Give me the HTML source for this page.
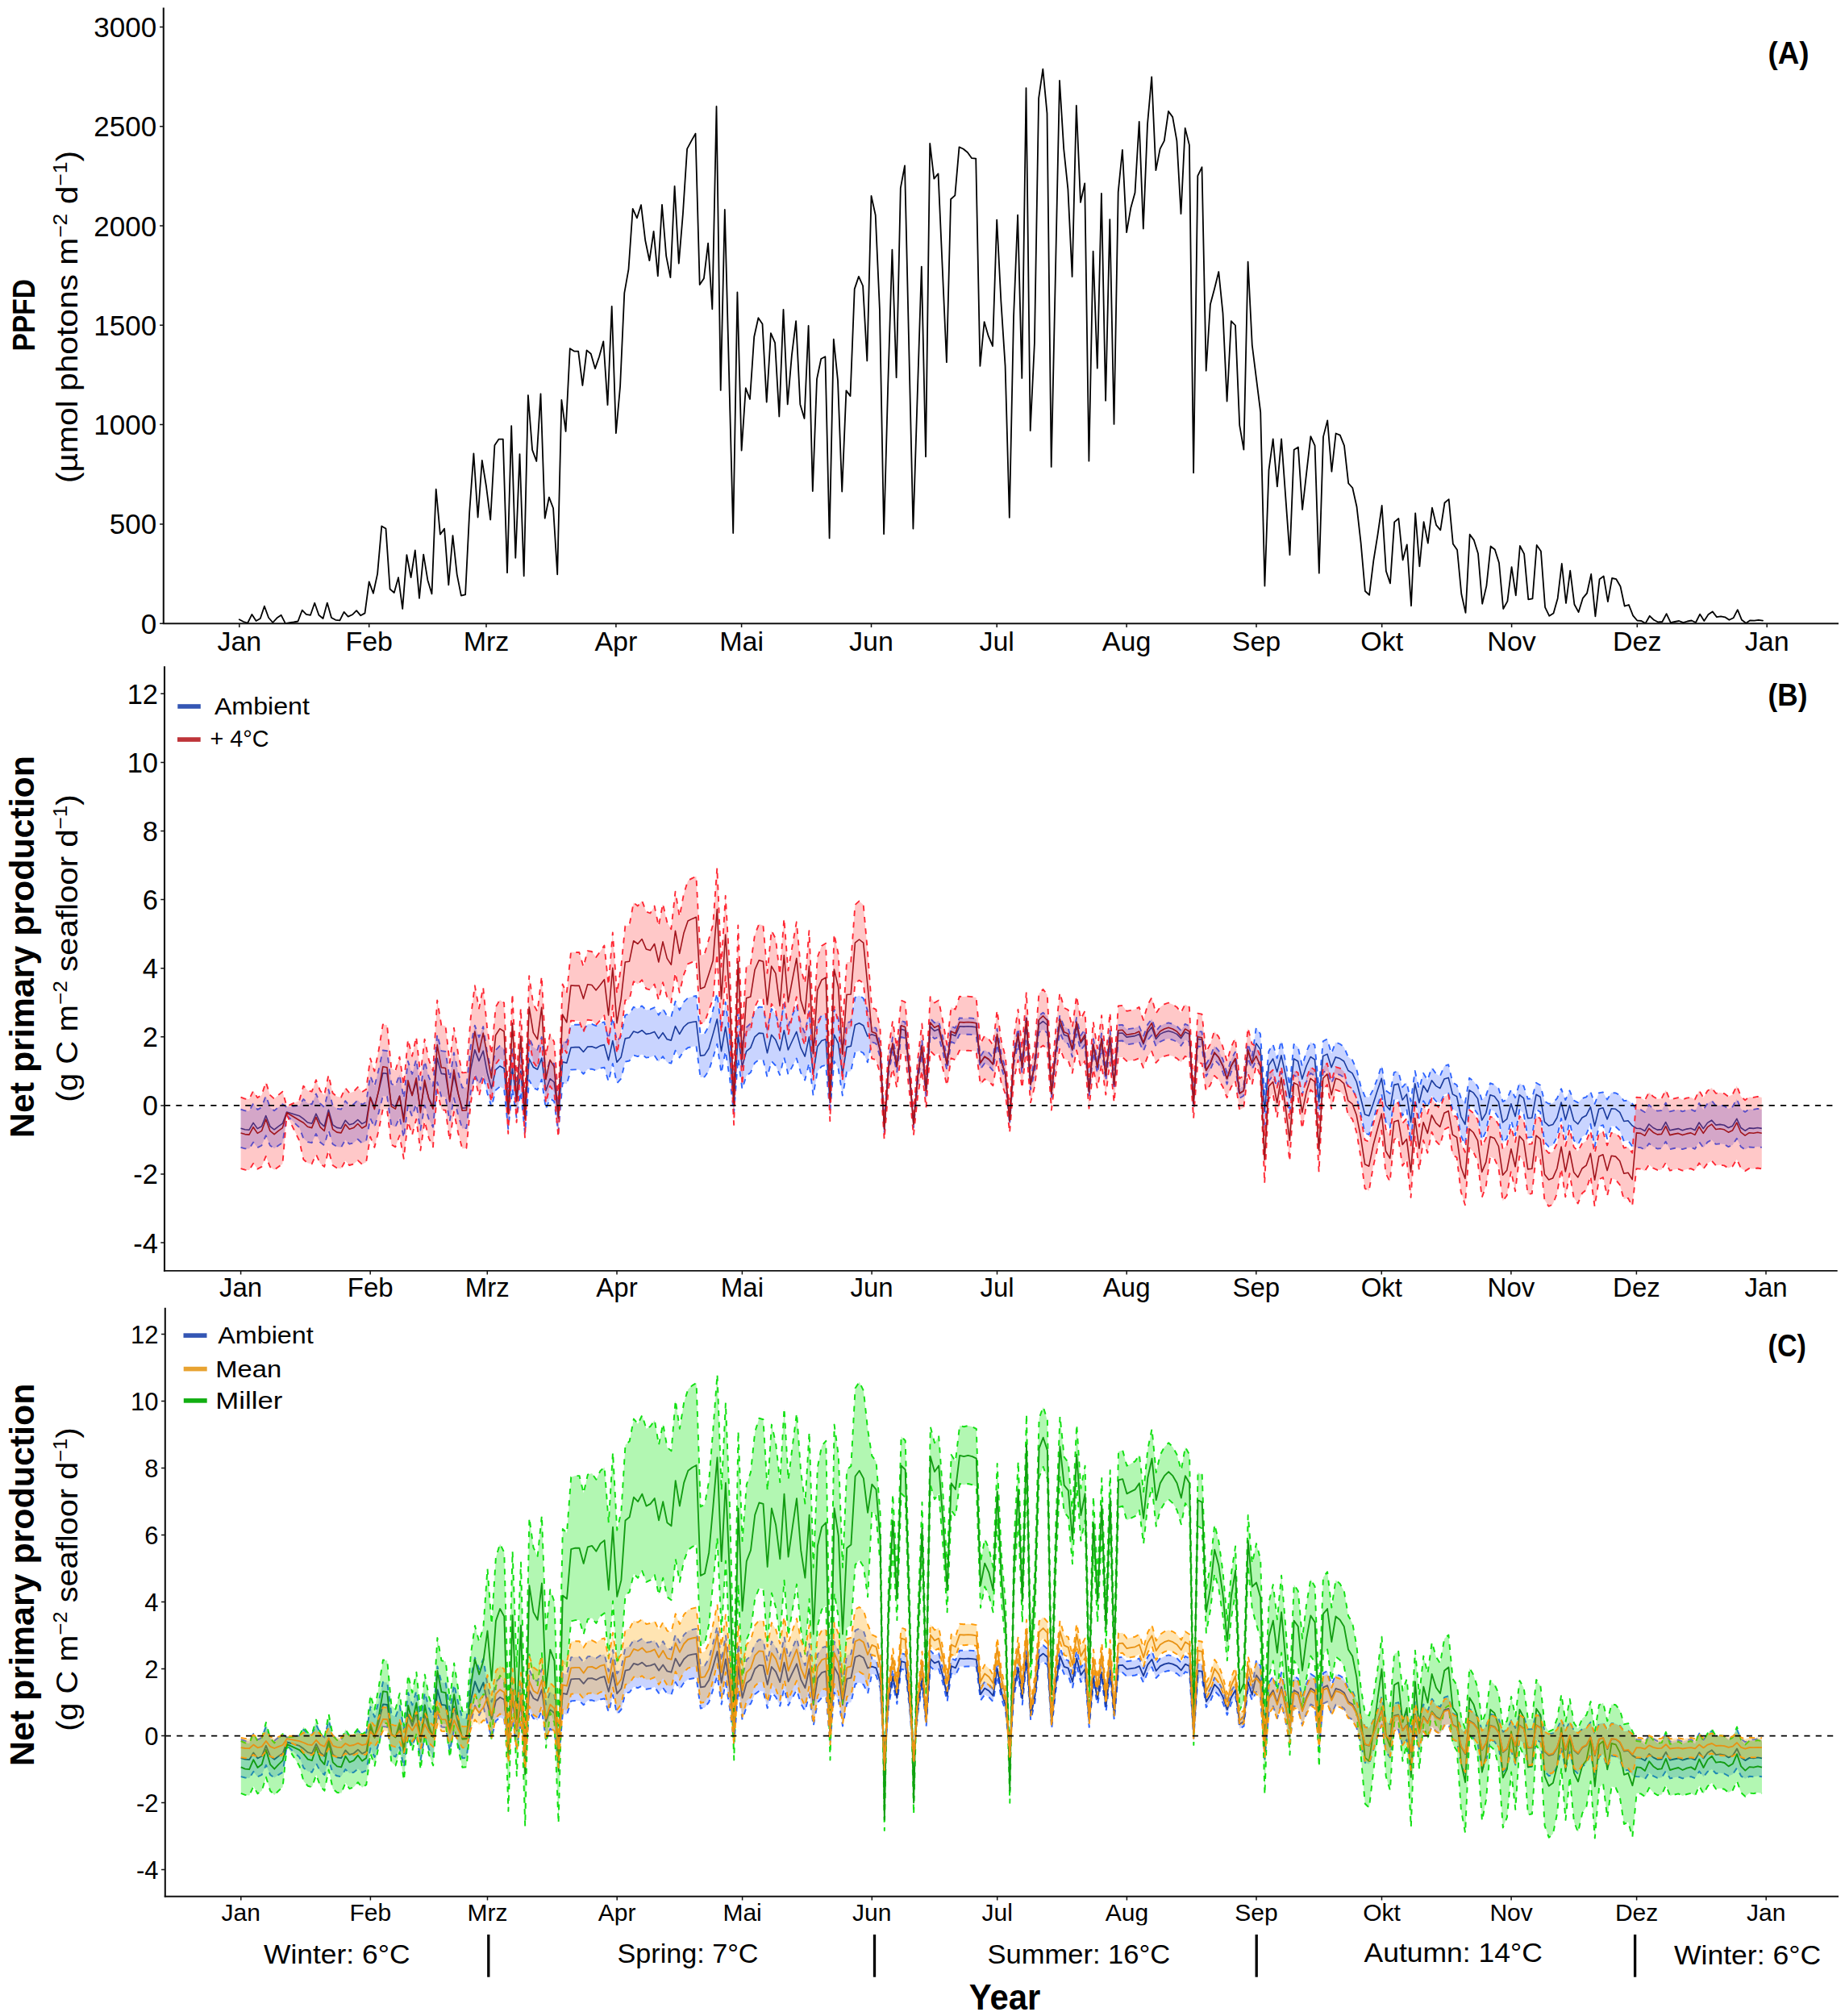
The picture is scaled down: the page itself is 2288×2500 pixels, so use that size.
<!DOCTYPE html>
<html lang="en"><head><meta charset="utf-8"><title>PPFD and net primary production over the year</title>
<style>html,body{margin:0;padding:0;background:#fff}body{width:2288px;height:2500px;overflow:hidden}svg{display:block}</style>
</head><body>
<svg width="2288" height="2500" viewBox="0 0 2288 2500">
<rect width="2288" height="2500" fill="#fff"/>
<polyline points="296.8,768.3 302,771 307.2,772.5 312.4,761.9 317.6,770 322.8,767 327.9,751.7 333.1,766 338.3,772 343.5,766.3 348.7,762.8 353.9,773.2 359.1,772.2 364.3,771.5 369.5,770.5 374.7,756.7 379.8,761.9 385,762.8 390.2,747.8 395.4,762.8 400.6,767 405.8,747.6 411,766 416.2,768.8 421.4,769.3 426.6,758.9 431.7,764.6 436.9,762.3 442.1,757.2 447.3,763.3 452.5,760.4 457.7,721.4 462.9,735.7 468.1,711.6 473.3,652.4 478.5,655.6 483.6,730.5 488.8,735 494,716.2 499.2,755 504.4,688.1 509.6,716 514.8,682.5 520,741.9 525.2,687.6 530.4,719.4 535.5,736.5 540.7,606.7 545.9,662.7 551.1,655.6 556.3,725.4 561.5,664.2 566.7,712.3 571.9,738.7 577.1,737.4 582.2,635.1 587.4,562.4 592.6,641.5 597.8,571 603,603 608.2,644.5 613.4,552.2 618.6,544.6 623.8,544.6 629,710.1 634.2,528.1 639.3,691.8 644.5,563.1 649.7,714.3 654.9,490.1 660.1,557.9 665.3,572 670.5,488.4 675.7,642.7 680.9,616.6 686.1,630.2 691.2,712.3 696.4,496 701.6,535 706.8,432.2 712,435.6 717.2,435.6 722.4,478 727.6,434.4 732.8,438.8 738,457.1 743.1,442.3 748.3,423.3 753.5,502.2 758.7,379.9 763.9,537.2 769.1,479 774.3,363.4 779.5,333.8 784.7,258.8 789.9,270.4 795,254.1 800.2,298 805.4,323.2 810.6,286.9 815.8,342.4 821,253.9 826.2,317.7 831.4,344.1 836.6,230.9 841.8,326.6 846.9,265.2 852.1,184.6 857.3,174.9 862.5,165.6 867.7,353 872.9,345.3 878.1,301.7 883.3,383.3 888.5,132 893.7,483.9 898.8,260 904,460 909.2,661 914.4,362.4 919.6,558.7 924.8,481.2 930,495 935.2,417.8 940.4,394.2 945.5,401.8 950.7,498.7 955.9,413.2 961.1,425.2 966.3,516.5 971.5,383.8 976.7,501.4 981.9,440.3 987.1,398.1 992.3,501.4 997.5,519 1002.6,404 1007.8,609 1013,470.1 1018.2,445 1023.4,442.3 1028.6,667.4 1033.8,420.6 1039,471.9 1044.2,609.5 1049.4,484.4 1054.5,491.1 1059.7,358.4 1064.9,342.9 1070.1,354.5 1075.3,447.4 1080.5,243 1085.7,266.7 1090.9,383.6 1096.1,662.2 1101.2,477.3 1106.4,309.6 1111.6,468.2 1116.8,233.1 1122,205.5 1127.2,430.4 1132.4,655.6 1137.6,493.3 1142.8,330.6 1148,566.3 1153.2,177.9 1158.3,221.6 1163.5,215.4 1168.7,332.3 1173.9,449.2 1179.1,247 1184.3,242.3 1189.5,182.3 1194.7,184.8 1199.9,189 1205.1,196.2 1210.2,196.6 1215.4,453.9 1220.6,399.1 1225.8,416.9 1231,429.2 1236.2,272.6 1241.4,374.2 1246.6,453.9 1251.8,641.8 1257,393.4 1262.1,266.7 1267.3,468.9 1272.5,109.1 1277.7,534 1282.9,425.5 1288.1,121.9 1293.3,85.7 1298.5,140.7 1303.7,578.9 1308.9,339.2 1314,100 1319.2,184.6 1324.4,234.6 1329.6,343.1 1334.8,130.8 1340,250.9 1345.2,227.5 1350.4,571.7 1355.6,311.6 1360.8,456.6 1365.9,239.8 1371.1,496.8 1376.3,272.1 1381.5,525.9 1386.7,238.1 1391.9,185.8 1397.1,288.1 1402.3,257.8 1407.5,239.1 1412.7,150.8 1417.8,283.5 1423,154 1428.2,95.3 1433.4,211.2 1438.6,184.6 1443.8,174.7 1449,138 1454.2,145.1 1459.4,174.7 1464.5,265.2 1469.7,158.9 1474.9,179.9 1480.1,586.3 1485.3,218.1 1490.5,207.3 1495.7,459.8 1500.9,377.4 1506.1,357.9 1511.3,337 1516.5,388.3 1521.6,497.7 1526.8,398.1 1532,403.5 1537.2,527.3 1542.4,557.7 1547.6,324.6 1552.8,428 1558,469.6 1563.2,511.1 1568.4,726.6 1573.5,582.8 1578.7,544.4 1583.9,603.3 1589.1,544.4 1594.3,616.6 1599.5,688.1 1604.7,557.7 1609.9,554.5 1615.1,631.9 1620.2,586.3 1625.4,541.1 1630.6,552.7 1635.8,710.6 1641,541.6 1646.2,521.4 1651.4,584.8 1656.6,537.5 1661.8,539.7 1667,552.7 1672.2,599.3 1677.3,605 1682.5,628.2 1687.7,673.8 1692.9,733 1698.1,737.9 1703.3,695.3 1708.5,663.2 1713.7,627 1718.9,708.3 1724,723.4 1729.2,647.4 1734.4,643 1739.6,694.5 1744.8,675.3 1750,751.3 1755.2,636.3 1760.4,702.4 1765.6,647.2 1770.8,673.6 1776,629.7 1781.1,651.1 1786.3,657.3 1791.5,623.5 1796.7,619.1 1801.9,674.6 1807.1,682 1812.3,736.5 1817.5,759.9 1822.7,662.7 1827.9,669.9 1833,686.4 1838.2,748.8 1843.4,726.6 1848.6,677.5 1853.8,681.5 1859,698 1864.2,755 1869.4,745.6 1874.6,703.2 1879.8,738.4 1884.9,677 1890.1,686.9 1895.3,743.4 1900.5,742.4 1905.7,676 1910.9,683.4 1916.1,753.2 1921.3,763.8 1926.5,760.6 1931.7,741.9 1936.8,699 1942,748 1947.2,707.6 1952.4,749.5 1957.6,759.1 1962.8,741.9 1968,735.7 1973.2,712 1978.4,764.3 1983.6,718.2 1988.7,714.5 1993.9,746.1 1999.1,717 2004.3,718.2 2009.5,727.3 2014.7,751.7 2019.9,750 2025.1,763.3 2030.3,769.5 2035.5,770 2040.6,773 2045.8,763.8 2051,768.8 2056.2,771.5 2061.4,771 2066.6,761.1 2071.8,772.2 2077,771 2082.2,770 2087.4,772.2 2092.5,770.5 2097.7,769.5 2102.9,772 2108.1,761.6 2113.3,770 2118.5,762.1 2123.7,758.4 2128.9,765.1 2134.1,764.3 2139.2,765.3 2144.4,768.8 2149.6,766.3 2154.8,756.2 2160,768.8 2165.2,772.7 2170.4,769.3 2175.6,769.7 2180.8,768.8 2186,769.7" fill="none" stroke="#000" stroke-width="1.8" stroke-linejoin="round" stroke-linecap="round"/>
<path d="M202.8 9.5V774.1" fill="none" stroke="#111" stroke-width="2.1"/>
<path d="M201.8 773.2H2280" fill="none" stroke="#111" stroke-width="1.85"/>
<path d="M202.8 773.2h-4.7M202.8 649.9h-4.7M202.8 526.6h-4.7M202.8 403.3h-4.7M202.8 280h-4.7M202.8 156.7h-4.7M202.8 33.4h-4.7M296.8 773.2v4.7M457.7 773.2v4.7M603 773.2v4.7M763.9 773.2v4.7M919.6 773.2v4.7M1080.5 773.2v4.7M1236.2 773.2v4.7M1397.1 773.2v4.7M1558 773.2v4.7M1713.7 773.2v4.7M1874.6 773.2v4.7M2030.3 773.2v4.7M2191.2 773.2v4.7" stroke="#111" stroke-width="1.5" fill="none"/>
<g style="font-family:&quot;Liberation Sans&quot;,Arial,Helvetica,sans-serif;font-size:35px" text-anchor="end">
<text x="194.2" y="785.7">0</text>
<text x="194.2" y="662.4">500</text>
<text x="194.2" y="539.1">1000</text>
<text x="194.2" y="415.8">1500</text>
<text x="194.2" y="292.5">2000</text>
<text x="194.2" y="169.2">2500</text>
<text x="194.2" y="45.9">3000</text>
</g>
<g style="font-family:&quot;Liberation Sans&quot;,Arial,Helvetica,sans-serif;font-size:34px" text-anchor="middle">
<text x="296.8" y="806.5">Jan</text>
<text x="457.7" y="806.5">Feb</text>
<text x="603" y="806.5">Mrz</text>
<text x="763.9" y="806.5">Apr</text>
<text x="919.6" y="806.5">Mai</text>
<text x="1080.5" y="806.5">Jun</text>
<text x="1236.2" y="806.5">Jul</text>
<text x="1397.1" y="806.5">Aug</text>
<text x="1558" y="806.5">Sep</text>
<text x="1713.7" y="806.5">Okt</text>
<text x="1874.6" y="806.5">Nov</text>
<text x="2030.3" y="806.5">Dez</text>
<text x="2191.2" y="806.5">Jan</text>
</g>
<polygon points="298.6,1375.7 303.8,1377.4 309,1377.8 314.1,1368.4 319.3,1376.1 324.5,1373.1 329.7,1358.9 334.9,1373.1 340.1,1377.4 345.2,1373.1 350.4,1369.3 355.6,1373 371.1,1370.9 376.3,1363 381.5,1368 386.7,1369.3 391.9,1356.4 397.1,1368.4 402.2,1373.1 407.4,1351.2 412.6,1371 417.8,1374.8 423,1375.7 428.2,1365.1 433.3,1371 438.5,1369.3 443.7,1364.2 448.9,1369.7 454.1,1366.7 459.2,1334.1 464.4,1347.2 469.6,1326.4 474.8,1302.5 480,1303.2 485.2,1343.7 490.3,1346.8 495.5,1332.6 500.7,1362.2 505.9,1316 511.1,1331.9 516.2,1313.6 521.4,1351.2 526.6,1315.7 531.8,1335.6 537,1346.8 542.2,1282.6 547.3,1303.2 552.5,1303.8 557.7,1338.7 562.9,1305.5 568.1,1329.3 573.2,1348.8 578.4,1348.4 583.6,1297.6 588.8,1271.6 594,1286.2 599.2,1273 604.3,1306.5 609.5,1327.9 614.7,1302.2 619.9,1296.9 625.1,1300.3 630.2,1361.3 635.4,1299.8 640.6,1344.6 645.8,1304.1 651,1368.4 656.2,1286.9 661.3,1298.4 666.5,1301.7 671.7,1286 676.9,1331.3 682.1,1314.6 687.2,1319.3 692.4,1367 697.6,1291.2 702.8,1292.7 708,1271.2 713.2,1270.7 718.3,1270.7 723.5,1277.4 728.7,1270.3 733.9,1269.8 739.1,1272.2 744.3,1268.8 749.4,1267.4 754.6,1288.8 759.8,1261.7 765,1291.7 770.2,1284.6 775.3,1258.8 780.5,1257.4 785.7,1248.8 790.9,1250.7 796.1,1247.4 801.3,1252.6 806.4,1251.7 811.6,1249.3 816.8,1258.8 822,1250.7 827.2,1259.8 832.3,1261.2 837.5,1241.7 842.7,1252.6 847.9,1242.6 853.1,1237.4 858.3,1235.9 863.4,1235 868.6,1282.7 873.8,1281.7 879,1272.6 884.2,1252.6 889.3,1231.7 894.5,1276.5 899.7,1242.6 904.9,1283.6 910.1,1349.6 915.3,1253.6 920.4,1295.9 925.6,1274.2 930.8,1269.3 936,1253.9 941.2,1248.6 946.4,1249.1 951.5,1276.6 956.7,1251 961.9,1258.2 967.1,1273.2 972.3,1244.7 977.4,1272.2 982.6,1259.2 987.8,1246.6 993,1269.3 998.2,1281.4 1003.4,1253.9 1008.5,1306 1013.7,1267.4 1018.9,1259.2 1024.1,1257.3 1029.3,1349.6 1034.4,1251 1039.6,1263.1 1044.8,1306 1050,1268.4 1055.2,1266.9 1060.4,1237 1065.5,1234.6 1070.7,1238 1075.9,1252.9 1081.1,1272.9 1086.3,1274.8 1091.4,1293.2 1096.6,1396.2 1101.8,1316.7 1107,1286.3 1112.2,1314.9 1117.4,1266 1122.5,1267.5 1127.7,1320.7 1132.9,1389.9 1138.1,1327.8 1143.3,1289.1 1148.4,1346.6 1153.6,1262.7 1158.8,1268.3 1164,1266 1169.2,1286.3 1174.4,1311.9 1179.5,1272.5 1184.7,1274.8 1189.9,1262.3 1195.1,1262.7 1200.3,1262.3 1205.5,1262.7 1210.6,1263.4 1215.8,1310.1 1221,1302 1226.2,1305.4 1231.4,1311.9 1236.5,1275.6 1241.7,1307.5 1246.9,1325.2 1252.1,1385.5 1257.3,1302.8 1262.5,1274.8 1267.6,1315.8 1272.8,1258.2 1278,1338.1 1283.2,1312.7 1288.4,1259.7 1293.5,1255.7 1298.7,1260.4 1303.9,1350.2 1309.1,1296.5 1314.3,1259 1319.5,1273.2 1324.6,1275.2 1329.8,1293.2 1335,1261.9 1340.2,1284.3 1345.4,1276.3 1350.5,1347.5 1355.7,1287.1 1360.9,1315.8 1366.1,1280.7 1371.3,1326.1 1376.5,1277.9 1381.6,1338.1 1386.8,1271.3 1392,1270.9 1397.2,1276.3 1402.4,1275.6 1407.5,1274.8 1412.7,1272.5 1417.9,1285.5 1423.1,1270.6 1428.3,1263.4 1433.5,1278.7 1438.6,1272.5 1443.8,1269.8 1449,1268.3 1454.2,1269.8 1459.4,1272.5 1464.6,1277.9 1469.7,1269.8 1474.9,1272.5 1480.1,1363.1 1485.3,1278.7 1490.5,1279.5 1495.6,1319.8 1500.8,1311 1506,1296.9 1511.2,1302.8 1516.4,1313.6 1521.6,1330.5 1526.7,1314 1531.9,1304.5 1537.1,1349.7 1542.3,1346.2 1547.5,1293.6 1552.6,1310.6 1557.8,1274.3 1563,1282.3 1568.2,1357.3 1573.4,1303.7 1578.6,1295 1583.7,1312.4 1588.9,1290.4 1594.1,1316.1 1599.3,1346.6 1604.5,1295 1609.6,1298.2 1614.8,1322.1 1620,1304.6 1625.2,1292.2 1630.4,1295.9 1635.6,1349.9 1640.7,1291.3 1645.9,1288.5 1651.1,1306.4 1656.3,1292.7 1661.5,1294.5 1666.6,1298.2 1671.8,1310.6 1677,1314.3 1682.2,1325.7 1687.4,1346.6 1692.6,1359.7 1697.7,1360.8 1702.9,1351.2 1708.1,1337.7 1713.3,1321.2 1718.5,1352.3 1723.7,1356.1 1728.8,1329.9 1734,1328.5 1739.2,1348.2 1744.4,1342.3 1749.6,1365.9 1754.7,1328 1759.9,1350.4 1765.1,1330.8 1770.3,1339.5 1775.5,1323.9 1780.7,1331.3 1785.8,1334.5 1791,1322.1 1796.2,1320.2 1801.4,1342.3 1806.6,1345.5 1811.7,1361.3 1816.9,1367.6 1822.1,1336.8 1827.3,1340.5 1832.5,1347.2 1837.7,1364.3 1842.8,1358.6 1848,1343.2 1853.2,1345.2 1858.4,1349.8 1863.6,1366.1 1868.7,1363.3 1873.9,1351.2 1879.1,1361.2 1884.3,1343.2 1889.5,1346.8 1894.7,1362.7 1899.8,1362.4 1905,1342.7 1910.2,1345.8 1915.4,1365.6 1920.6,1368.8 1925.7,1367.8 1930.9,1362.2 1936.1,1350.1 1941.3,1364.1 1946.5,1352.4 1951.7,1364.5 1956.8,1367.4 1962,1362.2 1967.2,1360.4 1972.4,1353.7 1977.6,1368.9 1982.8,1355.4 1987.9,1354.4 1993.1,1363.5 1998.3,1355.1 2003.5,1355.4 2008.7,1358 2013.8,1365.2 2019,1364.6 2024.2,1368.6 2029.4,1375.6 2034.6,1376.1 2039.8,1379.2 2044.9,1370 2050.1,1374.9 2055.3,1377.6 2060.5,1377.1 2065.7,1367.5 2070.8,1378.4 2076,1377.1 2081.2,1376.1 2086.4,1378.4 2091.6,1376.6 2096.8,1375.6 2101.9,1378.1 2107.1,1367.9 2112.3,1376.1 2117.5,1368.4 2122.7,1364.9 2127.8,1371.2 2133,1370.5 2138.2,1371.5 2143.4,1374.9 2148.6,1372.4 2153.8,1362.9 2158.9,1374.9 2164.1,1378.9 2169.3,1375.4 2174.5,1375.9 2179.7,1374.9 2184.8,1375.9 2184.8,1422.9 2179.7,1422.1 2174.5,1422.9 2169.3,1422.5 2164.1,1425.6 2158.9,1422.1 2153.8,1411.7 2148.6,1420 2143.4,1422.1 2138.2,1419.1 2133,1418.3 2127.8,1418.9 2122.7,1413.4 2117.5,1416.4 2112.3,1423.2 2107.1,1416 2101.9,1424.9 2096.8,1422.7 2091.6,1423.6 2086.4,1425.1 2081.2,1423.2 2076,1424 2070.8,1425.1 2065.7,1415.6 2060.5,1424 2055.3,1424.5 2050.1,1422.1 2044.9,1417.9 2039.8,1425.8 2034.6,1423.2 2029.4,1422.7 2024.2,1421.8 2019,1414.3 2013.8,1415.3 2008.7,1401.9 2003.5,1397 1998.3,1396.4 1993.1,1412.1 1987.9,1395.1 1982.8,1397 1977.6,1422.3 1972.4,1393.8 1967.2,1406.5 1962,1409.8 1956.8,1419.4 1951.7,1414 1946.5,1391.4 1941.3,1413.2 1936.1,1387 1930.9,1409.8 1925.7,1420.2 1920.6,1422 1915.4,1416.1 1910.2,1379.1 1905,1375.7 1899.8,1410.1 1894.7,1410.6 1889.5,1380.8 1884.3,1376.1 1879.1,1407.9 1873.9,1389.1 1868.7,1411.9 1863.6,1417.1 1858.4,1386.5 1853.2,1378.1 1848,1376.1 1842.8,1403 1837.7,1413.7 1832.5,1381.5 1827.3,1373.7 1822.1,1370.4 1816.9,1419.8 1811.7,1408.1 1806.6,1378.5 1801.4,1375.3 1796.2,1355.7 1791,1357.3 1785.8,1368.3 1780.7,1365.5 1775.5,1359 1770.3,1372.8 1765.1,1365.1 1759.9,1387.7 1754.7,1362.6 1749.6,1416.8 1744.4,1375.3 1739.2,1383.6 1734,1363 1728.8,1364.3 1723.7,1398.4 1718.5,1391.2 1713.3,1356.5 1708.1,1371.2 1702.9,1389.2 1697.7,1407.1 1692.6,1405 1687.4,1380.5 1682.2,1360.6 1677,1350.4 1671.8,1347.1 1666.6,1336.1 1661.5,1332.8 1656.3,1331.2 1651.1,1343.4 1645.9,1327.5 1640.7,1329.9 1635.6,1386.6 1630.4,1334 1625.2,1330.8 1620,1341.8 1614.8,1357.3 1609.6,1336.1 1604.5,1333.2 1599.3,1380.5 1594.1,1352 1588.9,1329.1 1583.7,1348.7 1578.6,1333.2 1573.4,1341 1568.2,1400.5 1563,1322 1557.8,1314.8 1552.6,1326.4 1547.5,1311.1 1542.3,1358.7 1537.1,1362 1531.9,1321 1526.7,1329.6 1521.6,1344.5 1516.4,1329.2 1511.2,1319.4 1506,1314.1 1500.8,1326.8 1495.6,1334.8 1490.5,1298.2 1485.3,1297.5 1480.1,1374.1 1474.9,1291.9 1469.7,1289.5 1464.6,1296.8 1459.4,1291.9 1454.2,1289.5 1449,1288.1 1443.8,1289.5 1438.6,1291.9 1433.5,1297.5 1428.3,1283.7 1423.1,1290.1 1417.9,1303.7 1412.7,1291.9 1407.5,1294 1402.4,1294.7 1397.2,1295.4 1392,1290.5 1386.8,1290.8 1381.6,1351.4 1376.5,1296.8 1371.3,1340.5 1366.1,1299.3 1360.9,1331.2 1355.7,1305.1 1350.5,1359.9 1345.4,1295.4 1340.2,1302.6 1335,1282.3 1329.8,1310.7 1324.6,1294.3 1319.5,1292.6 1314.3,1279.6 1309.1,1313.7 1303.9,1362.4 1298.7,1281 1293.5,1276.7 1288.4,1280.3 1283.2,1328.4 1278,1351.4 1272.8,1279 1267.6,1331.2 1262.5,1294 1257.3,1319.4 1252.1,1394.4 1246.9,1339.7 1241.7,1323.7 1236.5,1294.7 1231.4,1327.6 1226.2,1321.7 1221,1318.6 1215.8,1326 1210.6,1283.7 1205.5,1283 1200.3,1282.6 1195.1,1283 1189.9,1282.6 1184.7,1294 1179.5,1291.9 1174.4,1327.6 1169.2,1304.4 1164,1286 1158.8,1288.1 1153.6,1283 1148.4,1359.1 1143.3,1307 1138.1,1342.1 1132.9,1398.4 1127.7,1335.6 1122.5,1287.4 1117.4,1286 1112.2,1330.4 1107,1304.4 1101.8,1332 1096.6,1404.1 1091.4,1310.7 1086.3,1294 1081.1,1292.2 1075.9,1317.4 1070.7,1305.8 1065.5,1303.2 1060.4,1305 1055.2,1328.2 1050,1329.4 1044.8,1358.6 1039.6,1325.3 1034.4,1315.9 1029.3,1380.3 1024.1,1320.8 1018.9,1322.3 1013.7,1328.6 1008.5,1358.6 1003.4,1318.1 998.2,1339.5 993,1330.1 987.8,1312.5 982.6,1322.3 977.4,1332.4 972.3,1311 967.1,1333.1 961.9,1321.5 956.7,1315.9 951.5,1335.7 946.4,1314.4 941.2,1314 936,1318.1 930.8,1330.1 925.6,1333.9 920.4,1350.7 915.3,1312.4 910.1,1380.3 904.9,1336.8 899.7,1303.5 894.5,1331 889.3,1294.6 884.2,1311.6 879,1327.9 873.8,1335.3 868.6,1336 863.4,1297.3 858.3,1298.1 853.1,1299.2 847.9,1303.5 842.7,1311.6 837.5,1302.7 832.3,1318.6 827.2,1317.4 822,1310.1 816.8,1316.7 811.6,1308.9 806.4,1310.9 801.3,1311.6 796.1,1307.4 790.9,1310.1 785.7,1308.5 780.5,1315.5 775.3,1316.7 770.2,1337.6 765,1343.4 759.8,1319 754.6,1341.1 749.4,1323.6 744.3,1324.8 739.1,1327.5 733.9,1325.6 728.7,1326 723.5,1331.8 718.3,1326.4 713.2,1326.4 708,1326.7 702.8,1344.2 697.6,1343 692.4,1404.6 687.2,1365.8 682.1,1362 676.9,1375.5 671.7,1338.7 666.5,1351.5 661.3,1348.8 656.2,1339.5 651,1405.7 645.8,1353.5 640.6,1386.4 635.4,1350 630.2,1399.9 625.1,1350.4 619.9,1347.6 614.7,1351.9 609.5,1372.8 604.3,1355.4 599.2,1333.5 594,1345 588.8,1332.3 583.6,1354.9 578.4,1399.1 573.2,1399.4 568.1,1382.5 562.9,1361.7 557.7,1390.6 552.5,1360.3 547.3,1359.7 542.2,1341.9 537,1397.7 531.8,1388 526.6,1370.6 521.4,1401.5 516.2,1368.8 511.1,1384.7 505.9,1370.9 500.7,1411 495.5,1385.4 490.3,1397.7 485.2,1395 480,1359.7 474.8,1359.2 469.6,1379.9 464.4,1398 459.2,1386.7 454.1,1415 448.9,1417.6 443.7,1412.8 438.5,1417.2 433.3,1418.7 428.2,1413.5 423,1422.8 417.8,1422 412.6,1418.7 407.4,1401.5 402.2,1420.5 397.1,1416.5 391.9,1406 386.7,1417.2 381.5,1416.1 376.3,1411.7 371.1,1398.1 355.6,1383.2 350.4,1417.2 345.2,1420.5 340.1,1424.3 334.9,1420.5 329.7,1408.2 324.5,1420.5 319.3,1423.1 314.1,1416.5 309,1424.6 303.8,1424.3 298.6,1422.8" fill="rgba(65,105,255,0.285)" stroke="none"/>
<polyline points="298.6,1375.7 303.8,1377.4 309,1377.8 314.1,1368.4 319.3,1376.1 324.5,1373.1 329.7,1358.9 334.9,1373.1 340.1,1377.4 345.2,1373.1 350.4,1369.3 355.6,1373 371.1,1370.9 376.3,1363 381.5,1368 386.7,1369.3 391.9,1356.4 397.1,1368.4 402.2,1373.1 407.4,1351.2 412.6,1371 417.8,1374.8 423,1375.7 428.2,1365.1 433.3,1371 438.5,1369.3 443.7,1364.2 448.9,1369.7 454.1,1366.7 459.2,1334.1 464.4,1347.2 469.6,1326.4 474.8,1302.5 480,1303.2 485.2,1343.7 490.3,1346.8 495.5,1332.6 500.7,1362.2 505.9,1316 511.1,1331.9 516.2,1313.6 521.4,1351.2 526.6,1315.7 531.8,1335.6 537,1346.8 542.2,1282.6 547.3,1303.2 552.5,1303.8 557.7,1338.7 562.9,1305.5 568.1,1329.3 573.2,1348.8 578.4,1348.4 583.6,1297.6 588.8,1271.6 594,1286.2 599.2,1273 604.3,1306.5 609.5,1327.9 614.7,1302.2 619.9,1296.9 625.1,1300.3 630.2,1361.3 635.4,1299.8 640.6,1344.6 645.8,1304.1 651,1368.4 656.2,1286.9 661.3,1298.4 666.5,1301.7 671.7,1286 676.9,1331.3 682.1,1314.6 687.2,1319.3 692.4,1367 697.6,1291.2 702.8,1292.7 708,1271.2 713.2,1270.7 718.3,1270.7 723.5,1277.4 728.7,1270.3 733.9,1269.8 739.1,1272.2 744.3,1268.8 749.4,1267.4 754.6,1288.8 759.8,1261.7 765,1291.7 770.2,1284.6 775.3,1258.8 780.5,1257.4 785.7,1248.8 790.9,1250.7 796.1,1247.4 801.3,1252.6 806.4,1251.7 811.6,1249.3 816.8,1258.8 822,1250.7 827.2,1259.8 832.3,1261.2 837.5,1241.7 842.7,1252.6 847.9,1242.6 853.1,1237.4 858.3,1235.9 863.4,1235 868.6,1282.7 873.8,1281.7 879,1272.6 884.2,1252.6 889.3,1231.7 894.5,1276.5 899.7,1242.6 904.9,1283.6 910.1,1349.6 915.3,1253.6 920.4,1295.9 925.6,1274.2 930.8,1269.3 936,1253.9 941.2,1248.6 946.4,1249.1 951.5,1276.6 956.7,1251 961.9,1258.2 967.1,1273.2 972.3,1244.7 977.4,1272.2 982.6,1259.2 987.8,1246.6 993,1269.3 998.2,1281.4 1003.4,1253.9 1008.5,1306 1013.7,1267.4 1018.9,1259.2 1024.1,1257.3 1029.3,1349.6 1034.4,1251 1039.6,1263.1 1044.8,1306 1050,1268.4 1055.2,1266.9 1060.4,1237 1065.5,1234.6 1070.7,1238 1075.9,1252.9 1081.1,1272.9 1086.3,1274.8 1091.4,1293.2 1096.6,1396.2 1101.8,1316.7 1107,1286.3 1112.2,1314.9 1117.4,1266 1122.5,1267.5 1127.7,1320.7 1132.9,1389.9 1138.1,1327.8 1143.3,1289.1 1148.4,1346.6 1153.6,1262.7 1158.8,1268.3 1164,1266 1169.2,1286.3 1174.4,1311.9 1179.5,1272.5 1184.7,1274.8 1189.9,1262.3 1195.1,1262.7 1200.3,1262.3 1205.5,1262.7 1210.6,1263.4 1215.8,1310.1 1221,1302 1226.2,1305.4 1231.4,1311.9 1236.5,1275.6 1241.7,1307.5 1246.9,1325.2 1252.1,1385.5 1257.3,1302.8 1262.5,1274.8 1267.6,1315.8 1272.8,1258.2 1278,1338.1 1283.2,1312.7 1288.4,1259.7 1293.5,1255.7 1298.7,1260.4 1303.9,1350.2 1309.1,1296.5 1314.3,1259 1319.5,1273.2 1324.6,1275.2 1329.8,1293.2 1335,1261.9 1340.2,1284.3 1345.4,1276.3 1350.5,1347.5 1355.7,1287.1 1360.9,1315.8 1366.1,1280.7 1371.3,1326.1 1376.5,1277.9 1381.6,1338.1 1386.8,1271.3 1392,1270.9 1397.2,1276.3 1402.4,1275.6 1407.5,1274.8 1412.7,1272.5 1417.9,1285.5 1423.1,1270.6 1428.3,1263.4 1433.5,1278.7 1438.6,1272.5 1443.8,1269.8 1449,1268.3 1454.2,1269.8 1459.4,1272.5 1464.6,1277.9 1469.7,1269.8 1474.9,1272.5 1480.1,1363.1 1485.3,1278.7 1490.5,1279.5 1495.6,1319.8 1500.8,1311 1506,1296.9 1511.2,1302.8 1516.4,1313.6 1521.6,1330.5 1526.7,1314 1531.9,1304.5 1537.1,1349.7 1542.3,1346.2 1547.5,1293.6 1552.6,1310.6 1557.8,1274.3 1563,1282.3 1568.2,1357.3 1573.4,1303.7 1578.6,1295 1583.7,1312.4 1588.9,1290.4 1594.1,1316.1 1599.3,1346.6 1604.5,1295 1609.6,1298.2 1614.8,1322.1 1620,1304.6 1625.2,1292.2 1630.4,1295.9 1635.6,1349.9 1640.7,1291.3 1645.9,1288.5 1651.1,1306.4 1656.3,1292.7 1661.5,1294.5 1666.6,1298.2 1671.8,1310.6 1677,1314.3 1682.2,1325.7 1687.4,1346.6 1692.6,1359.7 1697.7,1360.8 1702.9,1351.2 1708.1,1337.7 1713.3,1321.2 1718.5,1352.3 1723.7,1356.1 1728.8,1329.9 1734,1328.5 1739.2,1348.2 1744.4,1342.3 1749.6,1365.9 1754.7,1328 1759.9,1350.4 1765.1,1330.8 1770.3,1339.5 1775.5,1323.9 1780.7,1331.3 1785.8,1334.5 1791,1322.1 1796.2,1320.2 1801.4,1342.3 1806.6,1345.5 1811.7,1361.3 1816.9,1367.6 1822.1,1336.8 1827.3,1340.5 1832.5,1347.2 1837.7,1364.3 1842.8,1358.6 1848,1343.2 1853.2,1345.2 1858.4,1349.8 1863.6,1366.1 1868.7,1363.3 1873.9,1351.2 1879.1,1361.2 1884.3,1343.2 1889.5,1346.8 1894.7,1362.7 1899.8,1362.4 1905,1342.7 1910.2,1345.8 1915.4,1365.6 1920.6,1368.8 1925.7,1367.8 1930.9,1362.2 1936.1,1350.1 1941.3,1364.1 1946.5,1352.4 1951.7,1364.5 1956.8,1367.4 1962,1362.2 1967.2,1360.4 1972.4,1353.7 1977.6,1368.9 1982.8,1355.4 1987.9,1354.4 1993.1,1363.5 1998.3,1355.1 2003.5,1355.4 2008.7,1358 2013.8,1365.2 2019,1364.6 2024.2,1368.6 2029.4,1375.6 2034.6,1376.1 2039.8,1379.2 2044.9,1370 2050.1,1374.9 2055.3,1377.6 2060.5,1377.1 2065.7,1367.5 2070.8,1378.4 2076,1377.1 2081.2,1376.1 2086.4,1378.4 2091.6,1376.6 2096.8,1375.6 2101.9,1378.1 2107.1,1367.9 2112.3,1376.1 2117.5,1368.4 2122.7,1364.9 2127.8,1371.2 2133,1370.5 2138.2,1371.5 2143.4,1374.9 2148.6,1372.4 2153.8,1362.9 2158.9,1374.9 2164.1,1378.9 2169.3,1375.4 2174.5,1375.9 2179.7,1374.9 2184.8,1375.9" fill="none" stroke="#2d64ff" stroke-width="1.85" stroke-dasharray="7 7.3" stroke-linejoin="round"/>
<polyline points="298.6,1422.8 303.8,1424.3 309,1424.6 314.1,1416.5 319.3,1423.1 324.5,1420.5 329.7,1408.2 334.9,1420.5 340.1,1424.3 345.2,1420.5 350.4,1417.2 355.6,1383.2 371.1,1398.1 376.3,1411.7 381.5,1416.1 386.7,1417.2 391.9,1406 397.1,1416.5 402.2,1420.5 407.4,1401.5 412.6,1418.7 417.8,1422 423,1422.8 428.2,1413.5 433.3,1418.7 438.5,1417.2 443.7,1412.8 448.9,1417.6 454.1,1415 459.2,1386.7 464.4,1398 469.6,1379.9 474.8,1359.2 480,1359.7 485.2,1395 490.3,1397.7 495.5,1385.4 500.7,1411 505.9,1370.9 511.1,1384.7 516.2,1368.8 521.4,1401.5 526.6,1370.6 531.8,1388 537,1397.7 542.2,1341.9 547.3,1359.7 552.5,1360.3 557.7,1390.6 562.9,1361.7 568.1,1382.5 573.2,1399.4 578.4,1399.1 583.6,1354.9 588.8,1332.3 594,1345 599.2,1333.5 604.3,1355.4 609.5,1372.8 614.7,1351.9 619.9,1347.6 625.1,1350.4 630.2,1399.9 635.4,1350 640.6,1386.4 645.8,1353.5 651,1405.7 656.2,1339.5 661.3,1348.8 666.5,1351.5 671.7,1338.7 676.9,1375.5 682.1,1362 687.2,1365.8 692.4,1404.6 697.6,1343 702.8,1344.2 708,1326.7 713.2,1326.4 718.3,1326.4 723.5,1331.8 728.7,1326 733.9,1325.6 739.1,1327.5 744.3,1324.8 749.4,1323.6 754.6,1341.1 759.8,1319 765,1343.4 770.2,1337.6 775.3,1316.7 780.5,1315.5 785.7,1308.5 790.9,1310.1 796.1,1307.4 801.3,1311.6 806.4,1310.9 811.6,1308.9 816.8,1316.7 822,1310.1 827.2,1317.4 832.3,1318.6 837.5,1302.7 842.7,1311.6 847.9,1303.5 853.1,1299.2 858.3,1298.1 863.4,1297.3 868.6,1336 873.8,1335.3 879,1327.9 884.2,1311.6 889.3,1294.6 894.5,1331 899.7,1303.5 904.9,1336.8 910.1,1380.3 915.3,1312.4 920.4,1350.7 925.6,1333.9 930.8,1330.1 936,1318.1 941.2,1314 946.4,1314.4 951.5,1335.7 956.7,1315.9 961.9,1321.5 967.1,1333.1 972.3,1311 977.4,1332.4 982.6,1322.3 987.8,1312.5 993,1330.1 998.2,1339.5 1003.4,1318.1 1008.5,1358.6 1013.7,1328.6 1018.9,1322.3 1024.1,1320.8 1029.3,1380.3 1034.4,1315.9 1039.6,1325.3 1044.8,1358.6 1050,1329.4 1055.2,1328.2 1060.4,1305 1065.5,1303.2 1070.7,1305.8 1075.9,1317.4 1081.1,1292.2 1086.3,1294 1091.4,1310.7 1096.6,1404.1 1101.8,1332 1107,1304.4 1112.2,1330.4 1117.4,1286 1122.5,1287.4 1127.7,1335.6 1132.9,1398.4 1138.1,1342.1 1143.3,1307 1148.4,1359.1 1153.6,1283 1158.8,1288.1 1164,1286 1169.2,1304.4 1174.4,1327.6 1179.5,1291.9 1184.7,1294 1189.9,1282.6 1195.1,1283 1200.3,1282.6 1205.5,1283 1210.6,1283.7 1215.8,1326 1221,1318.6 1226.2,1321.7 1231.4,1327.6 1236.5,1294.7 1241.7,1323.7 1246.9,1339.7 1252.1,1394.4 1257.3,1319.4 1262.5,1294 1267.6,1331.2 1272.8,1279 1278,1351.4 1283.2,1328.4 1288.4,1280.3 1293.5,1276.7 1298.7,1281 1303.9,1362.4 1309.1,1313.7 1314.3,1279.6 1319.5,1292.6 1324.6,1294.3 1329.8,1310.7 1335,1282.3 1340.2,1302.6 1345.4,1295.4 1350.5,1359.9 1355.7,1305.1 1360.9,1331.2 1366.1,1299.3 1371.3,1340.5 1376.5,1296.8 1381.6,1351.4 1386.8,1290.8 1392,1290.5 1397.2,1295.4 1402.4,1294.7 1407.5,1294 1412.7,1291.9 1417.9,1303.7 1423.1,1290.1 1428.3,1283.7 1433.5,1297.5 1438.6,1291.9 1443.8,1289.5 1449,1288.1 1454.2,1289.5 1459.4,1291.9 1464.6,1296.8 1469.7,1289.5 1474.9,1291.9 1480.1,1374.1 1485.3,1297.5 1490.5,1298.2 1495.6,1334.8 1500.8,1326.8 1506,1314.1 1511.2,1319.4 1516.4,1329.2 1521.6,1344.5 1526.7,1329.6 1531.9,1321 1537.1,1362 1542.3,1358.7 1547.5,1311.1 1552.6,1326.4 1557.8,1314.8 1563,1322 1568.2,1400.5 1573.4,1341 1578.6,1333.2 1583.7,1348.7 1588.9,1329.1 1594.1,1352 1599.3,1380.5 1604.5,1333.2 1609.6,1336.1 1614.8,1357.3 1620,1341.8 1625.2,1330.8 1630.4,1334 1635.6,1386.6 1640.7,1329.9 1645.9,1327.5 1651.1,1343.4 1656.3,1331.2 1661.5,1332.8 1666.6,1336.1 1671.8,1347.1 1677,1350.4 1682.2,1360.6 1687.4,1380.5 1692.6,1405 1697.7,1407.1 1702.9,1389.2 1708.1,1371.2 1713.3,1356.5 1718.5,1391.2 1723.7,1398.4 1728.8,1364.3 1734,1363 1739.2,1383.6 1744.4,1375.3 1749.6,1416.8 1754.7,1362.6 1759.9,1387.7 1765.1,1365.1 1770.3,1372.8 1775.5,1359 1780.7,1365.5 1785.8,1368.3 1791,1357.3 1796.2,1355.7 1801.4,1375.3 1806.6,1378.5 1811.7,1408.1 1816.9,1419.8 1822.1,1370.4 1827.3,1373.7 1832.5,1381.5 1837.7,1413.7 1842.8,1403 1848,1376.1 1853.2,1378.1 1858.4,1386.5 1863.6,1417.1 1868.7,1411.9 1873.9,1389.1 1879.1,1407.9 1884.3,1376.1 1889.5,1380.8 1894.7,1410.6 1899.8,1410.1 1905,1375.7 1910.2,1379.1 1915.4,1416.1 1920.6,1422 1925.7,1420.2 1930.9,1409.8 1936.1,1387 1941.3,1413.2 1946.5,1391.4 1951.7,1414 1956.8,1419.4 1962,1409.8 1967.2,1406.5 1972.4,1393.8 1977.6,1422.3 1982.8,1397 1987.9,1395.1 1993.1,1412.1 1998.3,1396.4 2003.5,1397 2008.7,1401.9 2013.8,1415.3 2019,1414.3 2024.2,1421.8 2029.4,1422.7 2034.6,1423.2 2039.8,1425.8 2044.9,1417.9 2050.1,1422.1 2055.3,1424.5 2060.5,1424 2065.7,1415.6 2070.8,1425.1 2076,1424 2081.2,1423.2 2086.4,1425.1 2091.6,1423.6 2096.8,1422.7 2101.9,1424.9 2107.1,1416 2112.3,1423.2 2117.5,1416.4 2122.7,1413.4 2127.8,1418.9 2133,1418.3 2138.2,1419.1 2143.4,1422.1 2148.6,1420 2153.8,1411.7 2158.9,1422.1 2164.1,1425.6 2169.3,1422.5 2174.5,1422.9 2179.7,1422.1 2184.8,1422.9" fill="none" stroke="#2d64ff" stroke-width="1.85" stroke-dasharray="7 7.3" stroke-linejoin="round"/>
<polyline points="298.6,1399.2 303.8,1400.8 309,1401.2 314.1,1392.4 319.3,1399.6 324.5,1396.8 329.7,1383.5 334.9,1396.8 340.1,1400.8 345.2,1396.8 350.4,1393.2 355.6,1379 371.1,1383.7 376.3,1387.4 381.5,1392 386.7,1393.2 391.9,1381.2 397.1,1392.4 402.2,1396.8 407.4,1376.3 412.6,1394.8 417.8,1398.4 423,1399.2 428.2,1389.3 433.3,1394.8 438.5,1393.2 443.7,1388.5 448.9,1393.6 454.1,1390.9 459.2,1360.4 464.4,1372.6 469.6,1353.1 474.8,1330.8 480,1331.4 485.2,1369.3 490.3,1372.3 495.5,1359 500.7,1386.6 505.9,1343.5 511.1,1358.3 516.2,1341.2 521.4,1376.3 526.6,1343.2 531.8,1361.8 537,1372.3 542.2,1312.3 547.3,1331.4 552.5,1332.1 557.7,1364.7 562.9,1333.6 568.1,1355.9 573.2,1374.1 578.4,1373.7 583.6,1326.3 588.8,1301.9 594,1315.6 599.2,1303.2 604.3,1330.5 609.5,1349.6 614.7,1326.6 619.9,1322 625.1,1324.9 630.2,1379.4 635.4,1324.5 640.6,1364.5 645.8,1328.4 651,1385.8 656.2,1313 661.3,1323.2 666.5,1326.2 671.7,1312.2 676.9,1352.6 682.1,1337.7 687.2,1342 692.4,1384.5 697.6,1316.9 702.8,1318.1 708,1299 713.2,1298.6 718.3,1298.6 723.5,1304.5 728.7,1298.1 733.9,1297.7 739.1,1299.8 744.3,1296.9 749.4,1295.6 754.6,1314.7 759.8,1290.5 765,1317.3 770.2,1310.9 775.3,1287.9 780.5,1286.7 785.7,1279 790.9,1280.7 796.1,1277.7 801.3,1282.4 806.4,1281.5 811.6,1279.4 816.8,1287.9 822,1280.7 827.2,1288.8 832.3,1290.1 837.5,1272.6 842.7,1282.4 847.9,1273.5 853.1,1268.8 858.3,1267.5 863.4,1266.7 868.6,1309.2 873.8,1308.4 879,1300.3 884.2,1282.4 889.3,1263.7 894.5,1303.7 899.7,1273.5 904.9,1310.1 910.1,1367.5 915.3,1283.2 920.4,1322.8 925.6,1303.7 930.8,1299.4 936,1285.8 941.2,1281.1 946.4,1281.5 951.5,1305.8 956.7,1283.2 961.9,1289.6 967.1,1302.8 972.3,1277.7 977.4,1302 982.6,1290.5 987.8,1279.4 993,1299.4 998.2,1310.1 1003.4,1285.8 1008.5,1331.8 1013.7,1297.7 1018.9,1290.5 1024.1,1288.8 1029.3,1367.5 1034.4,1283.2 1039.6,1293.9 1044.8,1331.8 1050,1298.6 1055.2,1297.3 1060.4,1270.9 1065.5,1268.8 1070.7,1271.8 1075.9,1284.9 1081.1,1282.8 1086.3,1284.6 1091.4,1302.2 1096.6,1400.3 1101.8,1324.5 1107,1295.6 1112.2,1322.9 1117.4,1276.3 1122.5,1277.7 1127.7,1328.4 1132.9,1394.3 1138.1,1335.2 1143.3,1298.3 1148.4,1353 1153.6,1273.1 1158.8,1278.4 1164,1276.3 1169.2,1295.6 1174.4,1319.9 1179.5,1282.4 1184.7,1284.6 1189.9,1272.7 1195.1,1273.1 1200.3,1272.7 1205.5,1273.1 1210.6,1273.8 1215.8,1318.3 1221,1310.5 1226.2,1313.8 1231.4,1319.9 1236.5,1285.4 1241.7,1315.8 1246.9,1332.6 1252.1,1390 1257.3,1311.3 1262.5,1284.6 1267.6,1323.7 1272.8,1268.9 1278,1344.9 1283.2,1320.8 1288.4,1270.3 1293.5,1266.5 1298.7,1271 1303.9,1356.4 1309.1,1305.3 1314.3,1269.6 1319.5,1283.2 1324.6,1285 1329.8,1302.2 1335,1272.4 1340.2,1293.6 1345.4,1286.1 1350.5,1353.9 1355.7,1296.3 1360.9,1323.7 1366.1,1290.2 1371.3,1333.5 1376.5,1287.6 1381.6,1344.9 1386.8,1281.3 1392,1281 1397.2,1286.1 1402.4,1285.4 1407.5,1284.6 1412.7,1282.4 1417.9,1294.8 1423.1,1280.6 1428.3,1273.8 1433.5,1288.4 1438.6,1282.4 1443.8,1279.9 1449,1278.4 1454.2,1279.9 1459.4,1282.4 1464.6,1287.6 1469.7,1279.9 1474.9,1282.4 1480.1,1368.8 1485.3,1288.4 1490.5,1289.1 1495.6,1327.5 1500.8,1319.1 1506,1305.7 1511.2,1311.3 1516.4,1321.6 1521.6,1337.7 1526.7,1322 1531.9,1313 1537.1,1356 1542.3,1352.6 1547.5,1302.6 1552.6,1318.7 1557.8,1293.9 1563,1301.4 1568.2,1378.2 1573.4,1321.1 1578.6,1313 1583.7,1329.2 1588.9,1308.8 1594.1,1332.6 1599.3,1361.5 1604.5,1313 1609.6,1316 1614.8,1338.1 1620,1322 1625.2,1310.5 1630.4,1313.9 1635.6,1366.6 1640.7,1309.6 1645.9,1307.1 1651.1,1323.7 1656.3,1310.9 1661.5,1312.6 1666.6,1316 1671.8,1327.5 1677,1330.9 1682.2,1341.5 1687.4,1361.5 1692.6,1382 1697.7,1383.7 1702.9,1368.8 1708.1,1352.6 1713.3,1337.3 1718.5,1370.5 1723.7,1376.4 1728.8,1345.4 1734,1344.1 1739.2,1364.1 1744.4,1356.9 1749.6,1391.7 1754.7,1343.7 1759.9,1367.5 1765.1,1346.2 1770.3,1354.3 1775.5,1339.8 1780.7,1346.6 1785.8,1349.6 1791,1338.1 1796.2,1336.4 1801.4,1356.9 1806.6,1359.8 1811.7,1384.5 1816.9,1394.3 1822.1,1351.8 1827.3,1355.2 1832.5,1362.4 1837.7,1389.2 1842.8,1380.3 1848,1357.7 1853.2,1359.5 1858.4,1366.5 1863.6,1392 1868.7,1387.7 1873.9,1368.7 1879.1,1384.4 1884.3,1357.7 1889.5,1361.8 1894.7,1386.6 1899.8,1386.2 1905,1357.3 1910.2,1360.3 1915.4,1391.2 1920.6,1396.1 1925.7,1394.6 1930.9,1386 1936.1,1366.9 1941.3,1388.8 1946.5,1370.6 1951.7,1389.5 1956.8,1393.9 1962,1386 1967.2,1383.2 1972.4,1372.6 1977.6,1396.4 1982.8,1375.3 1987.9,1373.7 1993.1,1387.9 1998.3,1374.8 2003.5,1375.3 2008.7,1379.4 2013.8,1390.5 2019,1389.7 2024.2,1395.9 2029.4,1399.2 2034.6,1399.6 2039.8,1402.5 2044.9,1394 2050.1,1398.5 2055.3,1401.1 2060.5,1400.6 2065.7,1391.5 2070.8,1401.8 2076,1400.6 2081.2,1399.6 2086.4,1401.8 2091.6,1400.1 2096.8,1399.2 2101.9,1401.5 2107.1,1392 2112.3,1399.6 2117.5,1392.4 2122.7,1389.2 2127.8,1395.1 2133,1394.4 2138.2,1395.3 2143.4,1398.5 2148.6,1396.2 2153.8,1387.3 2158.9,1398.5 2164.1,1402.2 2169.3,1398.9 2174.5,1399.4 2179.7,1398.5 2184.8,1399.4" fill="none" stroke="#1a3a9c" stroke-width="1.6" stroke-linejoin="round"/>
<polygon points="298.6,1360.7 303.8,1362.6 309,1363 314.1,1352.7 319.3,1361.2 324.5,1357.9 329.7,1342 334.9,1357.9 340.1,1362.6 345.2,1357.9 350.4,1353.7 355.6,1371.8 371.1,1364.9 376.3,1346.6 381.5,1352.3 386.7,1353.7 391.9,1339.2 397.1,1352.7 402.2,1357.9 407.4,1333.1 412.6,1355.5 417.8,1359.8 423,1360.7 428.2,1349 433.3,1355.5 438.5,1353.7 443.7,1348.1 448.9,1354.1 454.1,1350.9 459.2,1312.5 464.4,1328.4 469.6,1302.6 474.8,1270.4 480,1271.3 485.2,1324.2 490.3,1327.9 495.5,1310.6 500.7,1345.7 505.9,1289.1 511.1,1309.7 516.2,1285.8 521.4,1333.1 526.6,1288.6 531.8,1314.4 537,1327.9 542.2,1240.4 547.3,1271.3 552.5,1272.2 557.7,1318.1 562.9,1274.6 568.1,1306.4 573.2,1330.3 578.4,1329.8 583.6,1263.3 588.8,1222.1 594,1250.7 599.2,1224.5 604.3,1276.6 609.5,1307.7 614.7,1248.8 619.9,1239.9 625.1,1243.6 630.2,1357.1 635.4,1232.3 640.6,1339.7 645.8,1250.2 651,1364.2 656.2,1210.2 661.3,1245 666.5,1254.5 671.7,1210.7 676.9,1309.6 682.1,1282.7 687.2,1292.1 692.4,1362.8 697.6,1220.5 702.8,1231.4 708,1180.5 713.2,1181 718.3,1181 723.5,1198.9 728.7,1179.1 733.9,1180 739.1,1187.1 744.3,1180 749.4,1172.5 754.6,1221.5 759.8,1156.5 765,1232.3 770.2,1198.9 775.3,1148.5 780.5,1147.5 785.7,1119.3 790.9,1123.5 796.1,1116.9 801.3,1130.6 806.4,1132.5 811.6,1123.5 816.8,1148.5 822,1120.7 827.2,1143.3 832.3,1152.2 837.5,1105.6 842.7,1136.7 847.9,1108.9 853.1,1092 858.3,1089.1 863.4,1086.8 868.6,1185.2 873.8,1182.9 879,1165 884.2,1146.6 889.3,1075.9 894.5,1198.9 899.7,1110.8 904.9,1200.8 910.1,1343.5 915.3,1147.5 920.4,1281.8 925.6,1197.9 930.8,1196.1 936,1159.3 941.2,1146.1 946.4,1147.5 951.5,1206.9 956.7,1154.1 961.9,1164 967.1,1208.8 972.3,1139.1 977.4,1203.6 982.6,1173 987.8,1143.3 993,1200.8 998.2,1219.6 1003.4,1154.1 1008.5,1274.2 1013.7,1187.1 1018.9,1173 1024.1,1169.7 1029.3,1337.4 1034.4,1158.4 1039.6,1182.9 1044.8,1275.2 1050,1193.2 1055.2,1192.8 1060.4,1122.1 1065.5,1117.4 1070.7,1122.1 1075.9,1180 1081.1,1249.3 1086.3,1251.8 1091.4,1274.3 1096.6,1388.6 1101.8,1301.3 1107,1266 1112.2,1299.3 1117.4,1240.5 1122.5,1242.5 1127.7,1305.7 1132.9,1381.7 1138.1,1313.6 1143.3,1269.4 1148.4,1334.1 1153.6,1236.1 1158.8,1243.5 1164,1240.5 1169.2,1266 1174.4,1295.9 1179.5,1248.9 1184.7,1251.8 1189.9,1235.6 1195.1,1236.1 1200.3,1235.6 1205.5,1236.1 1210.6,1237.1 1215.8,1293.9 1221,1284.6 1226.2,1288.6 1231.4,1295.9 1236.5,1252.8 1241.7,1291 1246.9,1310.6 1252.1,1376.8 1257.3,1285.6 1262.5,1251.8 1267.6,1300.3 1272.8,1230.2 1278,1324.8 1283.2,1296.9 1288.4,1232.2 1293.5,1226.8 1298.7,1233.2 1303.9,1338.1 1309.1,1278.3 1314.3,1231.2 1319.5,1249.8 1324.6,1252.3 1329.8,1274.3 1335,1235.1 1340.2,1263.6 1345.4,1253.8 1350.5,1335.1 1355.7,1267 1360.9,1300.3 1366.1,1259.1 1371.3,1311.6 1376.5,1255.7 1381.6,1324.8 1386.8,1247.4 1392,1246.9 1397.2,1253.8 1402.4,1252.8 1407.5,1251.8 1412.7,1248.9 1417.9,1265 1423.1,1246.4 1428.3,1237.1 1433.5,1256.7 1438.6,1248.9 1443.8,1245.4 1449,1243.5 1454.2,1245.4 1459.4,1248.9 1464.6,1255.7 1469.7,1245.4 1474.9,1248.9 1480.1,1352.3 1485.3,1256.7 1490.5,1257.7 1495.6,1304.7 1500.8,1294.9 1506,1278.8 1511.2,1285.6 1516.4,1297.9 1521.6,1316.5 1526.7,1298.4 1531.9,1287.6 1537.1,1337.6 1542.3,1333.7 1547.5,1274.8 1552.6,1294.4 1557.8,1297.7 1563,1310.1 1568.2,1408.9 1573.4,1331.5 1578.6,1326.8 1583.7,1348.9 1588.9,1322.5 1594.1,1352.8 1599.3,1388.6 1604.5,1327.9 1609.6,1330.1 1614.8,1359 1620,1337.6 1625.2,1323.2 1630.4,1326.8 1635.6,1398.8 1640.7,1323.2 1645.9,1318.5 1651.1,1340.5 1656.3,1323.2 1661.5,1324.6 1666.6,1328.6 1671.8,1346.7 1677,1349.9 1682.2,1361.9 1687.4,1384.7 1692.6,1413.6 1697.7,1415.8 1702.9,1393.7 1708.1,1377.1 1713.3,1360.4 1718.5,1399.9 1723.7,1407.5 1728.8,1368.8 1734,1367.3 1739.2,1393 1744.4,1387.2 1749.6,1421.9 1754.7,1365.1 1759.9,1397 1765.1,1369.5 1770.3,1381 1775.5,1361.9 1780.7,1370.2 1785.8,1374.2 1791,1359.7 1796.2,1357.5 1801.4,1382.5 1806.6,1385.4 1811.7,1416.5 1816.9,1428.8 1822.1,1376.3 1827.3,1380.3 1832.5,1388.6 1837.7,1421.9 1842.8,1411.4 1848,1384.7 1853.2,1386.3 1858.4,1394.8 1863.6,1425.2 1868.7,1420.1 1873.9,1397.5 1879.1,1416.3 1884.3,1384 1889.5,1389 1894.7,1418.9 1899.8,1418.4 1905,1383.5 1910.2,1387.3 1915.4,1424.3 1920.6,1430 1925.7,1428.3 1930.9,1418.1 1936.1,1395.3 1941.3,1421.4 1946.5,1399.8 1951.7,1422.3 1956.8,1427.5 1962,1418.1 1967.2,1414.8 1972.4,1402.2 1977.6,1430.3 1982.8,1405.4 1987.9,1403.5 1993.1,1420.4 1998.3,1404.8 2003.5,1405.4 2008.7,1410.3 2013.8,1423.5 2019,1422.5 2024.2,1429.7 2029.4,1360.7 2034.6,1361.2 2039.8,1364.5 2044.9,1354.5 2050.1,1359.8 2055.3,1362.8 2060.5,1362.3 2065.7,1351.7 2070.8,1363.7 2076,1362.3 2081.2,1361.2 2086.4,1363.7 2091.6,1361.7 2096.8,1360.7 2101.9,1363.4 2107.1,1352.2 2112.3,1361.2 2117.5,1352.7 2122.7,1348.9 2127.8,1355.8 2133,1355.1 2138.2,1356.1 2143.4,1359.8 2148.6,1357.2 2153.8,1346.6 2158.9,1359.8 2164.1,1364.2 2169.3,1360.4 2174.5,1360.9 2179.7,1359.8 2184.8,1360.9 2184.8,1449.4 2179.7,1448.5 2174.5,1449.4 2169.3,1448.9 2164.1,1452.1 2158.9,1448.5 2153.8,1437.7 2148.6,1446.3 2143.4,1448.5 2138.2,1445.4 2133,1444.6 2127.8,1445.2 2122.7,1439.5 2117.5,1442.7 2112.3,1449.6 2107.1,1442.2 2101.9,1451.4 2096.8,1449.2 2091.6,1450.1 2086.4,1451.6 2081.2,1449.6 2076,1450.5 2070.8,1451.6 2065.7,1441.8 2060.5,1450.5 2055.3,1450.9 2050.1,1448.5 2044.9,1444.2 2039.8,1452.3 2034.6,1449.6 2029.4,1449.2 2024.2,1495.6 2019,1485.8 2013.8,1487.1 2008.7,1469.3 2003.5,1462.7 1998.3,1461.8 1993.1,1482.9 1987.9,1460 1982.8,1462.7 1977.6,1496.3 1972.4,1458.3 1967.2,1475.4 1962,1479.8 1956.8,1492.5 1951.7,1485.4 1946.5,1455.1 1941.3,1484.3 1936.1,1449 1930.9,1479.8 1925.7,1493.6 1920.6,1495.9 1915.4,1488.1 1910.2,1438.1 1905,1433 1899.8,1480.2 1894.7,1480.9 1889.5,1440.5 1884.3,1433.7 1879.1,1477.3 1873.9,1452 1868.7,1482.5 1863.6,1489.4 1858.4,1448.3 1853.2,1436.7 1848,1434.6 1842.8,1470.8 1837.7,1485 1832.5,1440 1827.3,1428.7 1822.1,1423.3 1816.9,1494.3 1811.7,1477.6 1806.6,1435.6 1801.4,1431.6 1796.2,1397.9 1791,1400.8 1785.8,1420.4 1780.7,1415 1775.5,1403.7 1770.3,1429.7 1765.1,1414 1759.9,1451.2 1754.7,1408.2 1749.6,1485 1744.4,1438 1739.2,1445.8 1734,1411.1 1728.8,1413 1723.7,1465.4 1718.5,1455.1 1713.3,1401.8 1708.1,1424.3 1702.9,1446.8 1697.7,1476.7 1692.6,1473.7 1687.4,1434.6 1682.2,1403.7 1677,1387.6 1671.8,1383.2 1666.6,1358.7 1661.5,1353.3 1656.3,1351.4 1651.1,1374.9 1645.9,1345 1640.7,1351.4 1635.6,1453.7 1630.4,1356.3 1625.2,1351.4 1620,1371 1614.8,1399.8 1609.6,1360.7 1604.5,1357.8 1599.3,1440 1594.1,1391.5 1588.9,1350.4 1583.7,1386.1 1578.6,1356.3 1573.4,1362.6 1568.2,1467.4 1563,1333.9 1557.8,1321.5 1552.6,1345.2 1547.5,1331.1 1542.3,1373.5 1537.1,1376.4 1531.9,1340.3 1526.7,1348.1 1521.6,1361.2 1516.4,1347.7 1511.2,1338.9 1506,1333.9 1500.8,1345.6 1495.6,1352.7 1490.5,1318.7 1485.3,1318 1480.1,1387 1474.9,1312.3 1469.7,1309.8 1464.6,1317.3 1459.4,1312.3 1454.2,1309.8 1449,1308.4 1443.8,1309.8 1438.6,1312.3 1433.5,1318 1428.3,1303.8 1423.1,1310.5 1417.9,1324 1412.7,1312.3 1407.5,1314.4 1402.4,1315.1 1397.2,1315.8 1392,1310.9 1386.8,1311.2 1381.6,1367.2 1376.5,1317.3 1371.3,1357.6 1366.1,1319.7 1360.9,1349.5 1355.7,1325.4 1350.5,1374.6 1345.4,1315.8 1340.2,1322.9 1335,1302.4 1329.8,1330.7 1324.6,1314.8 1319.5,1313 1314.3,1299.6 1309.1,1333.5 1303.9,1376.7 1298.7,1301 1293.5,1296.4 1288.4,1300.3 1283.2,1347 1278,1367.2 1272.8,1298.9 1267.6,1349.5 1262.5,1314.4 1257.3,1338.9 1252.1,1404.7 1246.9,1356.9 1241.7,1342.7 1236.5,1315.1 1231.4,1346.3 1226.2,1341 1221,1338.1 1215.8,1344.9 1210.6,1303.8 1205.5,1303.1 1200.3,1302.7 1195.1,1303.1 1189.9,1302.7 1184.7,1314.4 1179.5,1312.3 1174.4,1346.3 1169.2,1324.7 1164,1306.3 1158.8,1308.4 1153.6,1303.1 1148.4,1373.9 1143.3,1327.2 1138.1,1359 1132.9,1408.2 1127.7,1353.4 1122.5,1307.7 1117.4,1306.3 1112.2,1348.8 1107,1324.7 1101.8,1350.2 1096.6,1413.2 1091.4,1330.7 1086.3,1314.4 1081.1,1312.7 1075.9,1265.3 1070.7,1219.3 1065.5,1215.6 1060.4,1219.3 1055.2,1275.4 1050,1275.8 1044.8,1340.8 1039.6,1267.5 1034.4,1248.1 1029.3,1390.1 1024.1,1257.1 1018.9,1259.7 1013.7,1270.9 1008.5,1340 1003.4,1244.8 998.2,1296.7 993,1281.7 987.8,1236.2 982.6,1259.7 977.4,1284 972.3,1232.8 967.1,1288.1 961.9,1252.6 956.7,1244.8 951.5,1286.6 946.4,1239.5 941.2,1238.4 936,1248.9 930.8,1278 925.6,1279.5 920.4,1346 915.3,1239.5 910.1,1394.9 904.9,1281.7 899.7,1210.4 894.5,1280.2 889.3,1182.7 884.2,1238.8 879,1253.3 873.8,1267.5 868.6,1269.4 863.4,1191.3 858.3,1193.2 853.1,1195.4 847.9,1208.9 842.7,1230.9 837.5,1206.3 832.3,1243.3 827.2,1236.2 822,1218.2 816.8,1240.3 811.6,1220.5 806.4,1227.6 801.3,1226.1 796.1,1215.2 790.9,1220.5 785.7,1217.1 780.5,1239.5 775.3,1240.3 770.2,1280.2 765,1306.8 759.8,1246.6 754.6,1298.2 749.4,1259.3 744.3,1265.3 739.1,1270.9 733.9,1265.3 728.7,1264.6 723.5,1280.2 718.3,1266 713.2,1266 708,1265.7 702.8,1306 697.6,1297.4 692.4,1410.3 687.2,1354.2 682.1,1346.7 676.9,1368 671.7,1289.6 666.5,1324.3 661.3,1316.9 656.2,1289.2 651,1411.4 645.8,1321 640.6,1391.9 635.4,1306.8 630.2,1405.8 625.1,1315.7 619.9,1312.7 614.7,1319.8 609.5,1366.5 604.3,1341.9 599.2,1337.8 594,1359.2 588.8,1335.8 583.6,1369.5 578.4,1423.9 573.2,1424.3 568.1,1404.8 562.9,1378.7 557.7,1414.3 552.5,1376.8 547.3,1376 542.2,1350.8 537,1422.4 531.8,1411.3 526.6,1390.2 521.4,1426.6 516.2,1387.9 511.1,1407.5 505.9,1390.6 500.7,1436.9 495.5,1408.2 490.3,1422.4 485.2,1419.3 480,1376 474.8,1375.3 469.6,1401.7 464.4,1422.8 459.2,1409.7 454.1,1441.2 448.9,1443.8 443.7,1438.9 438.5,1443.4 433.3,1445 428.2,1439.6 423,1449.2 417.8,1448.4 412.6,1445 407.4,1426.6 402.2,1446.9 397.1,1442.7 391.9,1431.6 386.7,1443.4 381.5,1442.3 376.3,1437.7 371.1,1414.3 355.6,1382.4 350.4,1443.4 345.2,1446.9 340.1,1450.7 334.9,1446.9 329.7,1433.9 324.5,1446.9 319.3,1449.6 314.1,1442.7 309,1451.1 303.8,1450.7 298.6,1449.2" fill="rgba(255,0,0,0.215)" stroke="none"/>
<polyline points="298.6,1360.7 303.8,1362.6 309,1363 314.1,1352.7 319.3,1361.2 324.5,1357.9 329.7,1342 334.9,1357.9 340.1,1362.6 345.2,1357.9 350.4,1353.7 355.6,1371.8 371.1,1364.9 376.3,1346.6 381.5,1352.3 386.7,1353.7 391.9,1339.2 397.1,1352.7 402.2,1357.9 407.4,1333.1 412.6,1355.5 417.8,1359.8 423,1360.7 428.2,1349 433.3,1355.5 438.5,1353.7 443.7,1348.1 448.9,1354.1 454.1,1350.9 459.2,1312.5 464.4,1328.4 469.6,1302.6 474.8,1270.4 480,1271.3 485.2,1324.2 490.3,1327.9 495.5,1310.6 500.7,1345.7 505.9,1289.1 511.1,1309.7 516.2,1285.8 521.4,1333.1 526.6,1288.6 531.8,1314.4 537,1327.9 542.2,1240.4 547.3,1271.3 552.5,1272.2 557.7,1318.1 562.9,1274.6 568.1,1306.4 573.2,1330.3 578.4,1329.8 583.6,1263.3 588.8,1222.1 594,1250.7 599.2,1224.5 604.3,1276.6 609.5,1307.7 614.7,1248.8 619.9,1239.9 625.1,1243.6 630.2,1357.1 635.4,1232.3 640.6,1339.7 645.8,1250.2 651,1364.2 656.2,1210.2 661.3,1245 666.5,1254.5 671.7,1210.7 676.9,1309.6 682.1,1282.7 687.2,1292.1 692.4,1362.8 697.6,1220.5 702.8,1231.4 708,1180.5 713.2,1181 718.3,1181 723.5,1198.9 728.7,1179.1 733.9,1180 739.1,1187.1 744.3,1180 749.4,1172.5 754.6,1221.5 759.8,1156.5 765,1232.3 770.2,1198.9 775.3,1148.5 780.5,1147.5 785.7,1119.3 790.9,1123.5 796.1,1116.9 801.3,1130.6 806.4,1132.5 811.6,1123.5 816.8,1148.5 822,1120.7 827.2,1143.3 832.3,1152.2 837.5,1105.6 842.7,1136.7 847.9,1108.9 853.1,1092 858.3,1089.1 863.4,1086.8 868.6,1185.2 873.8,1182.9 879,1165 884.2,1146.6 889.3,1075.9 894.5,1198.9 899.7,1110.8 904.9,1200.8 910.1,1343.5 915.3,1147.5 920.4,1281.8 925.6,1197.9 930.8,1196.1 936,1159.3 941.2,1146.1 946.4,1147.5 951.5,1206.9 956.7,1154.1 961.9,1164 967.1,1208.8 972.3,1139.1 977.4,1203.6 982.6,1173 987.8,1143.3 993,1200.8 998.2,1219.6 1003.4,1154.1 1008.5,1274.2 1013.7,1187.1 1018.9,1173 1024.1,1169.7 1029.3,1337.4 1034.4,1158.4 1039.6,1182.9 1044.8,1275.2 1050,1193.2 1055.2,1192.8 1060.4,1122.1 1065.5,1117.4 1070.7,1122.1 1075.9,1180 1081.1,1249.3 1086.3,1251.8 1091.4,1274.3 1096.6,1388.6 1101.8,1301.3 1107,1266 1112.2,1299.3 1117.4,1240.5 1122.5,1242.5 1127.7,1305.7 1132.9,1381.7 1138.1,1313.6 1143.3,1269.4 1148.4,1334.1 1153.6,1236.1 1158.8,1243.5 1164,1240.5 1169.2,1266 1174.4,1295.9 1179.5,1248.9 1184.7,1251.8 1189.9,1235.6 1195.1,1236.1 1200.3,1235.6 1205.5,1236.1 1210.6,1237.1 1215.8,1293.9 1221,1284.6 1226.2,1288.6 1231.4,1295.9 1236.5,1252.8 1241.7,1291 1246.9,1310.6 1252.1,1376.8 1257.3,1285.6 1262.5,1251.8 1267.6,1300.3 1272.8,1230.2 1278,1324.8 1283.2,1296.9 1288.4,1232.2 1293.5,1226.8 1298.7,1233.2 1303.9,1338.1 1309.1,1278.3 1314.3,1231.2 1319.5,1249.8 1324.6,1252.3 1329.8,1274.3 1335,1235.1 1340.2,1263.6 1345.4,1253.8 1350.5,1335.1 1355.7,1267 1360.9,1300.3 1366.1,1259.1 1371.3,1311.6 1376.5,1255.7 1381.6,1324.8 1386.8,1247.4 1392,1246.9 1397.2,1253.8 1402.4,1252.8 1407.5,1251.8 1412.7,1248.9 1417.9,1265 1423.1,1246.4 1428.3,1237.1 1433.5,1256.7 1438.6,1248.9 1443.8,1245.4 1449,1243.5 1454.2,1245.4 1459.4,1248.9 1464.6,1255.7 1469.7,1245.4 1474.9,1248.9 1480.1,1352.3 1485.3,1256.7 1490.5,1257.7 1495.6,1304.7 1500.8,1294.9 1506,1278.8 1511.2,1285.6 1516.4,1297.9 1521.6,1316.5 1526.7,1298.4 1531.9,1287.6 1537.1,1337.6 1542.3,1333.7 1547.5,1274.8 1552.6,1294.4 1557.8,1297.7 1563,1310.1 1568.2,1408.9 1573.4,1331.5 1578.6,1326.8 1583.7,1348.9 1588.9,1322.5 1594.1,1352.8 1599.3,1388.6 1604.5,1327.9 1609.6,1330.1 1614.8,1359 1620,1337.6 1625.2,1323.2 1630.4,1326.8 1635.6,1398.8 1640.7,1323.2 1645.9,1318.5 1651.1,1340.5 1656.3,1323.2 1661.5,1324.6 1666.6,1328.6 1671.8,1346.7 1677,1349.9 1682.2,1361.9 1687.4,1384.7 1692.6,1413.6 1697.7,1415.8 1702.9,1393.7 1708.1,1377.1 1713.3,1360.4 1718.5,1399.9 1723.7,1407.5 1728.8,1368.8 1734,1367.3 1739.2,1393 1744.4,1387.2 1749.6,1421.9 1754.7,1365.1 1759.9,1397 1765.1,1369.5 1770.3,1381 1775.5,1361.9 1780.7,1370.2 1785.8,1374.2 1791,1359.7 1796.2,1357.5 1801.4,1382.5 1806.6,1385.4 1811.7,1416.5 1816.9,1428.8 1822.1,1376.3 1827.3,1380.3 1832.5,1388.6 1837.7,1421.9 1842.8,1411.4 1848,1384.7 1853.2,1386.3 1858.4,1394.8 1863.6,1425.2 1868.7,1420.1 1873.9,1397.5 1879.1,1416.3 1884.3,1384 1889.5,1389 1894.7,1418.9 1899.8,1418.4 1905,1383.5 1910.2,1387.3 1915.4,1424.3 1920.6,1430 1925.7,1428.3 1930.9,1418.1 1936.1,1395.3 1941.3,1421.4 1946.5,1399.8 1951.7,1422.3 1956.8,1427.5 1962,1418.1 1967.2,1414.8 1972.4,1402.2 1977.6,1430.3 1982.8,1405.4 1987.9,1403.5 1993.1,1420.4 1998.3,1404.8 2003.5,1405.4 2008.7,1410.3 2013.8,1423.5 2019,1422.5 2024.2,1429.7 2029.4,1360.7 2034.6,1361.2 2039.8,1364.5 2044.9,1354.5 2050.1,1359.8 2055.3,1362.8 2060.5,1362.3 2065.7,1351.7 2070.8,1363.7 2076,1362.3 2081.2,1361.2 2086.4,1363.7 2091.6,1361.7 2096.8,1360.7 2101.9,1363.4 2107.1,1352.2 2112.3,1361.2 2117.5,1352.7 2122.7,1348.9 2127.8,1355.8 2133,1355.1 2138.2,1356.1 2143.4,1359.8 2148.6,1357.2 2153.8,1346.6 2158.9,1359.8 2164.1,1364.2 2169.3,1360.4 2174.5,1360.9 2179.7,1359.8 2184.8,1360.9" fill="none" stroke="#ff2632" stroke-width="1.85" stroke-dasharray="7 7.3" stroke-linejoin="round"/>
<polyline points="298.6,1449.2 303.8,1450.7 309,1451.1 314.1,1442.7 319.3,1449.6 324.5,1446.9 329.7,1433.9 334.9,1446.9 340.1,1450.7 345.2,1446.9 350.4,1443.4 355.6,1382.4 371.1,1414.3 376.3,1437.7 381.5,1442.3 386.7,1443.4 391.9,1431.6 397.1,1442.7 402.2,1446.9 407.4,1426.6 412.6,1445 417.8,1448.4 423,1449.2 428.2,1439.6 433.3,1445 438.5,1443.4 443.7,1438.9 448.9,1443.8 454.1,1441.2 459.2,1409.7 464.4,1422.8 469.6,1401.7 474.8,1375.3 480,1376 485.2,1419.3 490.3,1422.4 495.5,1408.2 500.7,1436.9 505.9,1390.6 511.1,1407.5 516.2,1387.9 521.4,1426.6 526.6,1390.2 531.8,1411.3 537,1422.4 542.2,1350.8 547.3,1376 552.5,1376.8 557.7,1414.3 562.9,1378.7 568.1,1404.8 573.2,1424.3 578.4,1423.9 583.6,1369.5 588.8,1335.8 594,1359.2 599.2,1337.8 604.3,1341.9 609.5,1366.5 614.7,1319.8 619.9,1312.7 625.1,1315.7 630.2,1405.8 635.4,1306.8 640.6,1391.9 645.8,1321 651,1411.4 656.2,1289.2 661.3,1316.9 666.5,1324.3 671.7,1289.6 676.9,1368 682.1,1346.7 687.2,1354.2 692.4,1410.3 697.6,1297.4 702.8,1306 708,1265.7 713.2,1266 718.3,1266 723.5,1280.2 728.7,1264.6 733.9,1265.3 739.1,1270.9 744.3,1265.3 749.4,1259.3 754.6,1298.2 759.8,1246.6 765,1306.8 770.2,1280.2 775.3,1240.3 780.5,1239.5 785.7,1217.1 790.9,1220.5 796.1,1215.2 801.3,1226.1 806.4,1227.6 811.6,1220.5 816.8,1240.3 822,1218.2 827.2,1236.2 832.3,1243.3 837.5,1206.3 842.7,1230.9 847.9,1208.9 853.1,1195.4 858.3,1193.2 863.4,1191.3 868.6,1269.4 873.8,1267.5 879,1253.3 884.2,1238.8 889.3,1182.7 894.5,1280.2 899.7,1210.4 904.9,1281.7 910.1,1394.9 915.3,1239.5 920.4,1346 925.6,1279.5 930.8,1278 936,1248.9 941.2,1238.4 946.4,1239.5 951.5,1286.6 956.7,1244.8 961.9,1252.6 967.1,1288.1 972.3,1232.8 977.4,1284 982.6,1259.7 987.8,1236.2 993,1281.7 998.2,1296.7 1003.4,1244.8 1008.5,1340 1013.7,1270.9 1018.9,1259.7 1024.1,1257.1 1029.3,1390.1 1034.4,1248.1 1039.6,1267.5 1044.8,1340.8 1050,1275.8 1055.2,1275.4 1060.4,1219.3 1065.5,1215.6 1070.7,1219.3 1075.9,1265.3 1081.1,1312.7 1086.3,1314.4 1091.4,1330.7 1096.6,1413.2 1101.8,1350.2 1107,1324.7 1112.2,1348.8 1117.4,1306.3 1122.5,1307.7 1127.7,1353.4 1132.9,1408.2 1138.1,1359 1143.3,1327.2 1148.4,1373.9 1153.6,1303.1 1158.8,1308.4 1164,1306.3 1169.2,1324.7 1174.4,1346.3 1179.5,1312.3 1184.7,1314.4 1189.9,1302.7 1195.1,1303.1 1200.3,1302.7 1205.5,1303.1 1210.6,1303.8 1215.8,1344.9 1221,1338.1 1226.2,1341 1231.4,1346.3 1236.5,1315.1 1241.7,1342.7 1246.9,1356.9 1252.1,1404.7 1257.3,1338.9 1262.5,1314.4 1267.6,1349.5 1272.8,1298.9 1278,1367.2 1283.2,1347 1288.4,1300.3 1293.5,1296.4 1298.7,1301 1303.9,1376.7 1309.1,1333.5 1314.3,1299.6 1319.5,1313 1324.6,1314.8 1329.8,1330.7 1335,1302.4 1340.2,1322.9 1345.4,1315.8 1350.5,1374.6 1355.7,1325.4 1360.9,1349.5 1366.1,1319.7 1371.3,1357.6 1376.5,1317.3 1381.6,1367.2 1386.8,1311.2 1392,1310.9 1397.2,1315.8 1402.4,1315.1 1407.5,1314.4 1412.7,1312.3 1417.9,1324 1423.1,1310.5 1428.3,1303.8 1433.5,1318 1438.6,1312.3 1443.8,1309.8 1449,1308.4 1454.2,1309.8 1459.4,1312.3 1464.6,1317.3 1469.7,1309.8 1474.9,1312.3 1480.1,1387 1485.3,1318 1490.5,1318.7 1495.6,1352.7 1500.8,1345.6 1506,1333.9 1511.2,1338.9 1516.4,1347.7 1521.6,1361.2 1526.7,1348.1 1531.9,1340.3 1537.1,1376.4 1542.3,1373.5 1547.5,1331.1 1552.6,1345.2 1557.8,1321.5 1563,1333.9 1568.2,1467.4 1573.4,1362.6 1578.6,1356.3 1583.7,1386.1 1588.9,1350.4 1594.1,1391.5 1599.3,1440 1604.5,1357.8 1609.6,1360.7 1614.8,1399.8 1620,1371 1625.2,1351.4 1630.4,1356.3 1635.6,1453.7 1640.7,1351.4 1645.9,1345 1651.1,1374.9 1656.3,1351.4 1661.5,1353.3 1666.6,1358.7 1671.8,1383.2 1677,1387.6 1682.2,1403.7 1687.4,1434.6 1692.6,1473.7 1697.7,1476.7 1702.9,1446.8 1708.1,1424.3 1713.3,1401.8 1718.5,1455.1 1723.7,1465.4 1728.8,1413 1734,1411.1 1739.2,1445.8 1744.4,1438 1749.6,1485 1754.7,1408.2 1759.9,1451.2 1765.1,1414 1770.3,1429.7 1775.5,1403.7 1780.7,1415 1785.8,1420.4 1791,1400.8 1796.2,1397.9 1801.4,1431.6 1806.6,1435.6 1811.7,1477.6 1816.9,1494.3 1822.1,1423.3 1827.3,1428.7 1832.5,1440 1837.7,1485 1842.8,1470.8 1848,1434.6 1853.2,1436.7 1858.4,1448.3 1863.6,1489.4 1868.7,1482.5 1873.9,1452 1879.1,1477.3 1884.3,1433.7 1889.5,1440.5 1894.7,1480.9 1899.8,1480.2 1905,1433 1910.2,1438.1 1915.4,1488.1 1920.6,1495.9 1925.7,1493.6 1930.9,1479.8 1936.1,1449 1941.3,1484.3 1946.5,1455.1 1951.7,1485.4 1956.8,1492.5 1962,1479.8 1967.2,1475.4 1972.4,1458.3 1977.6,1496.3 1982.8,1462.7 1987.9,1460 1993.1,1482.9 1998.3,1461.8 2003.5,1462.7 2008.7,1469.3 2013.8,1487.1 2019,1485.8 2024.2,1495.6 2029.4,1449.2 2034.6,1449.6 2039.8,1452.3 2044.9,1444.2 2050.1,1448.5 2055.3,1450.9 2060.5,1450.5 2065.7,1441.8 2070.8,1451.6 2076,1450.5 2081.2,1449.6 2086.4,1451.6 2091.6,1450.1 2096.8,1449.2 2101.9,1451.4 2107.1,1442.2 2112.3,1449.6 2117.5,1442.7 2122.7,1439.5 2127.8,1445.2 2133,1444.6 2138.2,1445.4 2143.4,1448.5 2148.6,1446.3 2153.8,1437.7 2158.9,1448.5 2164.1,1452.1 2169.3,1448.9 2174.5,1449.4 2179.7,1448.5 2184.8,1449.4" fill="none" stroke="#ff2632" stroke-width="1.85" stroke-dasharray="7 7.3" stroke-linejoin="round"/>
<polyline points="298.6,1404.9 303.8,1406.6 309,1407.1 314.1,1397.7 319.3,1405.4 324.5,1402.4 329.7,1387.9 334.9,1402.4 340.1,1406.6 345.2,1402.4 350.4,1398.6 355.6,1379.8 371.1,1389.2 376.3,1392.2 381.5,1397.3 386.7,1398.6 391.9,1385.4 397.1,1397.7 402.2,1402.4 407.4,1379.8 412.6,1400.3 417.8,1404.1 423,1404.9 428.2,1394.3 433.3,1400.3 438.5,1398.6 443.7,1393.5 448.9,1399 454.1,1396 459.2,1361.1 464.4,1375.6 469.6,1352.2 474.8,1322.8 480,1323.7 485.2,1371.8 490.3,1375.2 495.5,1359.4 500.7,1391.3 505.9,1339.8 511.1,1358.6 516.2,1336.9 521.4,1379.8 526.6,1339.4 531.8,1362.8 537,1375.2 542.2,1295.6 547.3,1323.7 552.5,1324.5 557.7,1366.2 562.9,1326.6 568.1,1355.6 573.2,1377.3 578.4,1376.9 583.6,1316.4 588.8,1279 594,1304.9 599.2,1281.1 604.3,1308.8 609.5,1336.9 614.7,1283.7 619.9,1275.6 625.1,1279 630.2,1381.5 635.4,1268.8 640.6,1365.8 645.8,1284.9 651,1387.9 656.2,1248.8 661.3,1280.3 666.5,1288.8 671.7,1249.2 676.9,1338.6 682.1,1314.3 687.2,1322.8 692.4,1386.6 697.6,1258.1 702.8,1267.9 708,1222 713.2,1222.4 718.3,1222.4 723.5,1238.6 728.7,1220.7 733.9,1221.5 739.1,1227.9 744.3,1221.5 749.4,1214.7 754.6,1259 759.8,1200.3 765,1268.8 770.2,1238.6 775.3,1193 780.5,1192.2 785.7,1166.7 790.9,1170.5 796.1,1164.5 801.3,1176.9 806.4,1178.6 811.6,1170.5 816.8,1193 822,1167.9 827.2,1188.4 832.3,1196.4 837.5,1154.3 842.7,1182.4 847.9,1157.3 853.1,1142 858.3,1139.4 863.4,1137.3 868.6,1226.2 873.8,1224.1 879,1207.9 884.2,1191.3 889.3,1127.5 894.5,1238.6 899.7,1159 904.9,1240.3 910.1,1369.2 915.3,1192.2 920.4,1313.5 925.6,1237.7 930.8,1236 936,1202.8 941.2,1190.9 946.4,1192.2 951.5,1245.8 956.7,1198.1 961.9,1207.1 967.1,1247.5 972.3,1184.5 977.4,1242.8 982.6,1215.2 987.8,1188.4 993,1240.3 998.2,1257.3 1003.4,1198.1 1008.5,1306.6 1013.7,1227.9 1018.9,1215.2 1024.1,1212.2 1029.3,1363.7 1034.4,1202 1039.6,1224.1 1044.8,1307.5 1050,1233.5 1055.2,1233 1060.4,1169.2 1065.5,1165 1070.7,1169.2 1075.9,1221.5 1081.1,1279.4 1086.3,1281.5 1091.4,1301.1 1096.6,1400.3 1101.8,1324.5 1107,1293.9 1112.2,1322.8 1117.4,1271.8 1122.5,1273.5 1127.7,1328.4 1132.9,1394.3 1138.1,1335.2 1143.3,1296.9 1148.4,1353 1153.6,1267.9 1158.8,1274.3 1164,1271.8 1169.2,1293.9 1174.4,1319.8 1179.5,1279 1184.7,1281.5 1189.9,1267.5 1195.1,1267.9 1200.3,1267.5 1205.5,1267.9 1210.6,1268.8 1215.8,1318.1 1221,1310.1 1226.2,1313.5 1231.4,1319.8 1236.5,1282.4 1241.7,1315.6 1246.9,1332.6 1252.1,1390 1257.3,1310.9 1262.5,1281.5 1267.6,1323.7 1272.8,1262.8 1278,1344.9 1283.2,1320.7 1288.4,1264.5 1293.5,1259.8 1298.7,1265.4 1303.9,1356.4 1309.1,1304.5 1314.3,1263.7 1319.5,1279.8 1324.6,1282 1329.8,1301.1 1335,1267.1 1340.2,1291.8 1345.4,1283.2 1350.5,1353.9 1355.7,1294.7 1360.9,1323.7 1366.1,1287.9 1371.3,1333.5 1376.5,1284.9 1381.6,1344.9 1386.8,1277.7 1392,1277.3 1397.2,1283.2 1402.4,1282.4 1407.5,1281.5 1412.7,1279 1417.9,1293 1423.1,1276.9 1428.3,1268.8 1433.5,1285.8 1438.6,1279 1443.8,1276 1449,1274.3 1454.2,1276 1459.4,1279 1464.6,1284.9 1469.7,1276 1474.9,1279 1480.1,1368.8 1485.3,1285.8 1490.5,1286.7 1495.6,1327.5 1500.8,1319 1506,1304.9 1511.2,1310.9 1516.4,1321.5 1521.6,1337.7 1526.7,1322 1531.9,1312.6 1537.1,1356 1542.3,1352.6 1547.5,1301.5 1552.6,1318.6 1557.8,1309.6 1563,1322 1568.2,1438.1 1573.4,1347.1 1578.6,1341.5 1583.7,1367.5 1588.9,1336.4 1594.1,1372.2 1599.3,1414.3 1604.5,1342.8 1609.6,1345.4 1614.8,1379.4 1620,1354.3 1625.2,1337.3 1630.4,1341.5 1635.6,1426.2 1640.7,1337.3 1645.9,1331.8 1651.1,1357.7 1656.3,1337.3 1661.5,1339 1666.6,1343.7 1671.8,1364.9 1677,1368.8 1682.2,1382.8 1687.4,1409.6 1692.6,1443.7 1697.7,1446.2 1702.9,1420.3 1708.1,1400.7 1713.3,1381.1 1718.5,1427.5 1723.7,1436.4 1728.8,1390.9 1734,1389.2 1739.2,1419.4 1744.4,1412.6 1749.6,1453.4 1754.7,1386.6 1759.9,1424.1 1765.1,1391.7 1770.3,1405.4 1775.5,1382.8 1780.7,1392.6 1785.8,1397.3 1791,1380.3 1796.2,1377.7 1801.4,1407.1 1806.6,1410.5 1811.7,1447.1 1816.9,1461.5 1822.1,1399.8 1827.3,1404.5 1832.5,1414.3 1837.7,1453.4 1842.8,1441.1 1848,1409.6 1853.2,1411.5 1858.4,1421.5 1863.6,1457.3 1868.7,1451.3 1873.9,1424.7 1879.1,1446.8 1884.3,1408.8 1889.5,1414.8 1894.7,1449.9 1899.8,1449.3 1905,1408.2 1910.2,1412.7 1915.4,1456.2 1920.6,1463 1925.7,1460.9 1930.9,1449 1936.1,1422.1 1941.3,1452.9 1946.5,1427.5 1951.7,1453.8 1956.8,1460 1962,1449 1967.2,1445.1 1972.4,1430.2 1977.6,1463.3 1982.8,1434.1 1987.9,1431.8 1993.1,1451.6 1998.3,1433.3 2003.5,1434.1 2008.7,1439.8 2013.8,1455.3 2019,1454.2 2024.2,1462.7 2029.4,1404.9 2034.6,1405.4 2039.8,1408.4 2044.9,1399.3 2050.1,1404.2 2055.3,1406.9 2060.5,1406.4 2065.7,1396.7 2070.8,1407.6 2076,1406.4 2081.2,1405.4 2086.4,1407.6 2091.6,1405.9 2096.8,1404.9 2101.9,1407.4 2107.1,1397.2 2112.3,1405.4 2117.5,1397.7 2122.7,1394.2 2127.8,1400.5 2133,1399.8 2138.2,1400.8 2143.4,1404.2 2148.6,1401.7 2153.8,1392.1 2158.9,1404.2 2164.1,1408.1 2169.3,1404.7 2174.5,1405.2 2179.7,1404.2 2184.8,1405.2" fill="none" stroke="#a0141c" stroke-width="1.6" stroke-linejoin="round"/>
<path d="M204 1370.9H2276.7" stroke="#000" stroke-width="1.75" stroke-dasharray="7.2 7.114" fill="none"/>
<path d="M204 826.3V1576.7" fill="none" stroke="#111" stroke-width="2.1"/>
<path d="M202.9 1575.8H2278.7" fill="none" stroke="#111" stroke-width="1.85"/>
<path d="M204 1541.1h-4.7M204 1456h-4.7M204 1370.9h-4.7M204 1285.8h-4.7M204 1200.7h-4.7M204 1115.6h-4.7M204 1030.5h-4.7M204 945.4h-4.7M204 860.3h-4.7M298.6 1575.8v4.7M459.2 1575.8v4.7M604.3 1575.8v4.7M765 1575.8v4.7M920.4 1575.8v4.7M1081.1 1575.8v4.7M1236.5 1575.8v4.7M1397.2 1575.8v4.7M1557.8 1575.8v4.7M1713.3 1575.8v4.7M1873.9 1575.8v4.7M2029.4 1575.8v4.7M2190 1575.8v4.7" stroke="#111" stroke-width="1.5" fill="none"/>
<g style="font-family:&quot;Liberation Sans&quot;,Arial,Helvetica,sans-serif;font-size:34.5px" text-anchor="end">
<text x="196" y="1553.5">-4</text>
<text x="196" y="1468.4">-2</text>
<text x="196" y="1383.3">0</text>
<text x="196" y="1298.2">2</text>
<text x="196" y="1213.1">4</text>
<text x="196" y="1128">6</text>
<text x="196" y="1042.9">8</text>
<text x="196" y="957.8">10</text>
<text x="196" y="872.7">12</text>
</g>
<g style="font-family:&quot;Liberation Sans&quot;,Arial,Helvetica,sans-serif;font-size:33px" text-anchor="middle">
<text x="298.6" y="1608">Jan</text>
<text x="459.2" y="1608">Feb</text>
<text x="604.3" y="1608">Mrz</text>
<text x="765" y="1608">Apr</text>
<text x="920.4" y="1608">Mai</text>
<text x="1081.1" y="1608">Jun</text>
<text x="1236.5" y="1608">Jul</text>
<text x="1397.2" y="1608">Aug</text>
<text x="1557.8" y="1608">Sep</text>
<text x="1713.3" y="1608">Okt</text>
<text x="1873.9" y="1608">Nov</text>
<text x="2029.4" y="1608">Dez</text>
<text x="2190" y="1608">Jan</text>
</g>
<polygon points="298.8,2157.1 304,2158.8 309.2,2159.2 314.3,2150.1 319.5,2157.6 324.7,2154.6 329.9,2140.8 335.1,2154.6 340.3,2158.8 345.4,2154.6 350.6,2150.9 355.8,2154.6 371.3,2152.5 376.5,2144.8 381.7,2149.7 386.9,2150.9 392.1,2138.4 397.3,2150.1 402.4,2154.6 407.6,2133.3 412.8,2152.6 418,2156.3 423.2,2157.1 428.4,2146.8 433.5,2152.6 438.7,2150.9 443.9,2146 449.1,2151.3 454.3,2148.4 459.4,2116.6 464.6,2129.4 469.8,2109.1 475,2085.8 480.2,2086.4 485.4,2126 490.5,2129 495.7,2115.2 500.9,2144 506.1,2099 511.3,2114.5 516.4,2096.6 521.6,2133.3 526.8,2098.6 532,2118.1 537.2,2129 542.4,2066.4 547.5,2086.4 552.7,2087.1 557.9,2121.1 563.1,2088.7 568.3,2111.9 573.4,2130.9 578.6,2130.6 583.8,2081.1 589,2055.6 594.2,2069.9 599.4,2057 604.5,2089.7 609.7,2110.6 614.9,2085.5 620.1,2080.4 625.3,2083.6 630.4,2143.1 635.6,2083.2 640.8,2126.9 646,2087.3 651.2,2150.1 656.4,2070.6 661.5,2081.8 666.7,2085 671.9,2069.7 677.1,2113.8 682.3,2097.6 687.5,2102.2 692.6,2148.7 697.8,2074.8 703,2076.2 708.2,2055.3 713.4,2054.8 718.5,2054.8 723.7,2061.3 728.9,2054.3 734.1,2053.9 739.3,2056.2 744.5,2052.9 749.6,2051.6 754.8,2072.5 760,2046 765.2,2075.3 770.4,2068.3 775.5,2043.2 780.7,2041.8 785.9,2033.4 791.1,2035.3 796.3,2032 801.5,2037.1 806.6,2036.2 811.8,2033.9 817,2043.2 822.2,2035.3 827.4,2044.1 832.5,2045.5 837.7,2026.5 842.9,2037.1 848.1,2027.4 853.3,2022.3 858.5,2020.9 863.6,2019.9 868.8,2066.4 874,2065.5 879.2,2056.7 884.4,2037.1 889.5,2016.7 894.7,2060.4 899.9,2027.4 905.1,2067.4 910.3,2131.8 915.5,2038.1 920.6,2079.4 925.8,2058.2 931,2053.4 936.2,2038.4 941.4,2033.2 946.5,2033.7 951.7,2060.5 956.9,2035.5 962.1,2042.6 967.3,2057.2 972.5,2029.4 977.6,2056.3 982.8,2043.6 988,2031.3 993.2,2053.4 998.4,2065.2 1003.6,2038.4 1008.7,2089.2 1013.9,2051.6 1019.1,2043.6 1024.3,2041.7 1029.5,2131.8 1034.6,2035.5 1039.8,2047.3 1045,2089.2 1050.2,2052.5 1055.4,2051.1 1060.6,2021.9 1065.7,2019.5 1070.9,2022.8 1076.1,2037.4 1081.3,2056.9 1086.5,2058.8 1091.6,2076.7 1096.8,2177.2 1102,2099.6 1107.2,2069.9 1112.4,2097.9 1117.6,2050.2 1122.7,2051.7 1127.9,2103.5 1133.1,2171.1 1138.3,2110.5 1143.5,2072.7 1148.6,2128.8 1153.8,2046.9 1159,2052.4 1164.2,2050.2 1169.4,2069.9 1174.6,2094.9 1179.7,2056.5 1184.9,2058.8 1190.1,2046.6 1195.3,2046.9 1200.5,2046.6 1205.7,2046.9 1210.8,2047.6 1216,2093.2 1221.2,2085.3 1226.4,2088.6 1231.6,2094.9 1236.7,2059.5 1241.9,2090.7 1247.1,2107.9 1252.3,2166.7 1257.5,2086.1 1262.7,2058.8 1267.8,2098.8 1273,2042.6 1278.2,2120.5 1283.4,2095.8 1288.6,2044.1 1293.7,2040.2 1298.9,2044.8 1304.1,2132.3 1309.3,2079.9 1314.5,2043.3 1319.7,2057.3 1324.8,2059.1 1330,2076.7 1335.2,2046.2 1340.4,2068 1345.6,2060.3 1350.7,2129.7 1355.9,2070.7 1361.1,2098.8 1366.3,2064.5 1371.5,2108.8 1376.7,2061.8 1381.8,2120.5 1387,2055.4 1392.2,2055 1397.4,2060.3 1402.6,2059.5 1407.7,2058.8 1412.9,2056.5 1418.1,2069.2 1423.3,2054.6 1428.5,2047.6 1433.7,2062.6 1438.8,2056.5 1444,2053.9 1449.2,2052.4 1454.4,2053.9 1459.6,2056.5 1464.8,2061.8 1469.9,2053.9 1475.1,2056.5 1480.3,2144.9 1485.5,2062.6 1490.7,2063.3 1495.8,2102.7 1501,2094.1 1506.2,2080.4 1511.4,2086.1 1516.6,2096.6 1521.8,2113.1 1526.9,2097.1 1532.1,2087.8 1537.3,2131.9 1542.5,2128.4 1547.7,2077.1 1552.8,2093.6 1558,2058.3 1563.2,2066.1 1568.4,2139.2 1573.6,2086.9 1578.8,2078.4 1583.9,2095.5 1589.1,2073.9 1594.3,2099 1599.5,2128.8 1604.7,2078.4 1609.8,2081.6 1615,2104.9 1620.2,2087.8 1625.4,2075.7 1630.6,2079.3 1635.8,2132 1640.9,2074.8 1646.1,2072.2 1651.3,2089.6 1656.5,2076.2 1661.7,2078 1666.8,2081.6 1672,2093.7 1677.2,2097.3 1682.4,2108.5 1687.6,2128.8 1692.8,2141.6 1697.9,2142.6 1703.1,2133.3 1708.3,2120.1 1713.5,2104 1718.7,2134.4 1723.9,2138.1 1729,2112.5 1734.2,2111.1 1739.4,2130.4 1744.6,2124.6 1749.8,2147.7 1754.9,2110.7 1760.1,2132.5 1765.3,2113.4 1770.5,2121.9 1775.7,2106.7 1780.9,2113.8 1786,2117 1791.2,2104.9 1796.4,2103.1 1801.6,2124.6 1806.8,2127.7 1811.9,2143.2 1817.1,2149.3 1822.3,2119.2 1827.5,2122.8 1832.7,2129.3 1837.9,2146.1 1843,2140.5 1848.2,2125.5 1853.4,2127.4 1858.6,2131.9 1863.8,2147.8 1868.9,2145.1 1874.1,2133.3 1879.3,2143.1 1884.5,2125.5 1889.7,2129 1894.9,2144.5 1900,2144.2 1905.2,2125 1910.4,2128.1 1915.6,2147.3 1920.8,2150.4 1925.9,2149.5 1931.1,2144.1 1936.3,2132.2 1941.5,2145.8 1946.7,2134.5 1951.9,2146.3 1957,2149 1962.2,2144.1 1967.4,2142.3 1972.6,2135.7 1977.8,2150.6 1983,2137.4 1988.1,2136.4 1993.3,2145.3 1998.5,2137.1 2003.7,2137.4 2008.9,2139.9 2014,2146.9 2019.2,2146.4 2024.4,2150.3 2029.6,2157.1 2034.8,2157.6 2040,2160.6 2045.1,2151.7 2050.3,2156.4 2055.5,2159.1 2060.7,2158.6 2065.9,2149.2 2071,2159.8 2076.2,2158.6 2081.4,2157.6 2086.6,2159.8 2091.8,2158.1 2097,2157.1 2102.1,2159.6 2107.3,2149.6 2112.5,2157.6 2117.7,2150.1 2122.9,2146.7 2128,2152.8 2133.2,2152.1 2138.4,2153.1 2143.6,2156.4 2148.8,2154 2154,2144.7 2159.1,2156.4 2164.3,2160.3 2169.5,2156.9 2174.7,2157.4 2179.9,2156.4 2185,2157.4 2185,2203.3 2179.9,2202.4 2174.7,2203.3 2169.5,2202.8 2164.3,2205.8 2159.1,2202.4 2154,2192.3 2148.8,2200.3 2143.6,2202.4 2138.4,2199.5 2133.2,2198.7 2128,2199.3 2122.9,2194 2117.7,2196.9 2112.5,2203.5 2107.3,2196.5 2102.1,2205.2 2097,2203.1 2091.8,2203.9 2086.6,2205.4 2081.4,2203.5 2076.2,2204.3 2071,2205.4 2065.9,2196.1 2060.7,2204.3 2055.5,2204.8 2050.3,2202.4 2045.1,2198.3 2040,2206.1 2034.8,2203.5 2029.6,2203.1 2024.4,2202.1 2019.2,2194.8 2014,2195.8 2008.9,2182.7 2003.7,2178 1998.5,2177.3 1993.3,2192.7 1988.1,2176.1 1983,2178 1977.8,2202.6 1972.6,2174.8 1967.4,2187.2 1962.2,2190.5 1957,2199.8 1951.9,2194.6 1946.7,2172.5 1941.5,2193.8 1936.3,2168.2 1931.1,2190.5 1925.9,2200.6 1920.8,2202.4 1915.6,2196.6 1910.4,2160.5 1905.2,2157.2 1900,2190.7 1894.9,2191.3 1889.7,2162.2 1884.5,2157.6 1879.3,2188.6 1874.1,2170.3 1868.9,2192.4 1863.8,2197.5 1858.6,2167.7 1853.4,2159.5 1848.2,2157.6 1843,2183.8 1837.9,2194.2 1832.7,2162.9 1827.5,2155.2 1822.3,2152 1817.1,2200.2 1811.9,2188.8 1806.8,2159.9 1801.6,2156.8 1796.4,2137.7 1791.2,2139.3 1786,2150 1780.9,2147.2 1775.7,2140.8 1770.5,2154.4 1765.3,2146.8 1760.1,2168.9 1754.9,2144.4 1749.8,2197.2 1744.6,2156.8 1739.4,2164.9 1734.2,2144.8 1729,2146 1723.9,2179.3 1718.7,2172.3 1713.5,2138.5 1708.3,2152.8 1703.1,2170.3 1697.9,2187.8 1692.8,2185.8 1687.6,2161.9 1682.4,2142.4 1677.2,2132.5 1672,2129.3 1666.8,2118.5 1661.7,2115.3 1656.5,2113.8 1651.3,2125.7 1646.1,2110.2 1640.9,2112.6 1635.8,2167.9 1630.6,2116.5 1625.4,2113.4 1620.2,2124.1 1615,2139.3 1609.8,2118.5 1604.7,2115.7 1599.5,2161.9 1594.3,2134.1 1589.1,2111.8 1583.9,2130.9 1578.8,2115.7 1573.6,2123.3 1568.4,2181.4 1563.2,2104.8 1558,2097.8 1552.8,2109.1 1547.7,2094.1 1542.5,2140.6 1537.3,2143.8 1532.1,2103.8 1526.9,2112.2 1521.8,2126.8 1516.6,2111.8 1511.4,2102.3 1506.2,2097.1 1501,2109.5 1495.8,2117.3 1490.7,2081.6 1485.5,2080.9 1480.3,2155.6 1475.1,2075.4 1469.9,2073.1 1464.8,2080.2 1459.6,2075.4 1454.4,2073.1 1449.2,2071.7 1444,2073.1 1438.8,2075.4 1433.7,2080.9 1428.5,2067.4 1423.3,2073.7 1418.1,2086.9 1412.9,2075.4 1407.7,2077.5 1402.6,2078.2 1397.4,2078.9 1392.2,2074.1 1387,2074.4 1381.8,2133.5 1376.7,2080.2 1371.5,2122.8 1366.3,2082.7 1361.1,2113.8 1355.9,2088.3 1350.7,2141.8 1345.6,2078.9 1340.4,2085.9 1335.2,2066.1 1330,2093.8 1324.8,2077.8 1319.7,2076.1 1314.5,2063.5 1309.3,2096.7 1304.1,2144.2 1298.9,2064.8 1293.7,2060.6 1288.6,2064.1 1283.4,2111.1 1278.2,2133.5 1273,2062.8 1267.8,2113.8 1262.7,2077.5 1257.5,2102.3 1252.3,2175.4 1247.1,2122 1241.9,2106.5 1236.7,2078.2 1231.6,2110.3 1226.4,2104.6 1221.2,2101.5 1216,2108.7 1210.8,2067.4 1205.7,2066.7 1200.5,2066.4 1195.3,2066.7 1190.1,2066.4 1184.9,2077.5 1179.7,2075.4 1174.6,2110.3 1169.4,2087.6 1164.2,2069.7 1159,2071.7 1153.8,2066.7 1148.6,2141 1143.5,2090.1 1138.3,2124.4 1133.1,2179.4 1127.9,2118.1 1122.7,2071.1 1117.6,2069.7 1112.4,2113 1107.2,2087.6 1102,2114.6 1096.8,2184.9 1091.6,2093.8 1086.5,2077.5 1081.3,2075.8 1076.1,2100.3 1070.9,2089 1065.7,2086.4 1060.6,2088.3 1055.4,2110.9 1050.2,2112 1045,2140.5 1039.8,2108 1034.6,2098.8 1029.5,2161.6 1024.3,2103.6 1019.1,2105.1 1013.9,2111.3 1008.7,2140.5 1003.6,2101 998.4,2121.9 993.2,2112.7 988,2095.6 982.8,2105.1 977.6,2114.9 972.5,2094.1 967.3,2115.6 962.1,2104.3 956.9,2098.8 951.7,2118.2 946.5,2097.4 941.4,2097 936.2,2101 931,2112.7 925.8,2116.4 920.6,2132.8 915.5,2095.5 910.3,2161.6 905.1,2119.2 899.9,2086.8 894.7,2113.6 889.5,2078.1 884.4,2094.7 879.2,2110.6 874,2117.7 868.8,2118.5 863.6,2080.7 858.5,2081.5 853.3,2082.6 848.1,2086.8 842.9,2094.7 837.7,2086 832.5,2101.5 827.4,2100.4 822.2,2093.2 817,2099.6 811.8,2092.1 806.6,2093.9 801.5,2094.7 796.3,2090.5 791.1,2093.2 785.9,2091.7 780.7,2098.5 775.5,2099.6 770.4,2120 765.2,2125.7 760,2101.9 754.8,2123.4 749.6,2106.4 744.5,2107.5 739.3,2110.2 734.1,2108.3 728.9,2108.7 723.7,2114.3 718.5,2109 713.4,2109 708.2,2109.4 703,2126.4 697.8,2125.3 692.6,2185.3 687.5,2147.6 682.3,2143.8 677.1,2157 671.9,2121.1 666.7,2133.6 661.5,2131 656.4,2121.9 651.2,2186.5 646,2135.5 640.8,2167.6 635.6,2132.1 630.4,2180.8 625.3,2132.5 620.1,2129.8 614.9,2134 609.7,2154.4 604.5,2137.4 599.4,2116 594.2,2127.2 589,2114.9 583.8,2136.9 578.6,2180 573.4,2180.3 568.3,2163.8 563.1,2143.6 557.9,2171.7 552.7,2142.2 547.5,2141.6 542.4,2124.2 537.2,2178.6 532,2169.2 526.8,2152.2 521.6,2182.3 516.4,2150.5 511.3,2166 506.1,2152.5 500.9,2191.6 495.7,2166.6 490.5,2178.6 485.4,2176 480.2,2141.6 475,2141.1 469.8,2161.3 464.6,2179 459.4,2167.9 454.3,2195.5 449.1,2198 443.9,2193.4 438.7,2197.7 433.5,2199.1 428.4,2194.1 423.2,2203.1 418,2202.3 412.8,2199.1 407.6,2182.3 402.4,2200.9 397.3,2196.9 392.1,2186.8 386.9,2197.7 381.7,2196.6 376.5,2192.3 371.3,2179.1 355.8,2164.5 350.6,2197.7 345.4,2200.9 340.3,2204.5 335.1,2200.9 329.9,2188.8 324.7,2200.9 319.5,2203.4 314.3,2196.9 309.2,2204.9 304,2204.5 298.8,2203.1" fill="rgba(65,105,255,0.285)" stroke="none"/>
<polyline points="298.8,2157.1 304,2158.8 309.2,2159.2 314.3,2150.1 319.5,2157.6 324.7,2154.6 329.9,2140.8 335.1,2154.6 340.3,2158.8 345.4,2154.6 350.6,2150.9 355.8,2154.6 371.3,2152.5 376.5,2144.8 381.7,2149.7 386.9,2150.9 392.1,2138.4 397.3,2150.1 402.4,2154.6 407.6,2133.3 412.8,2152.6 418,2156.3 423.2,2157.1 428.4,2146.8 433.5,2152.6 438.7,2150.9 443.9,2146 449.1,2151.3 454.3,2148.4 459.4,2116.6 464.6,2129.4 469.8,2109.1 475,2085.8 480.2,2086.4 485.4,2126 490.5,2129 495.7,2115.2 500.9,2144 506.1,2099 511.3,2114.5 516.4,2096.6 521.6,2133.3 526.8,2098.6 532,2118.1 537.2,2129 542.4,2066.4 547.5,2086.4 552.7,2087.1 557.9,2121.1 563.1,2088.7 568.3,2111.9 573.4,2130.9 578.6,2130.6 583.8,2081.1 589,2055.6 594.2,2069.9 599.4,2057 604.5,2089.7 609.7,2110.6 614.9,2085.5 620.1,2080.4 625.3,2083.6 630.4,2143.1 635.6,2083.2 640.8,2126.9 646,2087.3 651.2,2150.1 656.4,2070.6 661.5,2081.8 666.7,2085 671.9,2069.7 677.1,2113.8 682.3,2097.6 687.5,2102.2 692.6,2148.7 697.8,2074.8 703,2076.2 708.2,2055.3 713.4,2054.8 718.5,2054.8 723.7,2061.3 728.9,2054.3 734.1,2053.9 739.3,2056.2 744.5,2052.9 749.6,2051.6 754.8,2072.5 760,2046 765.2,2075.3 770.4,2068.3 775.5,2043.2 780.7,2041.8 785.9,2033.4 791.1,2035.3 796.3,2032 801.5,2037.1 806.6,2036.2 811.8,2033.9 817,2043.2 822.2,2035.3 827.4,2044.1 832.5,2045.5 837.7,2026.5 842.9,2037.1 848.1,2027.4 853.3,2022.3 858.5,2020.9 863.6,2019.9 868.8,2066.4 874,2065.5 879.2,2056.7 884.4,2037.1 889.5,2016.7 894.7,2060.4 899.9,2027.4 905.1,2067.4 910.3,2131.8 915.5,2038.1 920.6,2079.4 925.8,2058.2 931,2053.4 936.2,2038.4 941.4,2033.2 946.5,2033.7 951.7,2060.5 956.9,2035.5 962.1,2042.6 967.3,2057.2 972.5,2029.4 977.6,2056.3 982.8,2043.6 988,2031.3 993.2,2053.4 998.4,2065.2 1003.6,2038.4 1008.7,2089.2 1013.9,2051.6 1019.1,2043.6 1024.3,2041.7 1029.5,2131.8 1034.6,2035.5 1039.8,2047.3 1045,2089.2 1050.2,2052.5 1055.4,2051.1 1060.6,2021.9 1065.7,2019.5 1070.9,2022.8 1076.1,2037.4 1081.3,2056.9 1086.5,2058.8 1091.6,2076.7 1096.8,2177.2 1102,2099.6 1107.2,2069.9 1112.4,2097.9 1117.6,2050.2 1122.7,2051.7 1127.9,2103.5 1133.1,2171.1 1138.3,2110.5 1143.5,2072.7 1148.6,2128.8 1153.8,2046.9 1159,2052.4 1164.2,2050.2 1169.4,2069.9 1174.6,2094.9 1179.7,2056.5 1184.9,2058.8 1190.1,2046.6 1195.3,2046.9 1200.5,2046.6 1205.7,2046.9 1210.8,2047.6 1216,2093.2 1221.2,2085.3 1226.4,2088.6 1231.6,2094.9 1236.7,2059.5 1241.9,2090.7 1247.1,2107.9 1252.3,2166.7 1257.5,2086.1 1262.7,2058.8 1267.8,2098.8 1273,2042.6 1278.2,2120.5 1283.4,2095.8 1288.6,2044.1 1293.7,2040.2 1298.9,2044.8 1304.1,2132.3 1309.3,2079.9 1314.5,2043.3 1319.7,2057.3 1324.8,2059.1 1330,2076.7 1335.2,2046.2 1340.4,2068 1345.6,2060.3 1350.7,2129.7 1355.9,2070.7 1361.1,2098.8 1366.3,2064.5 1371.5,2108.8 1376.7,2061.8 1381.8,2120.5 1387,2055.4 1392.2,2055 1397.4,2060.3 1402.6,2059.5 1407.7,2058.8 1412.9,2056.5 1418.1,2069.2 1423.3,2054.6 1428.5,2047.6 1433.7,2062.6 1438.8,2056.5 1444,2053.9 1449.2,2052.4 1454.4,2053.9 1459.6,2056.5 1464.8,2061.8 1469.9,2053.9 1475.1,2056.5 1480.3,2144.9 1485.5,2062.6 1490.7,2063.3 1495.8,2102.7 1501,2094.1 1506.2,2080.4 1511.4,2086.1 1516.6,2096.6 1521.8,2113.1 1526.9,2097.1 1532.1,2087.8 1537.3,2131.9 1542.5,2128.4 1547.7,2077.1 1552.8,2093.6 1558,2058.3 1563.2,2066.1 1568.4,2139.2 1573.6,2086.9 1578.8,2078.4 1583.9,2095.5 1589.1,2073.9 1594.3,2099 1599.5,2128.8 1604.7,2078.4 1609.8,2081.6 1615,2104.9 1620.2,2087.8 1625.4,2075.7 1630.6,2079.3 1635.8,2132 1640.9,2074.8 1646.1,2072.2 1651.3,2089.6 1656.5,2076.2 1661.7,2078 1666.8,2081.6 1672,2093.7 1677.2,2097.3 1682.4,2108.5 1687.6,2128.8 1692.8,2141.6 1697.9,2142.6 1703.1,2133.3 1708.3,2120.1 1713.5,2104 1718.7,2134.4 1723.9,2138.1 1729,2112.5 1734.2,2111.1 1739.4,2130.4 1744.6,2124.6 1749.8,2147.7 1754.9,2110.7 1760.1,2132.5 1765.3,2113.4 1770.5,2121.9 1775.7,2106.7 1780.9,2113.8 1786,2117 1791.2,2104.9 1796.4,2103.1 1801.6,2124.6 1806.8,2127.7 1811.9,2143.2 1817.1,2149.3 1822.3,2119.2 1827.5,2122.8 1832.7,2129.3 1837.9,2146.1 1843,2140.5 1848.2,2125.5 1853.4,2127.4 1858.6,2131.9 1863.8,2147.8 1868.9,2145.1 1874.1,2133.3 1879.3,2143.1 1884.5,2125.5 1889.7,2129 1894.9,2144.5 1900,2144.2 1905.2,2125 1910.4,2128.1 1915.6,2147.3 1920.8,2150.4 1925.9,2149.5 1931.1,2144.1 1936.3,2132.2 1941.5,2145.8 1946.7,2134.5 1951.9,2146.3 1957,2149 1962.2,2144.1 1967.4,2142.3 1972.6,2135.7 1977.8,2150.6 1983,2137.4 1988.1,2136.4 1993.3,2145.3 1998.5,2137.1 2003.7,2137.4 2008.9,2139.9 2014,2146.9 2019.2,2146.4 2024.4,2150.3 2029.6,2157.1 2034.8,2157.6 2040,2160.6 2045.1,2151.7 2050.3,2156.4 2055.5,2159.1 2060.7,2158.6 2065.9,2149.2 2071,2159.8 2076.2,2158.6 2081.4,2157.6 2086.6,2159.8 2091.8,2158.1 2097,2157.1 2102.1,2159.6 2107.3,2149.6 2112.5,2157.6 2117.7,2150.1 2122.9,2146.7 2128,2152.8 2133.2,2152.1 2138.4,2153.1 2143.6,2156.4 2148.8,2154 2154,2144.7 2159.1,2156.4 2164.3,2160.3 2169.5,2156.9 2174.7,2157.4 2179.9,2156.4 2185,2157.4" fill="none" stroke="#2d64ff" stroke-width="1.95" stroke-dasharray="7 7.4" stroke-linejoin="round"/>
<polyline points="298.8,2203.1 304,2204.5 309.2,2204.9 314.3,2196.9 319.5,2203.4 324.7,2200.9 329.9,2188.8 335.1,2200.9 340.3,2204.5 345.4,2200.9 350.6,2197.7 355.8,2164.5 371.3,2179.1 376.5,2192.3 381.7,2196.6 386.9,2197.7 392.1,2186.8 397.3,2196.9 402.4,2200.9 407.6,2182.3 412.8,2199.1 418,2202.3 423.2,2203.1 428.4,2194.1 433.5,2199.1 438.7,2197.7 443.9,2193.4 449.1,2198 454.3,2195.5 459.4,2167.9 464.6,2179 469.8,2161.3 475,2141.1 480.2,2141.6 485.4,2176 490.5,2178.6 495.7,2166.6 500.9,2191.6 506.1,2152.5 511.3,2166 516.4,2150.5 521.6,2182.3 526.8,2152.2 532,2169.2 537.2,2178.6 542.4,2124.2 547.5,2141.6 552.7,2142.2 557.9,2171.7 563.1,2143.6 568.3,2163.8 573.4,2180.3 578.6,2180 583.8,2136.9 589,2114.9 594.2,2127.2 599.4,2116 604.5,2137.4 609.7,2154.4 614.9,2134 620.1,2129.8 625.3,2132.5 630.4,2180.8 635.6,2132.1 640.8,2167.6 646,2135.5 651.2,2186.5 656.4,2121.9 661.5,2131 666.7,2133.6 671.9,2121.1 677.1,2157 682.3,2143.8 687.5,2147.6 692.6,2185.3 697.8,2125.3 703,2126.4 708.2,2109.4 713.4,2109 718.5,2109 723.7,2114.3 728.9,2108.7 734.1,2108.3 739.3,2110.2 744.5,2107.5 749.6,2106.4 754.8,2123.4 760,2101.9 765.2,2125.7 770.4,2120 775.5,2099.6 780.7,2098.5 785.9,2091.7 791.1,2093.2 796.3,2090.5 801.5,2094.7 806.6,2093.9 811.8,2092.1 817,2099.6 822.2,2093.2 827.4,2100.4 832.5,2101.5 837.7,2086 842.9,2094.7 848.1,2086.8 853.3,2082.6 858.5,2081.5 863.6,2080.7 868.8,2118.5 874,2117.7 879.2,2110.6 884.4,2094.7 889.5,2078.1 894.7,2113.6 899.9,2086.8 905.1,2119.2 910.3,2161.6 915.5,2095.5 920.6,2132.8 925.8,2116.4 931,2112.7 936.2,2101 941.4,2097 946.5,2097.4 951.7,2118.2 956.9,2098.8 962.1,2104.3 967.3,2115.6 972.5,2094.1 977.6,2114.9 982.8,2105.1 988,2095.6 993.2,2112.7 998.4,2121.9 1003.6,2101 1008.7,2140.5 1013.9,2111.3 1019.1,2105.1 1024.3,2103.6 1029.5,2161.6 1034.6,2098.8 1039.8,2108 1045,2140.5 1050.2,2112 1055.4,2110.9 1060.6,2088.3 1065.7,2086.4 1070.9,2089 1076.1,2100.3 1081.3,2075.8 1086.5,2077.5 1091.6,2093.8 1096.8,2184.9 1102,2114.6 1107.2,2087.6 1112.4,2113 1117.6,2069.7 1122.7,2071.1 1127.9,2118.1 1133.1,2179.4 1138.3,2124.4 1143.5,2090.1 1148.6,2141 1153.8,2066.7 1159,2071.7 1164.2,2069.7 1169.4,2087.6 1174.6,2110.3 1179.7,2075.4 1184.9,2077.5 1190.1,2066.4 1195.3,2066.7 1200.5,2066.4 1205.7,2066.7 1210.8,2067.4 1216,2108.7 1221.2,2101.5 1226.4,2104.6 1231.6,2110.3 1236.7,2078.2 1241.9,2106.5 1247.1,2122 1252.3,2175.4 1257.5,2102.3 1262.7,2077.5 1267.8,2113.8 1273,2062.8 1278.2,2133.5 1283.4,2111.1 1288.6,2064.1 1293.7,2060.6 1298.9,2064.8 1304.1,2144.2 1309.3,2096.7 1314.5,2063.5 1319.7,2076.1 1324.8,2077.8 1330,2093.8 1335.2,2066.1 1340.4,2085.9 1345.6,2078.9 1350.7,2141.8 1355.9,2088.3 1361.1,2113.8 1366.3,2082.7 1371.5,2122.8 1376.7,2080.2 1381.8,2133.5 1387,2074.4 1392.2,2074.1 1397.4,2078.9 1402.6,2078.2 1407.7,2077.5 1412.9,2075.4 1418.1,2086.9 1423.3,2073.7 1428.5,2067.4 1433.7,2080.9 1438.8,2075.4 1444,2073.1 1449.2,2071.7 1454.4,2073.1 1459.6,2075.4 1464.8,2080.2 1469.9,2073.1 1475.1,2075.4 1480.3,2155.6 1485.5,2080.9 1490.7,2081.6 1495.8,2117.3 1501,2109.5 1506.2,2097.1 1511.4,2102.3 1516.6,2111.8 1521.8,2126.8 1526.9,2112.2 1532.1,2103.8 1537.3,2143.8 1542.5,2140.6 1547.7,2094.1 1552.8,2109.1 1558,2097.8 1563.2,2104.8 1568.4,2181.4 1573.6,2123.3 1578.8,2115.7 1583.9,2130.9 1589.1,2111.8 1594.3,2134.1 1599.5,2161.9 1604.7,2115.7 1609.8,2118.5 1615,2139.3 1620.2,2124.1 1625.4,2113.4 1630.6,2116.5 1635.8,2167.9 1640.9,2112.6 1646.1,2110.2 1651.3,2125.7 1656.5,2113.8 1661.7,2115.3 1666.8,2118.5 1672,2129.3 1677.2,2132.5 1682.4,2142.4 1687.6,2161.9 1692.8,2185.8 1697.9,2187.8 1703.1,2170.3 1708.3,2152.8 1713.5,2138.5 1718.7,2172.3 1723.9,2179.3 1729,2146 1734.2,2144.8 1739.4,2164.9 1744.6,2156.8 1749.8,2197.2 1754.9,2144.4 1760.1,2168.9 1765.3,2146.8 1770.5,2154.4 1775.7,2140.8 1780.9,2147.2 1786,2150 1791.2,2139.3 1796.4,2137.7 1801.6,2156.8 1806.8,2159.9 1811.9,2188.8 1817.1,2200.2 1822.3,2152 1827.5,2155.2 1832.7,2162.9 1837.9,2194.2 1843,2183.8 1848.2,2157.6 1853.4,2159.5 1858.6,2167.7 1863.8,2197.5 1868.9,2192.4 1874.1,2170.3 1879.3,2188.6 1884.5,2157.6 1889.7,2162.2 1894.9,2191.3 1900,2190.7 1905.2,2157.2 1910.4,2160.5 1915.6,2196.6 1920.8,2202.4 1925.9,2200.6 1931.1,2190.5 1936.3,2168.2 1941.5,2193.8 1946.7,2172.5 1951.9,2194.6 1957,2199.8 1962.2,2190.5 1967.4,2187.2 1972.6,2174.8 1977.8,2202.6 1983,2178 1988.1,2176.1 1993.3,2192.7 1998.5,2177.3 2003.7,2178 2008.9,2182.7 2014,2195.8 2019.2,2194.8 2024.4,2202.1 2029.6,2203.1 2034.8,2203.5 2040,2206.1 2045.1,2198.3 2050.3,2202.4 2055.5,2204.8 2060.7,2204.3 2065.9,2196.1 2071,2205.4 2076.2,2204.3 2081.4,2203.5 2086.6,2205.4 2091.8,2203.9 2097,2203.1 2102.1,2205.2 2107.3,2196.5 2112.5,2203.5 2117.7,2196.9 2122.9,2194 2128,2199.3 2133.2,2198.7 2138.4,2199.5 2143.6,2202.4 2148.8,2200.3 2154,2192.3 2159.1,2202.4 2164.3,2205.8 2169.5,2202.8 2174.7,2203.3 2179.9,2202.4 2185,2203.3" fill="none" stroke="#2d64ff" stroke-width="1.95" stroke-dasharray="7 7.4" stroke-linejoin="round"/>
<polyline points="298.8,2180.1 304,2181.7 309.2,2182.1 314.3,2173.5 319.5,2180.5 324.7,2177.8 329.9,2164.8 335.1,2177.8 340.3,2181.7 345.4,2177.8 350.6,2174.3 355.8,2160.4 371.3,2164.9 376.5,2168.6 381.7,2173.1 386.9,2174.3 392.1,2162.6 397.3,2173.5 402.4,2177.8 407.6,2157.8 412.8,2175.8 418,2179.3 423.2,2180.1 428.4,2170.5 433.5,2175.8 438.7,2174.3 443.9,2169.7 449.1,2174.7 454.3,2172 459.4,2142.3 464.6,2154.2 469.8,2135.2 475,2113.4 480.2,2114 485.4,2151 490.5,2153.8 495.7,2140.9 500.9,2167.8 506.1,2125.8 511.3,2140.2 516.4,2123.5 521.6,2157.8 526.8,2125.4 532,2143.6 537.2,2153.8 542.4,2095.3 547.5,2114 552.7,2114.6 557.9,2146.4 563.1,2116.1 568.3,2137.9 573.4,2155.6 578.6,2155.3 583.8,2109 589,2085.2 594.2,2098.6 599.4,2086.5 604.5,2113.1 609.7,2131.8 614.9,2109.3 620.1,2104.8 625.3,2107.7 630.4,2160.8 635.6,2107.3 640.8,2146.3 646,2111 651.2,2167 656.4,2096.1 661.5,2106 666.7,2108.9 671.9,2095.2 677.1,2134.7 682.3,2120.1 687.5,2124.3 692.6,2165.8 697.8,2099.8 703,2101 708.2,2082.4 713.4,2081.9 718.5,2081.9 723.7,2087.8 728.9,2081.5 734.1,2081.1 739.3,2083.2 744.5,2080.3 749.6,2079 754.8,2097.7 760,2074.1 765.2,2100.2 770.4,2094 775.5,2071.6 780.7,2070.3 785.9,2062.9 791.1,2064.5 796.3,2061.6 801.5,2066.2 806.6,2065.3 811.8,2063.3 817,2071.6 822.2,2064.5 827.4,2072.4 832.5,2073.7 837.7,2056.6 842.9,2066.2 848.1,2057.5 853.3,2052.9 858.5,2051.7 863.6,2050.8 868.8,2092.3 874,2091.5 879.2,2083.6 884.4,2066.2 889.5,2047.9 894.7,2086.9 899.9,2057.5 905.1,2093.2 910.3,2149.2 915.5,2067 920.6,2105.6 925.8,2086.9 931,2082.8 936.2,2069.5 941.4,2064.9 946.5,2065.3 951.7,2089 956.9,2067 962.1,2073.2 967.3,2086.1 972.5,2061.6 977.6,2085.3 982.8,2074.1 988,2063.3 993.2,2082.8 998.4,2093.2 1003.6,2069.5 1008.7,2114.3 1013.9,2081.1 1019.1,2074.1 1024.3,2072.4 1029.5,2149.2 1034.6,2067 1039.8,2077.4 1045,2114.3 1050.2,2081.9 1055.4,2080.7 1060.6,2055 1065.7,2052.9 1070.9,2055.8 1076.1,2068.7 1081.3,2066.6 1086.5,2068.4 1091.6,2085.5 1096.8,2181.1 1102,2107.3 1107.2,2079 1112.4,2105.6 1117.6,2060.2 1122.7,2061.6 1127.9,2111 1133.1,2175.3 1138.3,2117.6 1143.5,2081.7 1148.6,2135.1 1153.8,2057.1 1159,2062.3 1164.2,2060.2 1169.4,2079 1174.6,2102.8 1179.7,2066.2 1184.9,2068.4 1190.1,2056.7 1195.3,2057.1 1200.5,2056.7 1205.7,2057.1 1210.8,2057.8 1216,2101.2 1221.2,2093.6 1226.4,2096.8 1231.6,2102.8 1236.7,2069.1 1241.9,2098.8 1247.1,2115.2 1252.3,2171.2 1257.5,2094.4 1262.7,2068.4 1267.8,2106.5 1273,2053 1278.2,2127.2 1283.4,2103.6 1288.6,2054.4 1293.7,2050.6 1298.9,2055 1304.1,2138.4 1309.3,2088.5 1314.5,2053.7 1319.7,2066.9 1324.8,2068.7 1330,2085.5 1335.2,2056.4 1340.4,2077.2 1345.6,2069.8 1350.7,2135.9 1355.9,2079.8 1361.1,2106.5 1366.3,2073.8 1371.5,2116 1376.7,2071.3 1381.8,2127.2 1387,2065.1 1392.2,2064.8 1397.4,2069.8 1402.6,2069.1 1407.7,2068.4 1412.9,2066.2 1418.1,2078.3 1423.3,2064.4 1428.5,2057.8 1433.7,2072 1438.8,2066.2 1444,2063.7 1449.2,2062.3 1454.4,2063.7 1459.6,2066.2 1464.8,2071.3 1469.9,2063.7 1475.1,2066.2 1480.3,2150.4 1485.5,2072 1490.7,2072.7 1495.8,2110.2 1501,2102 1506.2,2088.9 1511.4,2094.4 1516.6,2104.4 1521.8,2120.1 1526.9,2104.8 1532.1,2096 1537.3,2138 1542.5,2134.7 1547.7,2085.8 1552.8,2101.6 1558,2077.4 1563.2,2084.7 1568.4,2159.6 1573.6,2103.9 1578.8,2096.1 1583.9,2111.8 1589.1,2091.9 1594.3,2115.2 1599.5,2143.4 1604.7,2096.1 1609.8,2099 1615,2120.5 1620.2,2104.8 1625.4,2093.6 1630.6,2096.9 1635.8,2148.3 1640.9,2092.7 1646.1,2090.2 1651.3,2106.4 1656.5,2094 1661.7,2095.6 1666.8,2099 1672,2110.2 1677.2,2113.5 1682.4,2123.9 1687.6,2143.4 1692.8,2163.3 1697.9,2164.9 1703.1,2150.4 1708.3,2134.7 1713.5,2119.7 1718.7,2152.1 1723.9,2157.9 1729,2127.6 1734.2,2126.4 1739.4,2145.9 1744.6,2138.8 1749.8,2172.8 1754.9,2125.9 1760.1,2149.2 1765.3,2128.4 1770.5,2136.3 1775.7,2122.2 1780.9,2128.8 1786,2131.8 1791.2,2120.5 1796.4,2118.9 1801.6,2138.8 1806.8,2141.7 1811.9,2165.8 1817.1,2175.3 1822.3,2133.8 1827.5,2137.1 1832.7,2144.2 1837.9,2170.3 1843,2161.6 1848.2,2139.6 1853.4,2141.4 1858.6,2148.2 1863.8,2173.1 1868.9,2168.8 1874.1,2150.4 1879.3,2165.7 1884.5,2139.6 1889.7,2143.6 1894.9,2167.9 1900,2167.4 1905.2,2139.2 1910.4,2142.2 1915.6,2172.3 1920.8,2177.1 1925.9,2175.7 1931.1,2167.2 1936.3,2148.6 1941.5,2170 1946.7,2152.2 1951.9,2170.6 1957,2175 1962.2,2167.2 1967.4,2164.4 1972.6,2154.1 1977.8,2177.3 1983,2156.8 1988.1,2155.2 1993.3,2169.1 1998.5,2156.3 2003.7,2156.8 2008.9,2160.8 2014,2171.6 2019.2,2170.8 2024.4,2176.9 2029.6,2180.1 2034.8,2180.5 2040,2183.3 2045.1,2175 2050.3,2179.4 2055.5,2181.9 2060.7,2181.5 2065.9,2172.6 2071,2182.6 2076.2,2181.5 2081.4,2180.5 2086.6,2182.6 2091.8,2181 2097,2180.1 2102.1,2182.4 2107.3,2173.1 2112.5,2180.5 2117.7,2173.5 2122.9,2170.3 2128,2176.1 2133.2,2175.4 2138.4,2176.3 2143.6,2179.4 2148.8,2177.2 2154,2168.5 2159.1,2179.4 2164.3,2183.1 2169.5,2179.9 2174.7,2180.3 2179.9,2179.4 2185,2180.3" fill="none" stroke="#1a3a9c" stroke-width="1.85" stroke-linejoin="round"/>
<polygon points="298.8,2159 304,2161.4 309.2,2162 314.3,2149.1 319.5,2159.6 324.7,2155.5 329.9,2135.9 335.1,2155.5 340.3,2161.4 345.4,2155.5 350.6,2150.2 355.8,2154.6 371.3,2152.5 376.5,2141.6 381.7,2148.5 386.9,2150.2 392.1,2132.6 397.3,2149.1 402.4,2155.5 407.6,2125.4 412.8,2152.6 418,2157.9 423.2,2159 428.4,2144.5 433.5,2152.6 438.7,2150.2 443.9,2143.3 449.1,2150.8 454.3,2146.8 459.4,2102 464.6,2119.9 469.8,2091.3 475,2058.4 480.2,2059.3 485.4,2115.1 490.5,2119.4 495.7,2099.9 500.9,2140.5 506.1,2077 511.3,2098.9 516.4,2073.7 521.6,2125.4 526.8,2076.6 532,2104 537.2,2119.4 542.4,2031.1 547.5,2059.3 552.7,2060.2 557.9,2108.2 563.1,2062.5 568.3,2095.3 573.4,2122.1 578.6,2121.6 583.8,2051.8 589,2015.9 594.2,2036 599.4,2017.8 604.5,1945.2 609.7,2014.2 614.9,1931.4 620.1,1914.5 625.3,1925.2 630.4,2121.5 635.6,1923.7 640.8,2067.9 646,1937.5 651.2,2144.6 656.4,1882.3 661.5,1919.1 666.7,1929.8 671.9,1879.2 677.1,2024.9 682.3,1971.2 687.5,1986.6 692.6,2140 697.8,1896.1 703,1900.7 708.2,1831.7 713.4,1830.1 718.5,1830.1 723.7,1851.6 728.9,1828.6 734.1,1827.1 739.3,1834.7 744.5,1824 749.6,1819.4 754.8,1888.4 760,1801 765.2,1897.6 770.4,1874.6 775.5,1791.8 780.7,1787.2 785.9,1759.6 791.1,1765.7 796.3,1755 801.5,1771.8 806.6,1768.8 811.8,1761.1 817,1791.8 822.2,1765.7 827.4,1794.8 832.5,1799.4 837.7,1736.6 842.9,1771.8 848.1,1739.6 853.3,1722.8 858.5,1718.1 863.6,1715.1 868.8,1868.5 874,1865.4 879.2,1836.3 884.4,1771.8 889.5,1704.3 894.7,1848.5 899.9,1739.6 905.1,1871.5 910.3,2084 915.5,1774.9 920.6,1911.1 925.8,1841.2 931,1825.6 936.2,1775.9 941.4,1758.8 946.5,1760.3 951.7,1848.9 956.9,1766.6 962.1,1789.9 967.3,1838.1 972.5,1746.4 977.6,1835 982.8,1793 988,1752.6 993.2,1825.6 998.4,1864.5 1003.6,1775.9 1008.7,1943.8 1013.9,1819.4 1019.1,1793 1024.3,1786.8 1029.5,2084 1034.6,1766.6 1039.8,1805.4 1045,1943.8 1050.2,1822.5 1055.4,1817.9 1060.6,1721.5 1065.7,1713.7 1070.9,1724.6 1076.1,1772.8 1081.3,1805.4 1086.5,1812.2 1091.6,1877.4 1096.8,2242.1 1102,1960.6 1107.2,1852.8 1112.4,1954.3 1117.6,1781.2 1122.7,1786.5 1127.9,1974.7 1133.1,2219.9 1138.3,2000 1143.5,1862.9 1148.6,2066.5 1153.8,1769.3 1159,1789.2 1164.2,1781.2 1169.4,1852.8 1174.6,1943.5 1179.7,1804 1184.9,1812.2 1190.1,1768 1195.3,1769.3 1200.5,1768 1205.7,1769.3 1210.8,1771.9 1216,1937.3 1221.2,1908.5 1226.4,1920.5 1231.6,1943.5 1236.7,1815 1241.9,1928.1 1247.1,1990.6 1252.3,2204.1 1257.5,1911.5 1262.7,1812.2 1267.8,1957.5 1273,1753.7 1278.2,2036.4 1283.4,1946.6 1288.6,1758.8 1293.7,1744.7 1298.9,1761.4 1304.1,2079.1 1309.3,1889.1 1314.5,1756.2 1319.7,1806.8 1324.8,1813.6 1330,1877.4 1335.2,1766.6 1340.4,1845.7 1345.6,1817.7 1350.7,2069.6 1355.9,1855.7 1361.1,1957.5 1366.3,1833 1371.5,1993.7 1376.7,1823.3 1381.8,2036.4 1387,1799.9 1392.2,1798.6 1397.4,1817.7 1402.6,1815 1407.7,1812.2 1412.9,1804 1418.1,1850 1423.3,1797.2 1428.5,1771.9 1433.7,1826.1 1438.8,1804 1444,1794.5 1449.2,1789.2 1454.4,1794.5 1459.6,1804 1464.8,1823.3 1469.9,1794.5 1475.1,1804 1480.3,2125 1485.5,1826.1 1490.7,1828.8 1495.8,1971.6 1501,1940.4 1506.2,1890.6 1511.4,1911.5 1516.6,1949.7 1521.8,2009.5 1526.9,1951.2 1532.1,1917.5 1537.3,2077.6 1542.5,2064.9 1547.7,1878.9 1552.8,1938.9 1558,1914.1 1563.2,1934 1568.4,2118.9 1573.6,1986.6 1578.8,1965.1 1583.9,2008.2 1589.1,1953.8 1594.3,2017.3 1599.5,2092.6 1604.7,1965.1 1609.8,1973 1615,2032 1620.2,1988.9 1625.4,1958.3 1630.6,1967.4 1635.8,2100.6 1640.9,1956 1646.1,1949.2 1651.3,1993.5 1656.5,1959.4 1661.7,1964 1666.8,1973 1672,2003.7 1677.2,2012.7 1682.4,2041.1 1687.6,2092.6 1692.8,2124.8 1697.9,2127.5 1703.1,2104 1708.3,2070.6 1713.5,2029.7 1718.7,2106.7 1723.9,2116.1 1729,2051.3 1734.2,2047.9 1739.4,2096.6 1744.6,2081.9 1749.8,2140.3 1754.9,2046.7 1760.1,2102 1765.3,2053.6 1770.5,2075.1 1775.7,2036.5 1780.9,2054.7 1786,2062.6 1791.2,2032 1796.4,2027.5 1801.6,2081.9 1806.8,2089.8 1811.9,2128.9 1817.1,2144.3 1822.3,2068.3 1827.5,2077.4 1832.7,2093.9 1837.9,2136.2 1843,2122.1 1848.2,2084.2 1853.4,2089 1858.6,2100.4 1863.8,2140.7 1868.9,2133.8 1874.1,2103.9 1879.3,2128.6 1884.5,2084.1 1889.7,2093 1894.9,2132.2 1900,2131.5 1905.2,2083 1910.4,2090.7 1915.6,2139.4 1920.8,2147.2 1925.9,2144.8 1931.1,2131.1 1936.3,2101.1 1941.5,2135.6 1946.7,2106.9 1951.9,2136.7 1957,2143.7 1962.2,2131.1 1967.4,2126.7 1972.6,2110 1977.8,2147.6 1983,2114.3 1988.1,2111.7 1993.3,2134.2 1998.5,2113.4 2003.7,2114.3 2008.9,2120.7 2014,2138.3 2019.2,2137.1 2024.4,2146.9 2029.6,2159 2034.8,2159.7 2040,2163.9 2045.1,2151.3 2050.3,2158 2055.5,2161.8 2060.7,2161.1 2065.9,2147.8 2071,2162.8 2076.2,2161.1 2081.4,2159.7 2086.6,2162.8 2091.8,2160.4 2097,2159 2102.1,2162.5 2107.3,2148.4 2112.5,2159.7 2117.7,2149.1 2122.9,2144.3 2128,2153 2133.2,2152 2138.4,2153.3 2143.6,2158 2148.8,2154.6 2154,2141.5 2159.1,2158 2164.3,2163.5 2169.5,2158.7 2174.7,2159.3 2179.9,2158 2185,2159.3 2185,2224.1 2179.9,2222.9 2174.7,2224.1 2169.5,2223.5 2164.3,2227.7 2159.1,2222.9 2154,2208.6 2148.8,2220 2143.6,2222.9 2138.4,2218.8 2133.2,2217.7 2128,2218.5 2122.9,2211 2117.7,2215.1 2112.5,2224.4 2107.3,2214.6 2102.1,2226.8 2097,2223.8 2091.8,2225 2086.6,2227.1 2081.4,2224.4 2076.2,2225.6 2071,2227.1 2065.9,2214 2060.7,2225.6 2055.5,2226.2 2050.3,2222.9 2045.1,2217.1 2040,2228 2034.8,2224.4 2029.6,2223.8 2024.4,2278 2019.2,2259.6 2014,2262 2008.9,2229 2003.7,2217 1998.5,2215.4 1993.3,2254.2 1988.1,2212.1 1983,2217 1977.8,2279.4 1972.6,2208.9 1967.4,2240.2 1962.2,2248.5 1957,2272.2 1951.9,2259 1946.7,2203.2 1941.5,2256.9 1936.3,2192.1 1931.1,2248.5 1925.9,2274.2 1920.8,2278.7 1915.6,2264 1910.4,2172.7 1905.2,2164.3 1900,2249.2 1894.9,2250.6 1889.7,2177 1884.5,2165.3 1879.3,2243.9 1874.1,2197.5 1868.9,2253.6 1863.8,2266.4 1858.6,2190.9 1853.4,2170.3 1848.2,2165.4 1843,2231.7 1837.9,2258.1 1832.7,2178.7 1827.5,2159.3 1822.3,2151.2 1817.1,2273.2 1811.9,2244.3 1806.8,2171.2 1801.6,2163.3 1796.4,2115 1791.2,2119 1786,2146.2 1780.9,2139.1 1775.7,2123 1770.5,2157.3 1765.3,2138.1 1760.1,2193.9 1754.9,2132.1 1749.8,2265.7 1744.6,2163.3 1739.4,2183.8 1734.2,2133.1 1729,2136.1 1723.9,2220.3 1718.7,2202.7 1713.5,2117 1708.3,2153.3 1703.1,2197.6 1697.9,2241.7 1692.8,2236.7 1687.6,2176.2 1682.4,2127 1677.2,2101.9 1672,2093.8 1666.8,2066.6 1661.7,2058.5 1656.5,2054.5 1651.3,2084.7 1646.1,2045.4 1640.9,2051.5 1635.8,2191.3 1630.6,2061.5 1625.4,2053.5 1620.2,2080.7 1615,2119 1609.8,2066.6 1604.7,2059.5 1599.5,2176.2 1594.3,2105.9 1589.1,2049.4 1583.9,2097.8 1578.8,2059.5 1573.6,2078.7 1568.4,2225.5 1563.2,2031.9 1558,2014.2 1552.8,1995.1 1547.7,1940.6 1542.5,2109.4 1537.3,2120.9 1532.1,1975.7 1526.9,2006.3 1521.8,2059.2 1516.6,2004.9 1511.4,1970.2 1506.2,1951.3 1501,1996.5 1495.8,2024.7 1490.7,1895.3 1485.5,1892.7 1480.3,2163.9 1475.1,1872.8 1469.9,1864.1 1464.8,1890.2 1459.6,1872.8 1454.4,1864.1 1449.2,1859.3 1444,1864.1 1438.8,1872.8 1433.7,1892.7 1428.5,1843.6 1423.3,1866.6 1418.1,1914.5 1412.9,1872.8 1407.7,1880.2 1402.6,1882.7 1397.4,1885.2 1392.2,1867.8 1387,1869.1 1381.8,2083.6 1376.7,1890.2 1371.5,2044.8 1366.3,1899.1 1361.1,2011.9 1355.9,1919.6 1350.7,2113.7 1345.6,1885.2 1340.4,1910.6 1335.2,1838.8 1330,1939.3 1324.8,1881.4 1319.7,1875.2 1314.5,1829.4 1309.3,1950 1304.1,2122.3 1298.9,1834.1 1293.7,1818.9 1288.6,1831.8 1283.4,2002.1 1278.2,2083.6 1273,1827.1 1267.8,2011.9 1262.7,1880.2 1257.5,1970.2 1252.3,2235.7 1247.1,2042 1241.9,1985.3 1236.7,1882.7 1231.6,1999.3 1226.4,1978.4 1221.2,1967.5 1216,1993.7 1210.8,1843.6 1205.7,1841.2 1200.5,1840 1195.3,1841.2 1190.1,1840 1184.9,1880.2 1179.7,1872.8 1174.6,1999.3 1169.4,1917 1164.2,1852 1159,1859.3 1153.8,1841.2 1148.6,2110.8 1143.5,1926.1 1138.3,2050.6 1133.1,2250 1127.9,2027.6 1122.7,1856.8 1117.6,1852 1112.4,2009.1 1107.2,1917 1102,2014.8 1096.8,2270.1 1091.6,1939.3 1086.5,1880.2 1081.3,1874 1076.1,1980.3 1070.9,1942.9 1065.7,1934.5 1060.6,1940.5 1055.4,2015.2 1050.2,2018.8 1045,2112.8 1039.8,2005.6 1034.6,1975.5 1029.5,2182.6 1024.3,1991.1 1019.1,1995.9 1013.9,2016.4 1008.7,2112.8 1003.6,1982.7 998.4,2051.4 993.2,2021.2 988,1964.6 982.8,1995.9 977.6,2028.5 972.5,1959.8 967.3,2030.9 962.1,1993.5 956.9,1975.5 951.7,2039.3 946.5,1970.6 941.4,1969.4 936.2,1982.7 931,2021.2 925.8,2033.3 920.6,2087.5 915.5,1964.2 910.3,2182.6 905.1,2042.8 899.9,1935.6 894.7,2024.1 889.5,1906.9 884.4,1961.8 879.2,2014.1 874,2037.8 868.8,2040.3 863.6,1915.6 858.5,1918.1 853.3,1921.9 848.1,1935.6 842.9,1961.8 837.7,1933.1 832.5,1984.2 827.4,1980.4 822.2,1956.8 817,1978 811.8,1953 806.6,1959.3 801.5,1961.8 796.3,1948 791.1,1956.8 785.9,1951.8 780.7,1974.2 775.5,1978 770.4,2045.3 765.2,2063.9 760,1985.4 754.8,2056.5 749.6,2000.4 744.5,2004.1 739.3,2012.9 734.1,2006.6 728.9,2007.9 723.7,2026.6 718.5,2009.1 713.4,2009.1 708.2,2010.4 703,2066.4 697.8,2062.7 692.6,2260.9 687.5,2136.2 682.3,2123.8 677.1,2167.4 671.9,2049 666.7,2090.1 661.5,2081.4 656.4,2051.5 651.2,2264.6 646,2096.4 640.8,2202.3 635.6,2085.1 630.4,2245.9 625.3,2086.4 620.1,2077.7 614.9,2091.4 609.7,2158.7 604.5,2102.6 599.4,2101.1 594.2,2116.9 589,2099.4 583.8,2130.6 578.6,2191.2 573.4,2191.7 568.3,2168.4 563.1,2139.9 557.9,2179.6 552.7,2137.9 547.5,2137.2 542.4,2112.6 537.2,2189.4 532,2176 526.8,2152.1 521.6,2194.6 516.4,2149.6 511.3,2171.5 506.1,2152.5 500.9,2207.7 495.7,2172.4 490.5,2189.4 485.4,2185.6 480.2,2137.2 475,2136.4 469.8,2164.9 464.6,2189.8 459.4,2174.2 454.3,2213.1 449.1,2216.7 443.9,2210.2 438.7,2216.2 433.5,2218.2 428.4,2211.1 423.2,2223.8 418,2222.8 412.8,2218.2 407.6,2194.6 402.4,2220.7 397.3,2215.2 392.1,2200.8 386.9,2216.2 381.7,2214.7 376.5,2208.7 371.3,2189.9 355.8,2165.4 350.6,2216.2 345.4,2220.7 340.3,2225.9 335.1,2220.7 329.9,2203.7 324.7,2220.7 319.5,2224.3 314.3,2215.2 309.2,2226.4 304,2225.9 298.8,2223.8" fill="rgba(0,230,0,0.30)" stroke="none"/>
<polyline points="298.8,2159 304,2161.4 309.2,2162 314.3,2149.1 319.5,2159.6 324.7,2155.5 329.9,2135.9 335.1,2155.5 340.3,2161.4 345.4,2155.5 350.6,2150.2 355.8,2154.6 371.3,2152.5 376.5,2141.6 381.7,2148.5 386.9,2150.2 392.1,2132.6 397.3,2149.1 402.4,2155.5 407.6,2125.4 412.8,2152.6 418,2157.9 423.2,2159 428.4,2144.5 433.5,2152.6 438.7,2150.2 443.9,2143.3 449.1,2150.8 454.3,2146.8 459.4,2102 464.6,2119.9 469.8,2091.3 475,2058.4 480.2,2059.3 485.4,2115.1 490.5,2119.4 495.7,2099.9 500.9,2140.5 506.1,2077 511.3,2098.9 516.4,2073.7 521.6,2125.4 526.8,2076.6 532,2104 537.2,2119.4 542.4,2031.1 547.5,2059.3 552.7,2060.2 557.9,2108.2 563.1,2062.5 568.3,2095.3 573.4,2122.1 578.6,2121.6 583.8,2051.8 589,2015.9 594.2,2036 599.4,2017.8 604.5,1945.2 609.7,2014.2 614.9,1931.4 620.1,1914.5 625.3,1925.2 630.4,2121.5 635.6,1923.7 640.8,2067.9 646,1937.5 651.2,2144.6 656.4,1882.3 661.5,1919.1 666.7,1929.8 671.9,1879.2 677.1,2024.9 682.3,1971.2 687.5,1986.6 692.6,2140 697.8,1896.1 703,1900.7 708.2,1831.7 713.4,1830.1 718.5,1830.1 723.7,1851.6 728.9,1828.6 734.1,1827.1 739.3,1834.7 744.5,1824 749.6,1819.4 754.8,1888.4 760,1801 765.2,1897.6 770.4,1874.6 775.5,1791.8 780.7,1787.2 785.9,1759.6 791.1,1765.7 796.3,1755 801.5,1771.8 806.6,1768.8 811.8,1761.1 817,1791.8 822.2,1765.7 827.4,1794.8 832.5,1799.4 837.7,1736.6 842.9,1771.8 848.1,1739.6 853.3,1722.8 858.5,1718.1 863.6,1715.1 868.8,1868.5 874,1865.4 879.2,1836.3 884.4,1771.8 889.5,1704.3 894.7,1848.5 899.9,1739.6 905.1,1871.5 910.3,2084 915.5,1774.9 920.6,1911.1 925.8,1841.2 931,1825.6 936.2,1775.9 941.4,1758.8 946.5,1760.3 951.7,1848.9 956.9,1766.6 962.1,1789.9 967.3,1838.1 972.5,1746.4 977.6,1835 982.8,1793 988,1752.6 993.2,1825.6 998.4,1864.5 1003.6,1775.9 1008.7,1943.8 1013.9,1819.4 1019.1,1793 1024.3,1786.8 1029.5,2084 1034.6,1766.6 1039.8,1805.4 1045,1943.8 1050.2,1822.5 1055.4,1817.9 1060.6,1721.5 1065.7,1713.7 1070.9,1724.6 1076.1,1772.8 1081.3,1805.4 1086.5,1812.2 1091.6,1877.4 1096.8,2242.1 1102,1960.6 1107.2,1852.8 1112.4,1954.3 1117.6,1781.2 1122.7,1786.5 1127.9,1974.7 1133.1,2219.9 1138.3,2000 1143.5,1862.9 1148.6,2066.5 1153.8,1769.3 1159,1789.2 1164.2,1781.2 1169.4,1852.8 1174.6,1943.5 1179.7,1804 1184.9,1812.2 1190.1,1768 1195.3,1769.3 1200.5,1768 1205.7,1769.3 1210.8,1771.9 1216,1937.3 1221.2,1908.5 1226.4,1920.5 1231.6,1943.5 1236.7,1815 1241.9,1928.1 1247.1,1990.6 1252.3,2204.1 1257.5,1911.5 1262.7,1812.2 1267.8,1957.5 1273,1753.7 1278.2,2036.4 1283.4,1946.6 1288.6,1758.8 1293.7,1744.7 1298.9,1761.4 1304.1,2079.1 1309.3,1889.1 1314.5,1756.2 1319.7,1806.8 1324.8,1813.6 1330,1877.4 1335.2,1766.6 1340.4,1845.7 1345.6,1817.7 1350.7,2069.6 1355.9,1855.7 1361.1,1957.5 1366.3,1833 1371.5,1993.7 1376.7,1823.3 1381.8,2036.4 1387,1799.9 1392.2,1798.6 1397.4,1817.7 1402.6,1815 1407.7,1812.2 1412.9,1804 1418.1,1850 1423.3,1797.2 1428.5,1771.9 1433.7,1826.1 1438.8,1804 1444,1794.5 1449.2,1789.2 1454.4,1794.5 1459.6,1804 1464.8,1823.3 1469.9,1794.5 1475.1,1804 1480.3,2125 1485.5,1826.1 1490.7,1828.8 1495.8,1971.6 1501,1940.4 1506.2,1890.6 1511.4,1911.5 1516.6,1949.7 1521.8,2009.5 1526.9,1951.2 1532.1,1917.5 1537.3,2077.6 1542.5,2064.9 1547.7,1878.9 1552.8,1938.9 1558,1914.1 1563.2,1934 1568.4,2118.9 1573.6,1986.6 1578.8,1965.1 1583.9,2008.2 1589.1,1953.8 1594.3,2017.3 1599.5,2092.6 1604.7,1965.1 1609.8,1973 1615,2032 1620.2,1988.9 1625.4,1958.3 1630.6,1967.4 1635.8,2100.6 1640.9,1956 1646.1,1949.2 1651.3,1993.5 1656.5,1959.4 1661.7,1964 1666.8,1973 1672,2003.7 1677.2,2012.7 1682.4,2041.1 1687.6,2092.6 1692.8,2124.8 1697.9,2127.5 1703.1,2104 1708.3,2070.6 1713.5,2029.7 1718.7,2106.7 1723.9,2116.1 1729,2051.3 1734.2,2047.9 1739.4,2096.6 1744.6,2081.9 1749.8,2140.3 1754.9,2046.7 1760.1,2102 1765.3,2053.6 1770.5,2075.1 1775.7,2036.5 1780.9,2054.7 1786,2062.6 1791.2,2032 1796.4,2027.5 1801.6,2081.9 1806.8,2089.8 1811.9,2128.9 1817.1,2144.3 1822.3,2068.3 1827.5,2077.4 1832.7,2093.9 1837.9,2136.2 1843,2122.1 1848.2,2084.2 1853.4,2089 1858.6,2100.4 1863.8,2140.7 1868.9,2133.8 1874.1,2103.9 1879.3,2128.6 1884.5,2084.1 1889.7,2093 1894.9,2132.2 1900,2131.5 1905.2,2083 1910.4,2090.7 1915.6,2139.4 1920.8,2147.2 1925.9,2144.8 1931.1,2131.1 1936.3,2101.1 1941.5,2135.6 1946.7,2106.9 1951.9,2136.7 1957,2143.7 1962.2,2131.1 1967.4,2126.7 1972.6,2110 1977.8,2147.6 1983,2114.3 1988.1,2111.7 1993.3,2134.2 1998.5,2113.4 2003.7,2114.3 2008.9,2120.7 2014,2138.3 2019.2,2137.1 2024.4,2146.9 2029.6,2159 2034.8,2159.7 2040,2163.9 2045.1,2151.3 2050.3,2158 2055.5,2161.8 2060.7,2161.1 2065.9,2147.8 2071,2162.8 2076.2,2161.1 2081.4,2159.7 2086.6,2162.8 2091.8,2160.4 2097,2159 2102.1,2162.5 2107.3,2148.4 2112.5,2159.7 2117.7,2149.1 2122.9,2144.3 2128,2153 2133.2,2152 2138.4,2153.3 2143.6,2158 2148.8,2154.6 2154,2141.5 2159.1,2158 2164.3,2163.5 2169.5,2158.7 2174.7,2159.3 2179.9,2158 2185,2159.3" fill="none" stroke="#12e012" stroke-width="1.95" stroke-dasharray="7 7.4" stroke-linejoin="round"/>
<polyline points="298.8,2223.8 304,2225.9 309.2,2226.4 314.3,2215.2 319.5,2224.3 324.7,2220.7 329.9,2203.7 335.1,2220.7 340.3,2225.9 345.4,2220.7 350.6,2216.2 355.8,2165.4 371.3,2189.9 376.5,2208.7 381.7,2214.7 386.9,2216.2 392.1,2200.8 397.3,2215.2 402.4,2220.7 407.6,2194.6 412.8,2218.2 418,2222.8 423.2,2223.8 428.4,2211.1 433.5,2218.2 438.7,2216.2 443.9,2210.2 449.1,2216.7 454.3,2213.1 459.4,2174.2 464.6,2189.8 469.8,2164.9 475,2136.4 480.2,2137.2 485.4,2185.6 490.5,2189.4 495.7,2172.4 500.9,2207.7 506.1,2152.5 511.3,2171.5 516.4,2149.6 521.6,2194.6 526.8,2152.1 532,2176 537.2,2189.4 542.4,2112.6 547.5,2137.2 552.7,2137.9 557.9,2179.6 563.1,2139.9 568.3,2168.4 573.4,2191.7 578.6,2191.2 583.8,2130.6 589,2099.4 594.2,2116.9 599.4,2101.1 604.5,2102.6 609.7,2158.7 614.9,2091.4 620.1,2077.7 625.3,2086.4 630.4,2245.9 635.6,2085.1 640.8,2202.3 646,2096.4 651.2,2264.6 656.4,2051.5 661.5,2081.4 666.7,2090.1 671.9,2049 677.1,2167.4 682.3,2123.8 687.5,2136.2 692.6,2260.9 697.8,2062.7 703,2066.4 708.2,2010.4 713.4,2009.1 718.5,2009.1 723.7,2026.6 728.9,2007.9 734.1,2006.6 739.3,2012.9 744.5,2004.1 749.6,2000.4 754.8,2056.5 760,1985.4 765.2,2063.9 770.4,2045.3 775.5,1978 780.7,1974.2 785.9,1951.8 791.1,1956.8 796.3,1948 801.5,1961.8 806.6,1959.3 811.8,1953 817,1978 822.2,1956.8 827.4,1980.4 832.5,1984.2 837.7,1933.1 842.9,1961.8 848.1,1935.6 853.3,1921.9 858.5,1918.1 863.6,1915.6 868.8,2040.3 874,2037.8 879.2,2014.1 884.4,1961.8 889.5,1906.9 894.7,2024.1 899.9,1935.6 905.1,2042.8 910.3,2182.6 915.5,1964.2 920.6,2087.5 925.8,2033.3 931,2021.2 936.2,1982.7 941.4,1969.4 946.5,1970.6 951.7,2039.3 956.9,1975.5 962.1,1993.5 967.3,2030.9 972.5,1959.8 977.6,2028.5 982.8,1995.9 988,1964.6 993.2,2021.2 998.4,2051.4 1003.6,1982.7 1008.7,2112.8 1013.9,2016.4 1019.1,1995.9 1024.3,1991.1 1029.5,2182.6 1034.6,1975.5 1039.8,2005.6 1045,2112.8 1050.2,2018.8 1055.4,2015.2 1060.6,1940.5 1065.7,1934.5 1070.9,1942.9 1076.1,1980.3 1081.3,1874 1086.5,1880.2 1091.6,1939.3 1096.8,2270.1 1102,2014.8 1107.2,1917 1112.4,2009.1 1117.6,1852 1122.7,1856.8 1127.9,2027.6 1133.1,2250 1138.3,2050.6 1143.5,1926.1 1148.6,2110.8 1153.8,1841.2 1159,1859.3 1164.2,1852 1169.4,1917 1174.6,1999.3 1179.7,1872.8 1184.9,1880.2 1190.1,1840 1195.3,1841.2 1200.5,1840 1205.7,1841.2 1210.8,1843.6 1216,1993.7 1221.2,1967.5 1226.4,1978.4 1231.6,1999.3 1236.7,1882.7 1241.9,1985.3 1247.1,2042 1252.3,2235.7 1257.5,1970.2 1262.7,1880.2 1267.8,2011.9 1273,1827.1 1278.2,2083.6 1283.4,2002.1 1288.6,1831.8 1293.7,1818.9 1298.9,1834.1 1304.1,2122.3 1309.3,1950 1314.5,1829.4 1319.7,1875.2 1324.8,1881.4 1330,1939.3 1335.2,1838.8 1340.4,1910.6 1345.6,1885.2 1350.7,2113.7 1355.9,1919.6 1361.1,2011.9 1366.3,1899.1 1371.5,2044.8 1376.7,1890.2 1381.8,2083.6 1387,1869.1 1392.2,1867.8 1397.4,1885.2 1402.6,1882.7 1407.7,1880.2 1412.9,1872.8 1418.1,1914.5 1423.3,1866.6 1428.5,1843.6 1433.7,1892.7 1438.8,1872.8 1444,1864.1 1449.2,1859.3 1454.4,1864.1 1459.6,1872.8 1464.8,1890.2 1469.9,1864.1 1475.1,1872.8 1480.3,2163.9 1485.5,1892.7 1490.7,1895.3 1495.8,2024.7 1501,1996.5 1506.2,1951.3 1511.4,1970.2 1516.6,2004.9 1521.8,2059.2 1526.9,2006.3 1532.1,1975.7 1537.3,2120.9 1542.5,2109.4 1547.7,1940.6 1552.8,1995.1 1558,2014.2 1563.2,2031.9 1568.4,2225.5 1573.6,2078.7 1578.8,2059.5 1583.9,2097.8 1589.1,2049.4 1594.3,2105.9 1599.5,2176.2 1604.7,2059.5 1609.8,2066.6 1615,2119 1620.2,2080.7 1625.4,2053.5 1630.6,2061.5 1635.8,2191.3 1640.9,2051.5 1646.1,2045.4 1651.3,2084.7 1656.5,2054.5 1661.7,2058.5 1666.8,2066.6 1672,2093.8 1677.2,2101.9 1682.4,2127 1687.6,2176.2 1692.8,2236.7 1697.9,2241.7 1703.1,2197.6 1708.3,2153.3 1713.5,2117 1718.7,2202.7 1723.9,2220.3 1729,2136.1 1734.2,2133.1 1739.4,2183.8 1744.6,2163.3 1749.8,2265.7 1754.9,2132.1 1760.1,2193.9 1765.3,2138.1 1770.5,2157.3 1775.7,2123 1780.9,2139.1 1786,2146.2 1791.2,2119 1796.4,2115 1801.6,2163.3 1806.8,2171.2 1811.9,2244.3 1817.1,2273.2 1822.3,2151.2 1827.5,2159.3 1832.7,2178.7 1837.9,2258.1 1843,2231.7 1848.2,2165.4 1853.4,2170.3 1858.6,2190.9 1863.8,2266.4 1868.9,2253.6 1874.1,2197.5 1879.3,2243.9 1884.5,2165.3 1889.7,2177 1894.9,2250.6 1900,2249.2 1905.2,2164.3 1910.4,2172.7 1915.6,2264 1920.8,2278.7 1925.9,2274.2 1931.1,2248.5 1936.3,2192.1 1941.5,2256.9 1946.7,2203.2 1951.9,2259 1957,2272.2 1962.2,2248.5 1967.4,2240.2 1972.6,2208.9 1977.8,2279.4 1983,2217 1988.1,2212.1 1993.3,2254.2 1998.5,2215.4 2003.7,2217 2008.9,2229 2014,2262 2019.2,2259.6 2024.4,2278 2029.6,2223.8 2034.8,2224.4 2040,2228 2045.1,2217.1 2050.3,2222.9 2055.5,2226.2 2060.7,2225.6 2065.9,2214 2071,2227.1 2076.2,2225.6 2081.4,2224.4 2086.6,2227.1 2091.8,2225 2097,2223.8 2102.1,2226.8 2107.3,2214.6 2112.5,2224.4 2117.7,2215.1 2122.9,2211 2128,2218.5 2133.2,2217.7 2138.4,2218.8 2143.6,2222.9 2148.8,2220 2154,2208.6 2159.1,2222.9 2164.3,2227.7 2169.5,2223.5 2174.7,2224.1 2179.9,2222.9 2185,2224.1" fill="none" stroke="#12e012" stroke-width="1.95" stroke-dasharray="7 7.4" stroke-linejoin="round"/>
<polyline points="298.8,2191.4 304,2193.7 309.2,2194.2 314.3,2182.1 319.5,2192 324.7,2188.1 329.9,2169.8 335.1,2188.1 340.3,2193.7 345.4,2188.1 350.6,2183.2 355.8,2162.9 371.3,2170.1 376.5,2175.1 381.7,2181.6 386.9,2183.2 392.1,2166.7 397.3,2182.1 402.4,2188.1 407.6,2160 412.8,2185.4 418,2190.3 423.2,2191.4 428.4,2177.8 433.5,2185.4 438.7,2183.2 443.9,2176.7 449.1,2183.8 454.3,2180 459.4,2138.1 464.6,2154.9 469.8,2128.1 475,2097.4 480.2,2098.2 485.4,2150.4 490.5,2154.4 495.7,2136.1 500.9,2174.1 506.1,2114.8 511.3,2135.2 516.4,2111.7 521.6,2160 526.8,2114.3 532,2140 537.2,2154.4 542.4,2071.9 547.5,2098.2 552.7,2099.1 557.9,2143.9 563.1,2101.2 568.3,2131.9 573.4,2156.9 578.6,2156.4 583.8,2091.2 589,2057.7 594.2,2076.4 599.4,2059.5 604.5,2022.4 609.7,2084 614.9,2010.1 620.1,1995 625.3,2004.6 630.4,2179.9 635.6,2003.2 640.8,2132 646,2015.5 651.2,2200.4 656.4,1966.2 661.5,1999.1 666.7,2008.7 671.9,1963.5 677.1,2093.6 682.3,2045.7 687.5,2059.4 692.6,2196.3 697.8,1978.6 703,1982.7 708.2,1921.1 713.4,1919.7 718.5,1919.7 723.7,1938.9 728.9,1918.3 734.1,1916.9 739.3,1923.8 744.5,1914.2 749.6,1910.1 754.8,1971.7 760,1893.7 765.2,1979.9 770.4,1959.4 775.5,1885.4 780.7,1881.3 785.9,1856.7 791.1,1862.2 796.3,1852.6 801.5,1867.6 806.6,1864.9 811.8,1858.1 817,1885.4 822.2,1862.2 827.4,1888.2 832.5,1892.3 837.7,1836.1 842.9,1867.6 848.1,1838.9 853.3,1823.8 858.5,1819.7 863.6,1817 868.8,1953.9 874,1951.2 879.2,1925.2 884.4,1867.6 889.5,1807.4 894.7,1936.1 899.9,1838.9 905.1,1956.7 910.3,2141.5 915.5,1870.4 920.6,1997.7 925.8,1936.1 931,1922.4 936.2,1878.6 941.4,1863.5 946.5,1864.9 951.7,1943 956.9,1870.4 962.1,1890.9 967.3,1933.4 972.5,1852.6 977.6,1930.6 982.8,1893.7 988,1858.1 993.2,1922.4 998.4,1956.7 1003.6,1878.6 1008.7,2026.5 1013.9,1916.9 1019.1,1893.7 1024.3,1888.2 1029.5,2141.5 1034.6,1870.4 1039.8,1904.6 1045,2026.5 1050.2,1919.7 1055.4,1915.6 1060.6,1830.7 1065.7,1823.8 1070.9,1833.4 1076.1,1875.9 1081.3,1840.6 1086.5,1847.1 1091.6,1909.1 1096.8,2256.4 1102,1988.4 1107.2,1885.8 1112.4,1982.4 1117.6,1817.5 1122.7,1822.6 1127.9,2001.9 1133.1,2235.4 1138.3,2026 1143.5,1895.3 1148.6,2089.2 1153.8,1806.2 1159,1825.1 1164.2,1817.5 1169.4,1885.8 1174.6,1972.1 1179.7,1839.3 1184.9,1847.1 1190.1,1804.9 1195.3,1806.2 1200.5,1804.9 1205.7,1806.2 1210.8,1808.7 1216,1966.2 1221.2,1938.7 1226.4,1950.2 1231.6,1972.1 1236.7,1849.7 1241.9,1957.5 1247.1,2016.9 1252.3,2220.3 1257.5,1941.6 1262.7,1847.1 1267.8,1985.4 1273,1791.3 1278.2,2060.6 1283.4,1975 1288.6,1796.2 1293.7,1782.7 1298.9,1798.7 1304.1,2101.3 1309.3,1920.3 1314.5,1793.8 1319.7,1841.9 1324.8,1848.4 1330,1909.1 1335.2,1803.7 1340.4,1879 1345.6,1852.3 1350.7,2092.2 1355.9,1888.5 1361.1,1985.4 1366.3,1866.9 1371.5,2019.9 1376.7,1857.6 1381.8,2060.6 1387,1835.4 1392.2,1834.1 1397.4,1852.3 1402.6,1849.7 1407.7,1847.1 1412.9,1839.3 1418.1,1883 1423.3,1832.8 1428.5,1808.7 1433.7,1860.2 1438.8,1839.3 1444,1830.2 1449.2,1825.1 1454.4,1830.2 1459.6,1839.3 1464.8,1857.6 1469.9,1830.2 1475.1,1839.3 1480.3,2145 1485.5,1860.2 1490.7,1862.9 1495.8,1998.8 1501,1969.2 1506.2,1921.7 1511.4,1941.6 1516.6,1978 1521.8,2035 1526.9,1979.5 1532.1,1947.4 1537.3,2099.8 1542.5,2087.7 1547.7,1910.5 1552.8,1967.7 1558,1962.5 1563.2,1980.9 1568.4,2170.5 1573.6,2029.7 1578.8,2009.7 1583.9,2049.6 1589.1,1999.2 1594.3,2058 1599.5,2129.4 1604.7,2009.7 1609.8,2017.1 1615,2071.7 1620.2,2031.8 1625.4,2003.4 1630.6,2011.8 1635.8,2142 1640.9,2001.3 1646.1,1995 1651.3,2036 1656.5,2004.5 1661.7,2008.7 1666.8,2017.1 1672,2045.4 1677.2,2053.8 1682.4,2080.1 1687.6,2129.4 1692.8,2179.8 1697.9,2184 1703.1,2147.3 1708.3,2107.4 1713.5,2069.6 1718.7,2151.5 1723.9,2166.1 1729,2089.5 1734.2,2086.4 1739.4,2135.7 1744.6,2117.9 1749.8,2203.9 1754.9,2085.3 1760.1,2144.1 1765.3,2091.6 1770.5,2111.6 1775.7,2075.9 1780.9,2092.7 1786,2100 1791.2,2071.7 1796.4,2067.5 1801.6,2117.9 1806.8,2125.2 1811.9,2186.1 1817.1,2210.2 1822.3,2105.3 1827.5,2113.7 1832.7,2131.5 1837.9,2197.6 1843,2175.6 1848.2,2120 1853.4,2124.4 1858.6,2141.6 1863.8,2204.5 1868.9,2193.9 1874.1,2147.1 1879.3,2185.8 1884.5,2119.9 1889.7,2130 1894.9,2191.3 1900,2190.2 1905.2,2118.9 1910.4,2126.5 1915.6,2202.6 1920.8,2214.8 1925.9,2211.1 1931.1,2189.7 1936.3,2142.7 1941.5,2196.7 1946.7,2151.9 1951.9,2198.3 1957,2209.4 1962.2,2189.7 1967.4,2182.7 1972.6,2156.7 1977.8,2215.4 1983,2163.4 1988.1,2159.3 1993.3,2194.4 1998.5,2162 2003.7,2163.4 2008.9,2173.4 2014,2200.9 2019.2,2198.9 2024.4,2214.2 2029.6,2191.4 2034.8,2192 2040,2195.9 2045.1,2184.2 2050.3,2190.4 2055.5,2194 2060.7,2193.3 2065.9,2180.9 2071,2195 2076.2,2193.3 2081.4,2192 2086.6,2195 2091.8,2192.7 2097,2191.4 2102.1,2194.6 2107.3,2181.5 2112.5,2192 2117.7,2182.1 2122.9,2177.7 2128,2185.7 2133.2,2184.8 2138.4,2186 2143.6,2190.4 2148.8,2187.3 2154,2175.1 2159.1,2190.4 2164.3,2195.6 2169.5,2191.1 2174.7,2191.7 2179.9,2190.4 2185,2191.7" fill="none" stroke="#129c12" stroke-width="1.85" stroke-linejoin="round"/>
<polygon points="298.8,2155 304,2155.9 309.2,2156.1 314.3,2151.2 319.5,2155.2 324.7,2153.6 329.9,2146.3 335.1,2153.6 340.3,2155.9 345.4,2153.6 350.6,2151.7 355.8,2152.9 371.3,2152.5 376.5,2148.4 381.7,2151 386.9,2151.7 392.1,2145 397.3,2151.2 402.4,2153.6 407.6,2142.3 412.8,2152.5 418,2154.5 423.2,2155 428.4,2149.5 433.5,2152.5 438.7,2151.7 443.9,2149.1 449.1,2151.9 454.3,2150.3 459.4,2133.5 464.6,2140.3 469.8,2129.5 475,2117.1 480.2,2117.5 485.4,2138.4 490.5,2140.1 495.7,2132.7 500.9,2148 506.1,2124.1 511.3,2132.3 516.4,2122.9 521.6,2142.3 526.8,2124 532,2134.3 537.2,2140.1 542.4,2106.9 547.5,2117.5 552.7,2117.8 557.9,2135.8 563.1,2118.7 568.3,2131 573.4,2141.1 578.6,2140.9 583.8,2114.6 589,2101.2 594.2,2108.7 599.4,2101.9 604.5,2077.1 609.7,2102.2 614.9,2072.1 620.1,2065.9 625.3,2069.9 630.4,2141.2 635.6,2069.3 640.8,2121.7 646,2074.3 651.2,2149.6 656.4,2054.2 661.5,2067.6 666.7,2071.5 671.9,2053.1 677.1,2106.1 682.3,2086.6 687.5,2092.2 692.6,2147.9 697.8,2059.3 703,2060.9 708.2,2035.8 713.4,2035.3 718.5,2035.3 723.7,2043.1 728.9,2034.7 734.1,2034.2 739.3,2036.9 744.5,2033 749.6,2031.4 754.8,2056.5 760,2024.7 765.2,2059.8 770.4,2051.4 775.5,2021.3 780.7,2019.7 785.9,2009.6 791.1,2011.8 796.3,2007.9 801.5,2014.1 806.6,2013 811.8,2010.2 817,2021.3 822.2,2011.8 827.4,2022.4 832.5,2024.1 837.7,2001.2 842.9,2014.1 848.1,2002.4 853.3,1996.2 858.5,1994.6 863.6,1993.4 868.8,2049.2 874,2048.1 879.2,2037.5 884.4,2014.1 889.5,1989.5 894.7,2042 899.9,2002.4 905.1,2050.3 910.3,2127.6 915.5,2015.2 920.6,2064.7 925.8,2039.3 931,2033.6 936.2,2015.5 941.4,2009.3 946.5,2009.9 951.7,2042.1 956.9,2012.2 962.1,2020.6 967.3,2038.2 972.5,2004.8 977.6,2037 982.8,2021.8 988,2007.1 993.2,2033.6 998.4,2047.8 1003.6,2015.5 1008.7,2076.6 1013.9,2031.4 1019.1,2021.8 1024.3,2019.5 1029.5,2127.6 1034.6,2012.2 1039.8,2026.3 1045,2076.6 1050.2,2032.5 1055.4,2030.8 1060.6,1995.8 1065.7,1992.9 1070.9,1996.9 1076.1,2014.4 1081.3,2027.2 1086.5,2029.7 1091.6,2053.2 1096.8,2184.8 1102,2083.2 1107.2,2044.4 1112.4,2081 1117.6,2018.5 1122.7,2020.4 1127.9,2088.3 1133.1,2176.8 1138.3,2097.5 1143.5,2048 1148.6,2121.5 1153.8,2014.2 1159,2021.4 1164.2,2018.5 1169.4,2044.4 1174.6,2077.1 1179.7,2026.7 1184.9,2029.7 1190.1,2013.7 1195.3,2014.2 1200.5,2013.7 1205.7,2014.2 1210.8,2015.1 1216,2074.8 1221.2,2064.4 1226.4,2068.8 1231.6,2077.1 1236.7,2030.7 1241.9,2071.5 1247.1,2094.1 1252.3,2171.1 1257.5,2065.5 1262.7,2029.7 1267.8,2082.1 1273,2008.6 1278.2,2110.6 1283.4,2078.2 1288.6,2010.4 1293.7,2005.3 1298.9,2011.4 1304.1,2126 1309.3,2057.5 1314.5,2009.5 1319.7,2027.7 1324.8,2030.2 1330,2053.2 1335.2,2013.3 1340.4,2041.8 1345.6,2031.7 1350.7,2122.6 1355.9,2045.4 1361.1,2082.1 1366.3,2037.2 1371.5,2095.2 1376.7,2033.7 1381.8,2110.6 1387,2025.3 1392.2,2024.8 1397.4,2031.7 1402.6,2030.7 1407.7,2029.7 1412.9,2026.7 1418.1,2043.3 1423.3,2024.3 1428.5,2015.1 1433.7,2034.7 1438.8,2026.7 1444,2023.3 1449.2,2021.4 1454.4,2023.3 1459.6,2026.7 1464.8,2033.7 1469.9,2023.3 1475.1,2026.7 1480.3,2142.6 1485.5,2034.7 1490.7,2035.7 1495.8,2087.2 1501,2076 1506.2,2058 1511.4,2065.5 1516.6,2079.3 1521.8,2100.9 1526.9,2079.9 1532.1,2067.7 1537.3,2125.5 1542.5,2120.9 1547.7,2053.7 1552.8,2075.4 1558,2063 1563.2,2070.5 1568.4,2139.9 1573.6,2090.2 1578.8,2082.1 1583.9,2098.3 1589.1,2077.9 1594.3,2101.7 1599.5,2130 1604.7,2082.1 1609.8,2085.1 1615,2107.3 1620.2,2091.1 1625.4,2079.6 1630.6,2083 1635.8,2133 1640.9,2078.7 1646.1,2076.2 1651.3,2092.8 1656.5,2080 1661.7,2081.7 1666.8,2085.1 1672,2096.6 1677.2,2100 1682.4,2110.7 1687.6,2130 1692.8,2142.1 1697.9,2143.1 1703.1,2134.3 1708.3,2121.7 1713.5,2106.4 1718.7,2135.3 1723.9,2138.8 1729,2114.5 1734.2,2113.2 1739.4,2131.5 1744.6,2126 1749.8,2147.9 1754.9,2112.8 1760.1,2133.5 1765.3,2115.3 1770.5,2123.4 1775.7,2109 1780.9,2115.8 1786,2118.8 1791.2,2107.3 1796.4,2105.6 1801.6,2126 1806.8,2129 1811.9,2143.6 1817.1,2149.4 1822.3,2120.9 1827.5,2124.3 1832.7,2130.5 1837.9,2146.4 1843,2141.1 1848.2,2126.8 1853.4,2128.7 1858.6,2132.9 1863.8,2148.1 1868.9,2145.5 1874.1,2134.3 1879.3,2143.5 1884.5,2126.8 1889.7,2130.1 1894.9,2144.9 1900,2144.6 1905.2,2126.4 1910.4,2129.3 1915.6,2147.6 1920.8,2150.5 1925.9,2149.6 1931.1,2144.5 1936.3,2133.2 1941.5,2146.2 1946.7,2135.4 1951.9,2146.6 1957,2149.2 1962.2,2144.5 1967.4,2142.8 1972.6,2136.5 1977.8,2150.7 1983,2138.2 1988.1,2137.2 1993.3,2145.6 1998.5,2137.8 2003.7,2138.2 2008.9,2140.6 2014,2147.2 2019.2,2146.7 2024.4,2150.4 2029.6,2154.9 2034.8,2155.2 2040,2156.8 2045.1,2152.1 2050.3,2154.6 2055.5,2156 2060.7,2155.7 2065.9,2150.7 2071,2156.4 2076.2,2155.7 2081.4,2155.2 2086.6,2156.4 2091.8,2155.5 2097,2154.9 2102.1,2156.2 2107.3,2151 2112.5,2155.2 2117.7,2151.2 2122.9,2149.4 2128,2152.7 2133.2,2152.3 2138.4,2152.8 2143.6,2154.6 2148.8,2153.3 2154,2148.4 2159.1,2154.6 2164.3,2156.6 2169.5,2154.8 2174.7,2155.1 2179.9,2154.6 2185,2155.1 2185,2179.4 2179.9,2179 2174.7,2179.4 2169.5,2179.2 2164.3,2180.8 2159.1,2179 2154,2173.6 2148.8,2177.9 2143.6,2179 2138.4,2177.4 2133.2,2177 2128,2177.3 2122.9,2174.5 2117.7,2176 2112.5,2179.5 2107.3,2175.8 2102.1,2180.4 2097,2179.3 2091.8,2179.7 2086.6,2180.5 2081.4,2179.5 2076.2,2180 2071,2180.5 2065.9,2175.6 2060.7,2180 2055.5,2180.2 2050.3,2179 2045.1,2176.8 2040,2180.9 2034.8,2179.5 2029.6,2179.3 2024.4,2199.6 2019.2,2192.7 2014,2193.6 2008.9,2181.2 2003.7,2176.7 1998.5,2176.1 1993.3,2190.7 1988.1,2174.9 1983,2176.7 1977.8,2200.1 1972.6,2173.7 1967.4,2185.4 1962.2,2188.6 1957,2197.4 1951.9,2192.5 1946.7,2171.5 1941.5,2191.7 1936.3,2167.4 1931.1,2188.6 1925.9,2198.2 1920.8,2199.9 1915.6,2194.4 1910.4,2160.1 1905.2,2156.9 1900,2188.8 1894.9,2189.3 1889.7,2161.7 1884.5,2157.3 1879.3,2186.8 1874.1,2169.4 1868.9,2190.5 1863.8,2195.3 1858.6,2166.9 1853.4,2159.2 1848.2,2157.3 1843,2182.2 1837.9,2192.2 1832.7,2162.4 1827.5,2155.1 1822.3,2152 1817.1,2197.8 1811.9,2187 1806.8,2159.5 1801.6,2156.6 1796.4,2138.4 1791.2,2139.9 1786,2150.1 1780.9,2147.5 1775.7,2141.4 1770.5,2154.3 1765.3,2147.1 1760.1,2168 1754.9,2144.8 1749.8,2195 1744.6,2156.6 1739.4,2164.2 1734.2,2145.2 1729,2146.3 1723.9,2178 1718.7,2171.3 1713.5,2139.2 1708.3,2152.8 1703.1,2169.5 1697.9,2186 1692.8,2184.1 1687.6,2161.4 1682.4,2142.9 1677.2,2133.5 1672,2130.5 1666.8,2120.2 1661.7,2117.2 1656.5,2115.7 1651.3,2127 1646.1,2112.3 1640.9,2114.6 1635.8,2167.1 1630.6,2118.3 1625.4,2115.3 1620.2,2125.5 1615,2139.9 1609.8,2120.2 1604.7,2117.6 1599.5,2161.4 1594.3,2135 1589.1,2113.8 1583.9,2132 1578.8,2117.6 1573.6,2124.8 1568.4,2179.9 1563.2,2107.2 1558,2100.6 1552.8,2095.7 1547.7,2076 1542.5,2136.9 1537.3,2141.1 1532.1,2088.7 1526.9,2099.7 1521.8,2118.8 1516.6,2099.2 1511.4,2086.7 1506.2,2079.9 1501,2096.2 1495.8,2106.4 1490.7,2059.7 1485.5,2058.8 1480.3,2156.6 1475.1,2051.5 1469.9,2048.4 1464.8,2057.8 1459.6,2051.5 1454.4,2048.4 1449.2,2046.7 1444,2048.4 1438.8,2051.5 1433.7,2058.8 1428.5,2041 1423.3,2049.3 1418.1,2066.6 1412.9,2051.5 1407.7,2054.2 1402.6,2055.1 1397.4,2056 1392.2,2049.8 1387,2050.2 1381.8,2127.6 1376.7,2057.8 1371.5,2113.6 1366.3,2061 1361.1,2101.8 1355.9,2068.5 1350.7,2138.5 1345.6,2056 1340.4,2065.2 1335.2,2039.3 1330,2075.6 1324.8,2054.7 1319.7,2052.4 1314.5,2035.9 1309.3,2079.4 1304.1,2141.6 1298.9,2037.6 1293.7,2032.1 1288.6,2036.7 1283.4,2098.2 1278.2,2127.6 1273,2035.1 1267.8,2101.8 1262.7,2054.2 1257.5,2086.7 1252.3,2182.5 1247.1,2112.6 1241.9,2092.2 1236.7,2055.1 1231.6,2097.2 1226.4,2089.7 1221.2,2085.7 1216,2095.2 1210.8,2041 1205.7,2040.2 1200.5,2039.7 1195.3,2040.2 1190.1,2039.7 1184.9,2054.2 1179.7,2051.5 1174.6,2097.2 1169.4,2067.5 1164.2,2044.1 1159,2046.7 1153.8,2040.2 1148.6,2137.5 1143.5,2070.8 1138.3,2115.7 1133.1,2187.7 1127.9,2107.4 1122.7,2045.8 1117.6,2044.1 1112.4,2100.8 1107.2,2067.5 1102,2102.8 1096.8,2194.9 1091.6,2075.6 1086.5,2054.2 1081.3,2052 1076.1,2089.9 1070.9,2076.3 1065.7,2073.2 1060.6,2075.4 1055.4,2102.6 1050.2,2103.9 1045,2138.1 1039.8,2099.1 1034.6,2088.1 1029.5,2163.5 1024.3,2093.8 1019.1,2095.6 1013.9,2103 1008.7,2138.1 1003.6,2090.7 998.4,2115.7 993.2,2104.8 988,2084.2 982.8,2095.6 977.6,2107.4 972.5,2082.4 967.3,2108.3 962.1,2094.7 956.9,2088.1 951.7,2111.3 946.5,2086.4 941.4,2085.9 936.2,2090.7 931,2104.8 925.8,2109.2 920.6,2128.9 915.5,2084 910.3,2163.5 905.1,2112.6 899.9,2073.6 894.7,2105.8 889.5,2063.2 884.4,2083.1 879.2,2102.2 874,2110.8 868.8,2111.7 863.6,2066.4 858.5,2067.3 853.3,2068.6 848.1,2073.6 842.9,2083.1 837.7,2072.7 832.5,2091.3 827.4,2089.9 822.2,2081.3 817,2089 811.8,2080 806.6,2082.2 801.5,2083.1 796.3,2078.2 791.1,2081.3 785.9,2079.5 780.7,2087.7 775.5,2089 770.4,2113.5 765.2,2120.3 760,2091.7 754.8,2117.6 749.6,2097.2 744.5,2098.5 739.3,2101.7 734.1,2099.5 728.9,2099.9 723.7,2106.7 718.5,2100.4 713.4,2100.4 708.2,2100.8 703,2121.2 697.8,2119.8 692.6,2191.9 687.5,2146.6 682.3,2142.1 677.1,2157.9 671.9,2114.9 666.7,2129.8 661.5,2126.6 656.4,2115.8 651.2,2193.3 646,2132.1 640.8,2170.6 635.6,2128 630.4,2186.5 625.3,2128.5 620.1,2125.3 614.9,2130.3 609.7,2154.7 604.5,2134.3 599.4,2133.2 594.2,2139.1 589,2132.5 583.8,2144.3 578.6,2167.1 573.4,2167.2 568.3,2158.5 563.1,2147.8 557.9,2162.7 552.7,2147 547.5,2146.7 542.4,2137.5 537.2,2166.4 532,2161.3 526.8,2152.4 521.6,2168.3 516.4,2151.4 511.3,2159.6 506.1,2152.5 500.9,2173.2 495.7,2160 490.5,2166.4 485.4,2164.9 480.2,2146.7 475,2146.4 469.8,2157.2 464.6,2166.5 459.4,2160.7 454.3,2175.3 449.1,2176.6 443.9,2174.2 438.7,2176.4 433.5,2177.2 428.4,2174.5 423.2,2179.3 418,2178.9 412.8,2177.2 407.6,2168.3 402.4,2178.1 397.3,2176.1 392.1,2170.7 386.9,2176.4 381.7,2175.9 376.5,2173.6 371.3,2166.6 355.8,2158.3 350.6,2176.4 345.4,2178.1 340.3,2180.1 335.1,2178.1 329.9,2171.8 324.7,2178.1 319.5,2179.5 314.3,2176.1 309.2,2180.3 304,2180.1 298.8,2179.3" fill="rgba(255,165,0,0.30)" stroke="none"/>
<polyline points="298.8,2155 304,2155.9 309.2,2156.1 314.3,2151.2 319.5,2155.2 324.7,2153.6 329.9,2146.3 335.1,2153.6 340.3,2155.9 345.4,2153.6 350.6,2151.7 355.8,2152.9 371.3,2152.5 376.5,2148.4 381.7,2151 386.9,2151.7 392.1,2145 397.3,2151.2 402.4,2153.6 407.6,2142.3 412.8,2152.5 418,2154.5 423.2,2155 428.4,2149.5 433.5,2152.5 438.7,2151.7 443.9,2149.1 449.1,2151.9 454.3,2150.3 459.4,2133.5 464.6,2140.3 469.8,2129.5 475,2117.1 480.2,2117.5 485.4,2138.4 490.5,2140.1 495.7,2132.7 500.9,2148 506.1,2124.1 511.3,2132.3 516.4,2122.9 521.6,2142.3 526.8,2124 532,2134.3 537.2,2140.1 542.4,2106.9 547.5,2117.5 552.7,2117.8 557.9,2135.8 563.1,2118.7 568.3,2131 573.4,2141.1 578.6,2140.9 583.8,2114.6 589,2101.2 594.2,2108.7 599.4,2101.9 604.5,2077.1 609.7,2102.2 614.9,2072.1 620.1,2065.9 625.3,2069.9 630.4,2141.2 635.6,2069.3 640.8,2121.7 646,2074.3 651.2,2149.6 656.4,2054.2 661.5,2067.6 666.7,2071.5 671.9,2053.1 677.1,2106.1 682.3,2086.6 687.5,2092.2 692.6,2147.9 697.8,2059.3 703,2060.9 708.2,2035.8 713.4,2035.3 718.5,2035.3 723.7,2043.1 728.9,2034.7 734.1,2034.2 739.3,2036.9 744.5,2033 749.6,2031.4 754.8,2056.5 760,2024.7 765.2,2059.8 770.4,2051.4 775.5,2021.3 780.7,2019.7 785.9,2009.6 791.1,2011.8 796.3,2007.9 801.5,2014.1 806.6,2013 811.8,2010.2 817,2021.3 822.2,2011.8 827.4,2022.4 832.5,2024.1 837.7,2001.2 842.9,2014.1 848.1,2002.4 853.3,1996.2 858.5,1994.6 863.6,1993.4 868.8,2049.2 874,2048.1 879.2,2037.5 884.4,2014.1 889.5,1989.5 894.7,2042 899.9,2002.4 905.1,2050.3 910.3,2127.6 915.5,2015.2 920.6,2064.7 925.8,2039.3 931,2033.6 936.2,2015.5 941.4,2009.3 946.5,2009.9 951.7,2042.1 956.9,2012.2 962.1,2020.6 967.3,2038.2 972.5,2004.8 977.6,2037 982.8,2021.8 988,2007.1 993.2,2033.6 998.4,2047.8 1003.6,2015.5 1008.7,2076.6 1013.9,2031.4 1019.1,2021.8 1024.3,2019.5 1029.5,2127.6 1034.6,2012.2 1039.8,2026.3 1045,2076.6 1050.2,2032.5 1055.4,2030.8 1060.6,1995.8 1065.7,1992.9 1070.9,1996.9 1076.1,2014.4 1081.3,2027.2 1086.5,2029.7 1091.6,2053.2 1096.8,2184.8 1102,2083.2 1107.2,2044.4 1112.4,2081 1117.6,2018.5 1122.7,2020.4 1127.9,2088.3 1133.1,2176.8 1138.3,2097.5 1143.5,2048 1148.6,2121.5 1153.8,2014.2 1159,2021.4 1164.2,2018.5 1169.4,2044.4 1174.6,2077.1 1179.7,2026.7 1184.9,2029.7 1190.1,2013.7 1195.3,2014.2 1200.5,2013.7 1205.7,2014.2 1210.8,2015.1 1216,2074.8 1221.2,2064.4 1226.4,2068.8 1231.6,2077.1 1236.7,2030.7 1241.9,2071.5 1247.1,2094.1 1252.3,2171.1 1257.5,2065.5 1262.7,2029.7 1267.8,2082.1 1273,2008.6 1278.2,2110.6 1283.4,2078.2 1288.6,2010.4 1293.7,2005.3 1298.9,2011.4 1304.1,2126 1309.3,2057.5 1314.5,2009.5 1319.7,2027.7 1324.8,2030.2 1330,2053.2 1335.2,2013.3 1340.4,2041.8 1345.6,2031.7 1350.7,2122.6 1355.9,2045.4 1361.1,2082.1 1366.3,2037.2 1371.5,2095.2 1376.7,2033.7 1381.8,2110.6 1387,2025.3 1392.2,2024.8 1397.4,2031.7 1402.6,2030.7 1407.7,2029.7 1412.9,2026.7 1418.1,2043.3 1423.3,2024.3 1428.5,2015.1 1433.7,2034.7 1438.8,2026.7 1444,2023.3 1449.2,2021.4 1454.4,2023.3 1459.6,2026.7 1464.8,2033.7 1469.9,2023.3 1475.1,2026.7 1480.3,2142.6 1485.5,2034.7 1490.7,2035.7 1495.8,2087.2 1501,2076 1506.2,2058 1511.4,2065.5 1516.6,2079.3 1521.8,2100.9 1526.9,2079.9 1532.1,2067.7 1537.3,2125.5 1542.5,2120.9 1547.7,2053.7 1552.8,2075.4 1558,2063 1563.2,2070.5 1568.4,2139.9 1573.6,2090.2 1578.8,2082.1 1583.9,2098.3 1589.1,2077.9 1594.3,2101.7 1599.5,2130 1604.7,2082.1 1609.8,2085.1 1615,2107.3 1620.2,2091.1 1625.4,2079.6 1630.6,2083 1635.8,2133 1640.9,2078.7 1646.1,2076.2 1651.3,2092.8 1656.5,2080 1661.7,2081.7 1666.8,2085.1 1672,2096.6 1677.2,2100 1682.4,2110.7 1687.6,2130 1692.8,2142.1 1697.9,2143.1 1703.1,2134.3 1708.3,2121.7 1713.5,2106.4 1718.7,2135.3 1723.9,2138.8 1729,2114.5 1734.2,2113.2 1739.4,2131.5 1744.6,2126 1749.8,2147.9 1754.9,2112.8 1760.1,2133.5 1765.3,2115.3 1770.5,2123.4 1775.7,2109 1780.9,2115.8 1786,2118.8 1791.2,2107.3 1796.4,2105.6 1801.6,2126 1806.8,2129 1811.9,2143.6 1817.1,2149.4 1822.3,2120.9 1827.5,2124.3 1832.7,2130.5 1837.9,2146.4 1843,2141.1 1848.2,2126.8 1853.4,2128.7 1858.6,2132.9 1863.8,2148.1 1868.9,2145.5 1874.1,2134.3 1879.3,2143.5 1884.5,2126.8 1889.7,2130.1 1894.9,2144.9 1900,2144.6 1905.2,2126.4 1910.4,2129.3 1915.6,2147.6 1920.8,2150.5 1925.9,2149.6 1931.1,2144.5 1936.3,2133.2 1941.5,2146.2 1946.7,2135.4 1951.9,2146.6 1957,2149.2 1962.2,2144.5 1967.4,2142.8 1972.6,2136.5 1977.8,2150.7 1983,2138.2 1988.1,2137.2 1993.3,2145.6 1998.5,2137.8 2003.7,2138.2 2008.9,2140.6 2014,2147.2 2019.2,2146.7 2024.4,2150.4 2029.6,2154.9 2034.8,2155.2 2040,2156.8 2045.1,2152.1 2050.3,2154.6 2055.5,2156 2060.7,2155.7 2065.9,2150.7 2071,2156.4 2076.2,2155.7 2081.4,2155.2 2086.6,2156.4 2091.8,2155.5 2097,2154.9 2102.1,2156.2 2107.3,2151 2112.5,2155.2 2117.7,2151.2 2122.9,2149.4 2128,2152.7 2133.2,2152.3 2138.4,2152.8 2143.6,2154.6 2148.8,2153.3 2154,2148.4 2159.1,2154.6 2164.3,2156.6 2169.5,2154.8 2174.7,2155.1 2179.9,2154.6 2185,2155.1" fill="none" stroke="#ff9c0a" stroke-width="1.95" stroke-dasharray="7 7.4" stroke-linejoin="round"/>
<polyline points="298.8,2179.3 304,2180.1 309.2,2180.3 314.3,2176.1 319.5,2179.5 324.7,2178.1 329.9,2171.8 335.1,2178.1 340.3,2180.1 345.4,2178.1 350.6,2176.4 355.8,2158.3 371.3,2166.6 376.5,2173.6 381.7,2175.9 386.9,2176.4 392.1,2170.7 397.3,2176.1 402.4,2178.1 407.6,2168.3 412.8,2177.2 418,2178.9 423.2,2179.3 428.4,2174.5 433.5,2177.2 438.7,2176.4 443.9,2174.2 449.1,2176.6 454.3,2175.3 459.4,2160.7 464.6,2166.5 469.8,2157.2 475,2146.4 480.2,2146.7 485.4,2164.9 490.5,2166.4 495.7,2160 500.9,2173.2 506.1,2152.5 511.3,2159.6 516.4,2151.4 521.6,2168.3 526.8,2152.4 532,2161.3 537.2,2166.4 542.4,2137.5 547.5,2146.7 552.7,2147 557.9,2162.7 563.1,2147.8 568.3,2158.5 573.4,2167.2 578.6,2167.1 583.8,2144.3 589,2132.5 594.2,2139.1 599.4,2133.2 604.5,2134.3 609.7,2154.7 614.9,2130.3 620.1,2125.3 625.3,2128.5 630.4,2186.5 635.6,2128 640.8,2170.6 646,2132.1 651.2,2193.3 656.4,2115.8 661.5,2126.6 666.7,2129.8 671.9,2114.9 677.1,2157.9 682.3,2142.1 687.5,2146.6 692.6,2191.9 697.8,2119.8 703,2121.2 708.2,2100.8 713.4,2100.4 718.5,2100.4 723.7,2106.7 728.9,2099.9 734.1,2099.5 739.3,2101.7 744.5,2098.5 749.6,2097.2 754.8,2117.6 760,2091.7 765.2,2120.3 770.4,2113.5 775.5,2089 780.7,2087.7 785.9,2079.5 791.1,2081.3 796.3,2078.2 801.5,2083.1 806.6,2082.2 811.8,2080 817,2089 822.2,2081.3 827.4,2089.9 832.5,2091.3 837.7,2072.7 842.9,2083.1 848.1,2073.6 853.3,2068.6 858.5,2067.3 863.6,2066.4 868.8,2111.7 874,2110.8 879.2,2102.2 884.4,2083.1 889.5,2063.2 894.7,2105.8 899.9,2073.6 905.1,2112.6 910.3,2163.5 915.5,2084 920.6,2128.9 925.8,2109.2 931,2104.8 936.2,2090.7 941.4,2085.9 946.5,2086.4 951.7,2111.3 956.9,2088.1 962.1,2094.7 967.3,2108.3 972.5,2082.4 977.6,2107.4 982.8,2095.6 988,2084.2 993.2,2104.8 998.4,2115.7 1003.6,2090.7 1008.7,2138.1 1013.9,2103 1019.1,2095.6 1024.3,2093.8 1029.5,2163.5 1034.6,2088.1 1039.8,2099.1 1045,2138.1 1050.2,2103.9 1055.4,2102.6 1060.6,2075.4 1065.7,2073.2 1070.9,2076.3 1076.1,2089.9 1081.3,2052 1086.5,2054.2 1091.6,2075.6 1096.8,2194.9 1102,2102.8 1107.2,2067.5 1112.4,2100.8 1117.6,2044.1 1122.7,2045.8 1127.9,2107.4 1133.1,2187.7 1138.3,2115.7 1143.5,2070.8 1148.6,2137.5 1153.8,2040.2 1159,2046.7 1164.2,2044.1 1169.4,2067.5 1174.6,2097.2 1179.7,2051.5 1184.9,2054.2 1190.1,2039.7 1195.3,2040.2 1200.5,2039.7 1205.7,2040.2 1210.8,2041 1216,2095.2 1221.2,2085.7 1226.4,2089.7 1231.6,2097.2 1236.7,2055.1 1241.9,2092.2 1247.1,2112.6 1252.3,2182.5 1257.5,2086.7 1262.7,2054.2 1267.8,2101.8 1273,2035.1 1278.2,2127.6 1283.4,2098.2 1288.6,2036.7 1293.7,2032.1 1298.9,2037.6 1304.1,2141.6 1309.3,2079.4 1314.5,2035.9 1319.7,2052.4 1324.8,2054.7 1330,2075.6 1335.2,2039.3 1340.4,2065.2 1345.6,2056 1350.7,2138.5 1355.9,2068.5 1361.1,2101.8 1366.3,2061 1371.5,2113.6 1376.7,2057.8 1381.8,2127.6 1387,2050.2 1392.2,2049.8 1397.4,2056 1402.6,2055.1 1407.7,2054.2 1412.9,2051.5 1418.1,2066.6 1423.3,2049.3 1428.5,2041 1433.7,2058.8 1438.8,2051.5 1444,2048.4 1449.2,2046.7 1454.4,2048.4 1459.6,2051.5 1464.8,2057.8 1469.9,2048.4 1475.1,2051.5 1480.3,2156.6 1485.5,2058.8 1490.7,2059.7 1495.8,2106.4 1501,2096.2 1506.2,2079.9 1511.4,2086.7 1516.6,2099.2 1521.8,2118.8 1526.9,2099.7 1532.1,2088.7 1537.3,2141.1 1542.5,2136.9 1547.7,2076 1552.8,2095.7 1558,2100.6 1563.2,2107.2 1568.4,2179.9 1573.6,2124.8 1578.8,2117.6 1583.9,2132 1589.1,2113.8 1594.3,2135 1599.5,2161.4 1604.7,2117.6 1609.8,2120.2 1615,2139.9 1620.2,2125.5 1625.4,2115.3 1630.6,2118.3 1635.8,2167.1 1640.9,2114.6 1646.1,2112.3 1651.3,2127 1656.5,2115.7 1661.7,2117.2 1666.8,2120.2 1672,2130.5 1677.2,2133.5 1682.4,2142.9 1687.6,2161.4 1692.8,2184.1 1697.9,2186 1703.1,2169.5 1708.3,2152.8 1713.5,2139.2 1718.7,2171.3 1723.9,2178 1729,2146.3 1734.2,2145.2 1739.4,2164.2 1744.6,2156.6 1749.8,2195 1754.9,2144.8 1760.1,2168 1765.3,2147.1 1770.5,2154.3 1775.7,2141.4 1780.9,2147.5 1786,2150.1 1791.2,2139.9 1796.4,2138.4 1801.6,2156.6 1806.8,2159.5 1811.9,2187 1817.1,2197.8 1822.3,2152 1827.5,2155.1 1832.7,2162.4 1837.9,2192.2 1843,2182.2 1848.2,2157.3 1853.4,2159.2 1858.6,2166.9 1863.8,2195.3 1868.9,2190.5 1874.1,2169.4 1879.3,2186.8 1884.5,2157.3 1889.7,2161.7 1894.9,2189.3 1900,2188.8 1905.2,2156.9 1910.4,2160.1 1915.6,2194.4 1920.8,2199.9 1925.9,2198.2 1931.1,2188.6 1936.3,2167.4 1941.5,2191.7 1946.7,2171.5 1951.9,2192.5 1957,2197.4 1962.2,2188.6 1967.4,2185.4 1972.6,2173.7 1977.8,2200.1 1983,2176.7 1988.1,2174.9 1993.3,2190.7 1998.5,2176.1 2003.7,2176.7 2008.9,2181.2 2014,2193.6 2019.2,2192.7 2024.4,2199.6 2029.6,2179.3 2034.8,2179.5 2040,2180.9 2045.1,2176.8 2050.3,2179 2055.5,2180.2 2060.7,2180 2065.9,2175.6 2071,2180.5 2076.2,2180 2081.4,2179.5 2086.6,2180.5 2091.8,2179.7 2097,2179.3 2102.1,2180.4 2107.3,2175.8 2112.5,2179.5 2117.7,2176 2122.9,2174.5 2128,2177.3 2133.2,2177 2138.4,2177.4 2143.6,2179 2148.8,2177.9 2154,2173.6 2159.1,2179 2164.3,2180.8 2169.5,2179.2 2174.7,2179.4 2179.9,2179 2185,2179.4" fill="none" stroke="#ff9c0a" stroke-width="1.95" stroke-dasharray="7 7.4" stroke-linejoin="round"/>
<polyline points="298.8,2167.1 304,2168 309.2,2168.2 314.3,2163.6 319.5,2167.3 324.7,2165.9 329.9,2159 335.1,2165.9 340.3,2168 345.4,2165.9 350.6,2164 355.8,2156.2 371.3,2159.1 376.5,2161 381.7,2163.4 386.9,2164 392.1,2157.8 397.3,2163.6 402.4,2165.9 407.6,2155.3 412.8,2164.9 418,2166.7 423.2,2167.1 428.4,2162 433.5,2164.9 438.7,2164 443.9,2161.6 449.1,2164.2 454.3,2162.8 459.4,2147.1 464.6,2153.4 469.8,2143.3 475,2131.8 480.2,2132.1 485.4,2151.7 490.5,2153.2 495.7,2146.4 500.9,2160.6 506.1,2138.3 511.3,2146 516.4,2137.2 521.6,2155.3 526.8,2138.2 532,2147.8 537.2,2153.2 542.4,2122.2 547.5,2132.1 552.7,2132.4 557.9,2149.3 563.1,2133.2 568.3,2144.7 573.4,2154.2 578.6,2154 583.8,2129.4 589,2116.9 594.2,2123.9 599.4,2117.5 604.5,2105.2 609.7,2127.6 614.9,2100.7 620.1,2095.2 625.3,2098.7 630.4,2162.5 635.6,2098.2 640.8,2145 646,2102.7 651.2,2169.9 656.4,2084.8 661.5,2096.7 666.7,2100.2 671.9,2083.8 677.1,2131.1 682.3,2113.7 687.5,2118.6 692.6,2168.4 697.8,2089.3 703,2090.7 708.2,2068.3 713.4,2067.8 718.5,2067.8 723.7,2074.8 728.9,2067.3 734.1,2066.8 739.3,2069.3 744.5,2065.8 749.6,2064.4 754.8,2086.8 760,2058.4 765.2,2089.8 770.4,2082.3 775.5,2055.4 780.7,2053.9 785.9,2044.9 791.1,2046.9 796.3,2043.4 801.5,2048.9 806.6,2047.9 811.8,2045.4 817,2055.4 822.2,2046.9 827.4,2056.4 832.5,2057.9 837.7,2037.5 842.9,2048.9 848.1,2038.5 853.3,2033 858.5,2031.5 863.6,2030.5 868.8,2080.3 874,2079.3 879.2,2069.8 884.4,2048.9 889.5,2027 894.7,2073.8 899.9,2038.5 905.1,2081.3 910.3,2148.5 915.5,2049.9 920.6,2096.2 925.8,2073.8 931,2068.8 936.2,2052.9 941.4,2047.4 946.5,2047.9 951.7,2076.3 956.9,2049.9 962.1,2057.4 967.3,2072.8 972.5,2043.4 977.6,2071.8 982.8,2058.4 988,2045.4 993.2,2068.8 998.4,2081.3 1003.6,2052.9 1008.7,2106.7 1013.9,2066.8 1019.1,2058.4 1024.3,2056.4 1029.5,2148.5 1034.6,2049.9 1039.8,2062.4 1045,2106.7 1050.2,2067.8 1055.4,2066.3 1060.6,2035.5 1065.7,2033 1070.9,2036.5 1076.1,2051.9 1081.3,2039.9 1086.5,2042.3 1091.6,2064.7 1096.8,2190 1102,2093.3 1107.2,2056.2 1112.4,2091.1 1117.6,2031.6 1122.7,2033.4 1127.9,2098.1 1133.1,2182.4 1138.3,2106.8 1143.5,2059.7 1148.6,2129.7 1153.8,2027.5 1159,2034.4 1164.2,2031.6 1169.4,2056.2 1174.6,2087.4 1179.7,2039.5 1184.9,2042.3 1190.1,2027.1 1195.3,2027.5 1200.5,2027.1 1205.7,2027.5 1210.8,2028.4 1216,2085.3 1221.2,2075.4 1226.4,2079.5 1231.6,2087.4 1236.7,2043.2 1241.9,2082.1 1247.1,2103.6 1252.3,2177 1257.5,2076.4 1262.7,2042.3 1267.8,2092.2 1273,2022.1 1278.2,2119.3 1283.4,2088.5 1288.6,2023.9 1293.7,2019.1 1298.9,2024.8 1304.1,2134 1309.3,2068.7 1314.5,2023 1319.7,2040.4 1324.8,2042.8 1330,2064.7 1335.2,2026.6 1340.4,2053.8 1345.6,2044.2 1350.7,2130.8 1355.9,2057.2 1361.1,2092.2 1366.3,2049.4 1371.5,2104.7 1376.7,2046.1 1381.8,2119.3 1387,2038.1 1392.2,2037.6 1397.4,2044.2 1402.6,2043.2 1407.7,2042.3 1412.9,2039.5 1418.1,2055.3 1423.3,2037.1 1428.5,2028.4 1433.7,2047 1438.8,2039.5 1444,2036.2 1449.2,2034.4 1454.4,2036.2 1459.6,2039.5 1464.8,2046.1 1469.9,2036.2 1475.1,2039.5 1480.3,2149.8 1485.5,2047 1490.7,2048 1495.8,2097 1501,2086.3 1506.2,2069.2 1511.4,2076.4 1516.6,2089.5 1521.8,2110.1 1526.9,2090.1 1532.1,2078.5 1537.3,2133.5 1542.5,2129.1 1547.7,2065.2 1552.8,2085.8 1558,2081.1 1563.2,2088.1 1568.4,2159.2 1573.6,2106.4 1578.8,2098.9 1583.9,2113.9 1589.1,2094.9 1594.3,2117 1599.5,2143.8 1604.7,2098.9 1609.8,2101.6 1615,2122.1 1620.2,2107.2 1625.4,2096.5 1630.6,2099.7 1635.8,2148.6 1640.9,2095.7 1646.1,2093.4 1651.3,2108.7 1656.5,2096.9 1661.7,2098.5 1666.8,2101.6 1672,2112.3 1677.2,2115.4 1682.4,2125.3 1687.6,2143.8 1692.8,2162.8 1697.9,2164.3 1703.1,2150.5 1708.3,2135.5 1713.5,2121.4 1718.7,2152.1 1723.9,2157.6 1729,2128.8 1734.2,2127.7 1739.4,2146.2 1744.6,2139.5 1749.8,2171.8 1754.9,2127.3 1760.1,2149.3 1765.3,2129.6 1770.5,2137.1 1775.7,2123.7 1780.9,2130 1786,2132.8 1791.2,2122.1 1796.4,2120.6 1801.6,2139.5 1806.8,2142.2 1811.9,2165.1 1817.1,2174.2 1822.3,2134.8 1827.5,2137.9 1832.7,2144.6 1837.9,2169.5 1843,2161.2 1848.2,2140.3 1853.4,2142 1858.6,2148.4 1863.8,2172 1868.9,2168 1874.1,2150.5 1879.3,2165 1884.5,2140.3 1889.7,2144.1 1894.9,2167.1 1900,2166.7 1905.2,2139.9 1910.4,2142.7 1915.6,2171.3 1920.8,2175.9 1925.9,2174.5 1931.1,2166.5 1936.3,2148.8 1941.5,2169.1 1946.7,2152.3 1951.9,2169.7 1957,2173.9 1962.2,2166.5 1967.4,2163.9 1972.6,2154.1 1977.8,2176.1 1983,2156.6 1988.1,2155.1 1993.3,2168.2 1998.5,2156.1 2003.7,2156.6 2008.9,2160.3 2014,2170.7 2019.2,2169.9 2024.4,2175.7 2029.6,2167.1 2034.8,2167.4 2040,2168.8 2045.1,2164.4 2050.3,2166.8 2055.5,2168.1 2060.7,2167.8 2065.9,2163.2 2071,2168.5 2076.2,2167.8 2081.4,2167.4 2086.6,2168.5 2091.8,2167.6 2097,2167.1 2102.1,2168.3 2107.3,2163.4 2112.5,2167.4 2117.7,2163.6 2122.9,2162 2128,2165 2133.2,2164.6 2138.4,2165.1 2143.6,2166.8 2148.8,2165.6 2154,2161 2159.1,2166.8 2164.3,2168.7 2169.5,2167 2174.7,2167.2 2179.9,2166.8 2185,2167.2" fill="none" stroke="#e89214" stroke-width="1.85" stroke-linejoin="round"/>
<path d="M204.8 2152.5H2278" stroke="#000" stroke-width="1.75" stroke-dasharray="7.2 7.114" fill="none"/>
<path d="M204.8 1621.7V2352.6" fill="none" stroke="#111" stroke-width="2.1"/>
<path d="M203.8 2351.7H2280" fill="none" stroke="#111" stroke-width="1.85"/>
<path d="M204.8 2318.5h-4.7M204.8 2235.5h-4.7M204.8 2152.5h-4.7M204.8 2069.5h-4.7M204.8 1986.5h-4.7M204.8 1903.5h-4.7M204.8 1820.5h-4.7M204.8 1737.5h-4.7M204.8 1654.5h-4.7M298.8 2351.7v4.7M459.4 2351.7v4.7M604.5 2351.7v4.7M765.2 2351.7v4.7M920.6 2351.7v4.7M1081.3 2351.7v4.7M1236.7 2351.7v4.7M1397.4 2351.7v4.7M1558 2351.7v4.7M1713.5 2351.7v4.7M1874.1 2351.7v4.7M2029.6 2351.7v4.7M2190.2 2351.7v4.7" stroke="#111" stroke-width="1.5" fill="none"/>
<g style="font-family:&quot;Liberation Sans&quot;,Arial,Helvetica,sans-serif;font-size:31px" text-anchor="end">
<text x="196.6" y="2329.6">-4</text>
<text x="196.6" y="2246.6">-2</text>
<text x="196.6" y="2163.6">0</text>
<text x="196.6" y="2080.6">2</text>
<text x="196.6" y="1997.6">4</text>
<text x="196.6" y="1914.6">6</text>
<text x="196.6" y="1831.6">8</text>
<text x="196.6" y="1748.6">10</text>
<text x="196.6" y="1665.6">12</text>
</g>
<g style="font-family:&quot;Liberation Sans&quot;,Arial,Helvetica,sans-serif;font-size:30px" text-anchor="middle">
<text x="298.8" y="2382.3">Jan</text>
<text x="459.4" y="2382.3">Feb</text>
<text x="604.5" y="2382.3">Mrz</text>
<text x="765.2" y="2382.3">Apr</text>
<text x="920.6" y="2382.3">Mai</text>
<text x="1081.3" y="2382.3">Jun</text>
<text x="1236.7" y="2382.3">Jul</text>
<text x="1397.4" y="2382.3">Aug</text>
<text x="1558" y="2382.3">Sep</text>
<text x="1713.5" y="2382.3">Okt</text>
<text x="1874.1" y="2382.3">Nov</text>
<text x="2029.6" y="2382.3">Dez</text>
<text x="2190.2" y="2382.3">Jan</text>
</g>
<text x="2192.6" y="78.5" text-anchor="start" style="font-family:&quot;Liberation Sans&quot;,Arial,Helvetica,sans-serif;font-size:38.7px;font-weight:bold" textLength="51" lengthAdjust="spacingAndGlyphs">(A)</text>
<text x="2192.6" y="875.3" text-anchor="start" style="font-family:&quot;Liberation Sans&quot;,Arial,Helvetica,sans-serif;font-size:38.7px;font-weight:bold" textLength="48.8" lengthAdjust="spacingAndGlyphs">(B)</text>
<text x="2192.6" y="1681.6" text-anchor="start" style="font-family:&quot;Liberation Sans&quot;,Arial,Helvetica,sans-serif;font-size:38.7px;font-weight:bold" textLength="47.2" lengthAdjust="spacingAndGlyphs">(C)</text>
<text transform="translate(42.7 390.7) rotate(-90)" text-anchor="middle" style="font-family:&quot;Liberation Sans&quot;,Arial,Helvetica,sans-serif;font-size:38px;font-weight:bold" textLength="89.4" lengthAdjust="spacingAndGlyphs">PPFD</text>
<text transform="translate(96 393) rotate(-90)" text-anchor="middle" style="font-family:&quot;Liberation Sans&quot;,Arial,Helvetica,sans-serif;font-size:37px;" textLength="412" lengthAdjust="spacingAndGlyphs">(µmol photons m<tspan dy="-13.5" style="font-size:24px">−2</tspan><tspan dy="13.5"> d</tspan><tspan dy="-13.5" style="font-size:24px">−1</tspan><tspan dy="13.5">)</tspan></text>
<text transform="translate(41.5 1174) rotate(-90)" text-anchor="middle" style="font-family:&quot;Liberation Sans&quot;,Arial,Helvetica,sans-serif;font-size:43px;font-weight:bold" textLength="474" lengthAdjust="spacingAndGlyphs">Net primary production</text>
<text transform="translate(96 1176) rotate(-90)" text-anchor="middle" style="font-family:&quot;Liberation Sans&quot;,Arial,Helvetica,sans-serif;font-size:37px;" textLength="381.5" lengthAdjust="spacingAndGlyphs">(g C m<tspan dy="-13.5" style="font-size:24px">−2</tspan><tspan dy="13.5"> seafloor d</tspan><tspan dy="-13.5" style="font-size:24px">−1</tspan><tspan dy="13.5">)</tspan></text>
<text transform="translate(41.5 1952.8) rotate(-90)" text-anchor="middle" style="font-family:&quot;Liberation Sans&quot;,Arial,Helvetica,sans-serif;font-size:43px;font-weight:bold" textLength="474.5" lengthAdjust="spacingAndGlyphs">Net primary production</text>
<text transform="translate(96 1958.6) rotate(-90)" text-anchor="middle" style="font-family:&quot;Liberation Sans&quot;,Arial,Helvetica,sans-serif;font-size:37px;" textLength="376.5" lengthAdjust="spacingAndGlyphs">(g C m<tspan dy="-13.5" style="font-size:24px">−2</tspan><tspan dy="13.5"> seafloor d</tspan><tspan dy="-13.5" style="font-size:24px">−1</tspan><tspan dy="13.5">)</tspan></text>
<rect x="220.3" y="873.2" width="28.5" height="5.6" fill="#3456b4"/>
<rect x="220.0" y="914.25" width="28.69999999999999" height="5.6" fill="#be3439"/>
<text x="265.9" y="885.9" text-anchor="start" style="font-family:&quot;Liberation Sans&quot;,Arial,Helvetica,sans-serif;font-size:30px;" textLength="118" lengthAdjust="spacingAndGlyphs">Ambient</text>
<text x="260.4" y="926.1" text-anchor="start" style="font-family:&quot;Liberation Sans&quot;,Arial,Helvetica,sans-serif;font-size:30px;" textLength="73" lengthAdjust="spacingAndGlyphs">+ 4°C</text>
<rect x="227.5" y="1653.3" width="29.0" height="5.6" fill="#3456b4"/>
<rect x="227.7" y="1694.8" width="29.0" height="5.6" fill="#e8a332"/>
<rect x="227.8" y="1734.1000000000001" width="28.899999999999977" height="5.6" fill="#12ae12"/>
<text x="270.2" y="1665.8" text-anchor="start" style="font-family:&quot;Liberation Sans&quot;,Arial,Helvetica,sans-serif;font-size:29.5px;" textLength="118.6" lengthAdjust="spacingAndGlyphs">Ambient</text>
<text x="267.3" y="1707.5" text-anchor="start" style="font-family:&quot;Liberation Sans&quot;,Arial,Helvetica,sans-serif;font-size:29.5px;" textLength="81.8" lengthAdjust="spacingAndGlyphs">Mean</text>
<text x="267.3" y="1746.8" text-anchor="start" style="font-family:&quot;Liberation Sans&quot;,Arial,Helvetica,sans-serif;font-size:29.5px;" textLength="83" lengthAdjust="spacingAndGlyphs">Miller</text>
<rect x="230" y="2387.5" width="2058" height="112.5" fill="#fff"/>
<text x="327" y="2435.3" text-anchor="start" style="font-family:&quot;Liberation Sans&quot;,Arial,Helvetica,sans-serif;font-size:33.5px;" textLength="181.5" lengthAdjust="spacingAndGlyphs">Winter: 6°C</text>
<text x="765.5" y="2433.8" text-anchor="start" style="font-family:&quot;Liberation Sans&quot;,Arial,Helvetica,sans-serif;font-size:33.5px;" textLength="175" lengthAdjust="spacingAndGlyphs">Spring: 7°C</text>
<text x="1224.5" y="2435.3" text-anchor="start" style="font-family:&quot;Liberation Sans&quot;,Arial,Helvetica,sans-serif;font-size:33.5px;" textLength="226.7" lengthAdjust="spacingAndGlyphs">Summer: 16°C</text>
<text x="1691.5" y="2433" text-anchor="start" style="font-family:&quot;Liberation Sans&quot;,Arial,Helvetica,sans-serif;font-size:33.5px;" textLength="221.4" lengthAdjust="spacingAndGlyphs">Autumn: 14°C</text>
<text x="2075.9" y="2436" text-anchor="start" style="font-family:&quot;Liberation Sans&quot;,Arial,Helvetica,sans-serif;font-size:33.5px;" textLength="182.3" lengthAdjust="spacingAndGlyphs">Winter: 6°C</text>
<rect x="604.15" y="2399" width="3.3" height="52.7" fill="#000"/>
<rect x="1082.85" y="2399" width="3.3" height="52.7" fill="#000"/>
<rect x="1556.55" y="2399" width="3.3" height="52.7" fill="#000"/>
<rect x="2025.9499999999998" y="2399" width="3.3" height="52.7" fill="#000"/>
<text x="1201.8" y="2491.5" text-anchor="start" style="font-family:&quot;Liberation Sans&quot;,Arial,Helvetica,sans-serif;font-size:44px;font-weight:bold" textLength="88.4" lengthAdjust="spacingAndGlyphs">Year</text>
</svg>
</body></html>
